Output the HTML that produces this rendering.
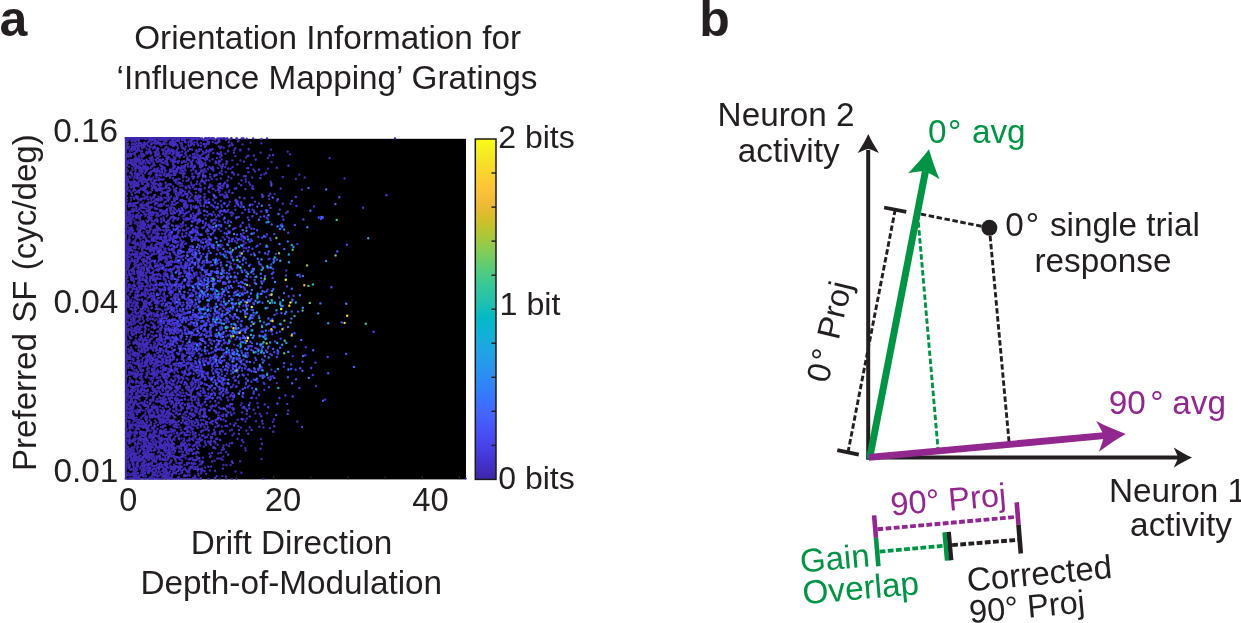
<!DOCTYPE html>
<html lang="en"><head><meta charset="utf-8"><title>Orientation information figure</title>
<style>
html,body{margin:0;padding:0;background:#fff;}
body{width:1241px;height:623px;overflow:hidden;}
svg{display:block;}
svg text{font-family:"Liberation Sans",sans-serif;}
</style></head><body>
<svg width="1241" height="623" viewBox="0 0 1241 623">
<defs><linearGradient id="pg" x1="0" y1="1" x2="0" y2="0"><stop offset="0.0000" stop-color="#3e26a8"/><stop offset="0.0476" stop-color="#4332cb"/><stop offset="0.0952" stop-color="#4741e5"/><stop offset="0.1429" stop-color="#4852f4"/><stop offset="0.1905" stop-color="#4563fd"/><stop offset="0.2381" stop-color="#3875fe"/><stop offset="0.2857" stop-color="#2e87f7"/><stop offset="0.3333" stop-color="#2797eb"/><stop offset="0.3810" stop-color="#20a5e3"/><stop offset="0.4286" stop-color="#12b1d6"/><stop offset="0.4762" stop-color="#02bac3"/><stop offset="0.5238" stop-color="#24c1ae"/><stop offset="0.5714" stop-color="#37c897"/><stop offset="0.6190" stop-color="#57cc7a"/><stop offset="0.6667" stop-color="#81cc59"/><stop offset="0.7143" stop-color="#abc739"/><stop offset="0.7619" stop-color="#d1bf27"/><stop offset="0.8095" stop-color="#f0ba36"/><stop offset="0.8571" stop-color="#fec338"/><stop offset="0.9048" stop-color="#fad62d"/><stop offset="0.9524" stop-color="#f5e924"/><stop offset="1.0000" stop-color="#f9fb15"/><stop offset="1" stop-color="#f9fb15"/></linearGradient>
<clipPath id="pc"><rect x="124.6" y="137.1" width="343" height="342.3"/></clipPath>
</defs>
<rect width="1241" height="623" fill="#fff"/>
<!-- panel a: scatter heat map -->
<rect x="125.4" y="138.8" width="340.6" height="340.6" fill="#000"/>
<g fill="none" stroke-width="2.4" stroke-linecap="round" clip-path="url(#pc)">
<path stroke="#3e26a8" d="M125.8 137.2V479.4M125 138.3H196M125 479.1H176M127.7 138.4h0M200.6 138.4h0M193.2 138.4h0M153.9 138.4h0M142.2 138.4h0M154.8 138.4h0M157.1 138.4h0M128.9 138.4h0M166.9 138.4h0M227.4 138.4h0M212.0 138.4h0M131.1 138.4h0M163.2 138.4h0M133.3 138.4h0M146.7 138.4h0M151.3 138.4h0M171.1 138.4h0M136.9 138.4h0M134.2 138.4h0M163.5 138.4h0M173.7 138.4h0M209.1 138.4h0M147.5 138.4h0M162.7 138.4h0M231.4 138.4h0M170.6 138.4h0M151.5 138.4h0M191.4 138.4h0M207.9 138.4h0M127.8 138.4h0M175.1 138.4h0M138.6 138.4h0M166.7 138.4h0M147.0 138.4h0M165.2 138.4h0M142.3 138.4h0M155.8 138.4h0M183.2 138.4h0M137.2 138.4h0M170.5 138.4h0M144.9 138.4h0M139.4 138.4h0M186.2 138.4h0M196.5 138.4h0M162.2 138.4h0M171.9 138.4h0M221.2 138.4h0M132.8 138.4h0M154.8 138.4h0M166.4 138.4h0M202.0 138.4h0M171.0 138.4h0M160.3 138.4h0M147.9 138.4h0M178.4 138.4h0M199.1 138.4h0M159.6 138.4h0M159.0 138.4h0M223.0 138.4h0M144.9 138.4h0M139.6 138.4h0M168.8 138.4h0M149.9 138.4h0M126.8 138.4h0M144.7 138.4h0M174.0 138.4h0M158.7 138.4h0M131.6 138.4h0M152.9 138.4h0M154.5 138.4h0M185.5 138.4h0M159.1 138.4h0M135.6 138.4h0M160.6 138.4h0M195.1 138.4h0M224.3 138.4h0M212.3 138.4h0M174.4 138.4h0M151.4 138.4h0M131.0 138.4h0M181.2 138.4h0M194.9 138.4h0M195.2 138.4h0M157.0 138.4h0M197.4 138.4h0M213.8 138.4h0M142.4 138.4h0M197.8 138.4h0M139.2 138.4h0M209.1 138.4h0M237.1 138.4h0M223.6 138.4h0M157.4 138.4h0M164.5 138.4h0M212.7 138.4h0M149.0 138.4h0M166.8 138.4h0M142.1 138.4h0M126.7 138.4h0M137.0 138.4h0M166.2 138.4h0M147.1 138.4h0M142.7 138.4h0M130.9 138.4h0M138.0 138.4h0M196.5 138.4h0M152.5 138.4h0M192.2 138.4h0M136.3 138.4h0M205.0 138.4h0M199.2 138.4h0M155.0 138.4h0M241.7 138.4h0M129.2 138.4h0M151.2 138.4h0M205.4 138.4h0M198.6 138.4h0M267.1 138.4h0M171.0 138.4h0M161.4 138.4h0M158.6 138.4h0M171.5 138.4h0M140.7 138.4h0M145.0 138.4h0M136.4 138.4h0M186.0 138.4h0M127.0 138.4h0M176.3 138.4h0M148.9 138.4h0M143.8 138.4h0M243.4 138.4h0M205.5 138.4h0M169.6 138.4h0M158.3 138.4h0M157.7 138.4h0M155.6 138.4h0M198.5 138.4h0M170.5 138.4h0M181.7 138.4h0M131.9 138.4h0M164.2 138.4h0M166.0 138.4h0M152.6 138.4h0M187.9 138.4h0M155.9 138.4h0M130.9 138.4h0M139.6 138.4h0M144.4 138.4h0M231.6 138.4h0M129.8 138.4h0M138.2 138.4h0M185.4 138.4h0M157.6 138.4h0M161.2 138.4h0M165.6 138.4h0M236.4 138.4h0M167.4 138.4h0M226.5 138.4h0M242.9 138.4h0M170.8 138.4h0M147.0 138.4h0M151.0 138.4h0M156.6 138.4h0M155.6 138.4h0M136.9 138.4h0M135.4 138.4h0M208.4 138.4h0M134.9 138.4h0M166.9 138.4h0M132.7 138.4h0M151.5 138.4h0M159.8 138.4h0M170.8 138.4h0M142.8 138.4h0M143.2 138.4h0M130.9 138.4h0M150.4 138.4h0M134.8 138.4h0M153.1 138.4h0M147.1 138.4h0M126.6 138.4h0M157.8 138.4h0M198.9 138.4h0M174.6 138.4h0M167.7 138.4h0M166.2 138.4h0M136.7 138.4h0M156.8 138.4h0M141.8 138.4h0M157.4 138.4h0M184.6 138.4h0M172.3 138.4h0M198.0 138.4h0M128.2 138.4h0M190.0 138.4h0M126.3 138.4h0M211.4 138.4h0M224.2 138.4h0M209.6 138.4h0M152.1 138.4h0M155.7 138.4h0M205.6 138.4h0M142.3 138.4h0M180.6 138.4h0M151.5 138.4h0M140.2 138.4h0M178.0 138.4h0M134.6 138.4h0M144.3 138.4h0M132.8 138.4h0M160.5 138.4h0M177.6 138.4h0M169.3 138.4h0M153.6 138.4h0M185.8 138.4h0M145.9 138.4h0M218.9 138.4h0M178.7 138.4h0M154.2 138.4h0M164.2 138.4h0M150.8 138.4h0M132.6 138.4h0M130.7 138.4h0M253.2 138.4h0M136.3 138.4h0M182.4 138.4h0M164.2 138.4h0M206.9 138.4h0M209.2 138.4h0M177.7 138.4h0M171.2 138.4h0M217.4 138.4h0M127.2 138.4h0M185.8 138.4h0M140.3 138.4h0M231.0 138.4h0M134.0 138.4h0M150.3 138.4h0M149.4 138.4h0M142.4 138.4h0M157.3 138.4h0M173.3 138.4h0M207.0 138.4h0M138.0 138.4h0M137.4 138.4h0M145.2 138.4h0M180.1 138.4h0M220.7 138.4h0M148.7 138.4h0M164.2 138.4h0M177.6 138.4h0M165.0 138.4h0M183.4 138.4h0M147.2 138.4h0M166.5 138.4h0M237.1 138.4h0M170.0 138.4h0M159.9 138.4h0M159.2 138.4h0M195.2 138.4h0M139.8 479.1h0M147.2 479.1h0M184.4 479.1h0M173.3 479.1h0M144.9 479.1h0M126.4 479.1h0M171.2 479.1h0M172.1 479.1h0M139.0 479.1h0M170.1 479.1h0M148.7 479.1h0M142.2 479.1h0M198.1 479.1h0M152.0 479.1h0M135.8 479.1h0M150.0 479.1h0M132.1 479.1h0M127.5 479.1h0M143.7 479.1h0M133.8 479.1h0M170.5 479.1h0M131.4 479.1h0M137.0 479.1h0M146.4 479.1h0M166.0 479.1h0M152.8 479.1h0M183.9 479.1h0M138.5 479.1h0M136.5 479.1h0M138.8 479.1h0M144.1 479.1h0M136.4 479.1h0M151.1 479.1h0M136.3 479.1h0M185.8 479.1h0M176.4 479.1h0M145.3 479.1h0M185.9 479.1h0M134.3 479.1h0M139.9 479.1h0M131.6 479.1h0M169.3 479.1h0M140.9 479.1h0M263.5 479.1h0M174.4 479.1h0M138.6 479.1h0M137.6 479.1h0M133.1 479.1h0M194.6 479.1h0M169.5 479.1h0M143.3 479.1h0M127.3 479.1h0M187.9 479.1h0M152.6 479.1h0M132.4 479.1h0M236.5 479.1h0M154.9 479.1h0M160.1 479.1h0M127.1 479.1h0M127.5 479.1h0M157.9 479.1h0M130.7 479.1h0M154.6 479.1h0M133.8 479.1h0M226.1 479.1h0M174.1 479.1h0M231.5 479.1h0M131.2 479.1h0M159.1 479.1h0M149.4 479.1h0M132.4 479.1h0M199.2 479.1h0M161.2 479.1h0M159.6 479.1h0M132.9 479.1h0M127.3 479.1h0M138.7 479.1h0M175.0 479.1h0M146.1 479.1h0M139.1 479.1h0M174.3 479.1h0M133.1 479.1h0M128.7 479.1h0M155.9 479.1h0M147.3 479.1h0M150.0 479.1h0M231.9 479.1h0M164.4 479.1h0M147.3 479.1h0M133.9 479.1h0M165.5 479.1h0M142.4 479.1h0M139.9 479.1h0M219.8 479.1h0M134.7 479.1h0M146.0 479.1h0M187.0 479.1h0M195.7 479.1h0M180.0 479.1h0M169.9 479.1h0M209.3 479.1h0M147.5 479.1h0M126.8 479.1h0M162.4 479.1h0M130.6 479.1h0M134.2 479.1h0M182.8 479.1h0M142.8 479.1h0M142.7 479.1h0M139.1 479.1h0M143.3 479.1h0M130.3 479.1h0M137.8 479.1h0M126.3 479.1h0M154.6 479.1h0M144.9 479.1h0M146.6 479.1h0M148.1 479.1h0M192.1 479.1h0M129.7 479.1h0M163.5 479.1h0M140.7 479.1h0M147.2 479.1h0M154.3 479.1h0M130.4 479.1h0M135.6 479.1h0M149.1 479.1h0M173.9 479.1h0M148.4 479.1h0M129.4 479.1h0M186.6 479.1h0M215.5 479.1h0M142.5 479.1h0M146.3 479.1h0M142.2 479.1h0M144.5 479.1h0M139.7 479.1h0M185.3 479.1h0M139.3 479.1h0M142.3 479.1h0M140.0 479.1h0M154.3 479.1h0M146.4 479.1h0M133.7 479.1h0M156.6 479.1h0M127.3 479.1h0M134.4 479.1h0M154.4 479.1h0M127.4 479.1h0M145.9 479.1h0M181.1 479.1h0M163.4 479.1h0M174.0 479.1h0M148.9 479.1h0M130.0 479.1h0M141.7 479.1h0M136.4 479.1h0M161.8 479.1h0M130.1 479.1h0M182.1 479.1h0M127.3 479.1h0M179.6 479.1h0M132.1 479.1h0M171.5 479.1h0M173.8 479.1h0M130.3 479.1h0M128.8 479.1h0M188.9 479.1h0M154.2 479.1h0M208.0 479.1h0M182.1 479.1h0M195.0 479.1h0M151.9 479.1h0M144.6 479.1h0M132.6 479.1h0M180.7 479.1h0M175.2 479.1h0M144.5 479.1h0M154.4 479.1h0M136.3 479.1h0M183.4 479.1h0M139.0 479.1h0M161.4 479.1h0M191.0 479.1h0M142.4 479.1h0M131.4 479.1h0M165.6 479.1h0M177.1 479.1h0M143.2 479.1h0M153.9 479.1h0M142.9 479.1h0M139.6 479.1h0M137.6 479.1h0M166.8 479.1h0M190.0 479.1h0M135.9 479.1h0M133.1 479.1h0M147.5 479.1h0M197.5 479.1h0M126.5 479.1h0M125.9 293.5h0M125.9 391.8h0M125.9 413.2h0M125.9 269.1h0M125.9 321.0h0M125.9 171.8h0M125.9 235.9h0M125.9 214.5h0M125.9 243.7h0M125.9 249.1h0M125.9 334.5h0M125.9 252.0h0M125.9 250.0h0M125.9 421.8h0M125.9 142.7h0M125.9 140.4h0M125.9 158.1h0M125.9 433.5h0M125.9 354.5h0M125.9 386.6h0M125.9 464.9h0M125.9 212.9h0M125.9 452.0h0M125.9 221.3h0M125.9 315.4h0M125.9 370.6h0M125.9 410.2h0M125.9 223.1h0M125.9 301.1h0M125.9 154.1h0M125.9 236.7h0M125.9 472.8h0M125.9 447.0h0M125.9 336.9h0M125.9 406.6h0M125.9 446.0h0M125.9 251.7h0M125.9 472.7h0M125.9 291.4h0M125.9 192.7h0M125.9 319.2h0M125.9 340.9h0M125.9 374.6h0M125.9 367.2h0M125.9 152.7h0M125.9 356.3h0M125.9 452.6h0M125.9 366.9h0M125.9 470.9h0M125.9 312.9h0M125.9 414.6h0M125.9 186.4h0M125.9 443.7h0M125.9 287.3h0M125.9 437.3h0M125.9 247.9h0M125.9 351.3h0M125.9 427.0h0M125.9 381.0h0M125.9 349.8h0M125.9 469.3h0M125.9 168.6h0M125.9 173.3h0M125.9 326.5h0M125.9 463.9h0M125.9 372.5h0M125.9 244.1h0M125.9 175.3h0M125.9 291.3h0M125.9 302.2h0M125.9 298.1h0M125.9 349.6h0M125.9 231.5h0M125.9 438.5h0M125.9 236.8h0M125.9 175.1h0M125.9 257.5h0M125.9 457.4h0M125.9 192.9h0M125.9 233.2h0M125.9 454.3h0M125.9 257.2h0M125.9 425.8h0M125.9 154.1h0M125.9 441.3h0M125.9 219.4h0M125.9 200.1h0M125.9 391.5h0M125.9 475.7h0M125.9 465.4h0M125.9 394.9h0M125.9 450.1h0M125.9 474.9h0M125.9 326.9h0M125.9 187.9h0M125.9 428.0h0M125.9 273.5h0M125.9 245.1h0M125.9 309.3h0M125.9 150.5h0M125.9 145.0h0M125.9 228.7h0M125.9 341.6h0M125.9 393.9h0M125.9 464.7h0M125.9 417.3h0M125.9 459.2h0M125.9 355.4h0M125.9 388.6h0M125.9 338.7h0M125.9 166.3h0M125.9 159.7h0M125.9 397.6h0M125.9 207.5h0M125.9 407.7h0M125.9 296.7h0M125.9 141.0h0M125.9 329.9h0M125.9 289.5h0M125.9 163.8h0M125.9 227.5h0M125.9 243.1h0M125.9 256.4h0M125.9 379.4h0M125.9 195.6h0M125.9 289.6h0M125.9 345.3h0M125.9 461.0h0M125.9 177.8h0M125.9 165.6h0M125.9 203.9h0M125.9 213.8h0M125.9 194.1h0M125.9 164.5h0M125.9 210.0h0M125.9 214.7h0M125.9 302.0h0M125.9 359.3h0M125.9 262.6h0M125.9 195.9h0M125.9 170.9h0M125.9 228.2h0M125.9 196.8h0M125.9 302.5h0M125.9 435.4h0M125.9 382.7h0M125.9 207.8h0M125.9 150.8h0M125.9 161.6h0M125.9 287.1h0M125.9 262.5h0M125.9 371.1h0M125.9 167.2h0M125.9 225.3h0M125.9 372.2h0M125.9 332.1h0M125.9 314.6h0M125.9 445.8h0M125.9 177.2h0M125.9 205.2h0M125.9 331.3h0M125.9 331.2h0M125.9 472.5h0M125.9 471.6h0M125.9 338.7h0M125.9 397.1h0M125.9 376.2h0M125.9 183.9h0M125.9 343.8h0M125.9 242.8h0M125.9 260.9h0M125.9 191.8h0M125.9 141.4h0M125.9 429.4h0M125.9 382.9h0M125.9 394.9h0M125.9 236.7h0M125.9 280.8h0M125.9 198.6h0M125.9 343.8h0M125.9 424.5h0M125.9 403.9h0M125.9 456.7h0M125.9 227.3h0M125.9 377.5h0M125.9 181.8h0M125.9 321.3h0M125.9 176.2h0M125.9 322.7h0M125.9 323.3h0M125.9 256.8h0M125.9 257.7h0M125.9 380.9h0M125.9 302.5h0M125.9 277.5h0M125.9 177.0h0M125.9 234.8h0M125.9 427.2h0M125.9 469.8h0M125.9 265.7h0M125.9 435.3h0M125.9 436.3h0M125.9 212.9h0M125.9 231.9h0M125.9 375.7h0M125.9 242.9h0M125.9 464.1h0M125.9 263.0h0M125.9 387.4h0M125.9 379.6h0M125.9 211.4h0M125.9 433.6h0M125.9 250.6h0M125.9 176.1h0M125.9 155.7h0M125.9 292.5h0M125.9 354.3h0M125.9 231.1h0M125.9 425.4h0M125.9 229.7h0M125.9 427.3h0M125.9 149.9h0M125.9 228.1h0M125.9 192.9h0M125.9 291.1h0M125.9 258.1h0M125.9 273.1h0M125.9 428.7h0M125.9 336.1h0M125.9 344.9h0M125.9 271.5h0M125.9 413.9h0M125.9 309.6h0M125.9 392.8h0M125.9 450.1h0M125.9 347.1h0M125.9 286.9h0M125.9 228.4h0M125.9 449.3h0M125.9 399.2h0M125.9 411.0h0M125.9 214.0h0M125.9 287.4h0M125.9 439.6h0M125.9 222.4h0M125.9 415.9h0M125.9 322.1h0M125.9 213.1h0M125.9 266.5h0M125.9 164.6h0M125.9 367.9h0M125.9 386.3h0M125.9 148.5h0M125.9 241.3h0M125.9 400.5h0M125.9 206.9h0M125.9 321.6h0M125.9 413.2h0M125.9 332.8h0M125.9 180.2h0M125.9 448.4h0M125.9 393.0h0M125.9 331.1h0M125.9 252.0h0M125.9 337.0h0M125.9 272.0h0M125.9 179.0h0M125.9 180.2h0M125.9 154.0h0M125.9 196.6h0M125.9 222.3h0M125.9 355.0h0M125.9 336.3h0M125.9 339.8h0M125.9 418.7h0M125.9 171.0h0M125.9 271.1h0M125.9 165.6h0M125.9 281.3h0M125.9 165.4h0M125.9 161.2h0M125.9 174.1h0M125.9 271.4h0M125.9 398.6h0M125.9 234.6h0M125.9 391.3h0M125.9 218.1h0M125.9 236.5h0M125.9 299.2h0M125.9 164.1h0M125.9 291.5h0M125.9 337.4h0M125.9 419.5h0M125.9 157.7h0M125.9 411.1h0M125.9 332.7h0M125.9 335.6h0M125.9 156.0h0M125.9 438.4h0M125.9 233.1h0M125.9 324.8h0M125.9 322.1h0M125.9 448.7h0M125.9 343.5h0M125.9 476.4h0M125.9 217.7h0M125.9 364.2h0M125.9 335.1h0M125.9 313.6h0M125.9 352.4h0M125.9 326.2h0M125.9 253.4h0M125.9 357.2h0M125.9 167.0h0M125.9 301.8h0M125.9 292.9h0M125.9 211.2h0M125.9 332.1h0M125.9 366.8h0M125.9 181.2h0M125.9 239.8h0M125.9 159.7h0M125.9 342.1h0M125.9 166.4h0M125.9 216.8h0M125.9 291.2h0M125.9 292.5h0M125.9 149.8h0M125.9 461.4h0M125.9 217.0h0M465.7 478.8h0M395.0 138.4h0"/>
<path stroke="#3e26a8" d="M131.4 348.9h0M143.5 439.2h0M136 222h0M128.3 233.2h0M146.5 153.4h0M146 470.5h0M129.5 364.4h0M135.2 420.4h0M137.2 457.1h0M157 441.7h0M142.1 146.7h0M126.7 148.5h0M137 139.6h0M142.4 188.2h0M163.4 142.8h0M132.8 459.9h0M149.9 471.1h0M127.3 316.8h0M127.9 385.3h0M128.4 286.3h0M143 162.4h0M133.1 206.3h0M130.3 392.3h0M143 179.1h0M128.2 154.4h0M179.7 463h0M130.1 403.6h0M136.3 393.2h0M129.3 405.7h0M132.8 428.4h0M128.3 457.1h0M132.5 230.4h0M153.1 442.6h0M136 347.4h0M126.8 434.4h0M127.8 274.9h0M130.8 183.9h0M135.1 396.7h0M156.6 476.3h0M129.9 474.2h0M126.7 445.6h0M128.4 162h0M134.4 149.5h0M136.3 182.9h0M128.2 243.5h0M142.9 322.8h0M137.4 215.4h0M140.3 226.3h0M126.4 391.3h0M131 200.1h0M131.5 453.9h0M162.1 170.9h0M133.3 372.6h0M154.1 459.3h0M168 369.2h0M132.6 462.3h0M128.6 385.8h0M132.1 149.9h0M148.3 425.9h0M130.3 247.1h0M135.4 292.1h0M128.1 478.9h0M145.6 434.6h0M131.9 367.2h0M143.6 254.1h0M166.5 394.5h0M127.3 296.5h0M151.7 463.8h0M137.3 289.8h0M127.8 393.7h0M147.5 199.1h0M180.1 143.1h0M127.1 217.7h0M133.9 254.9h0M135.4 475h0M136.6 297.1h0M137.7 450.7h0M129.4 240.3h0M137.8 275.8h0M133.2 303.5h0M128.5 251.5h0M128 302.5h0M136 217.9h0M130.2 239.9h0M146.6 427.7h0M147.5 391h0M132 460.5h0M140.4 329.5h0M142.9 202.4h0M134.7 153.5h0M135.4 189.9h0M127 198h0M133.6 359.9h0M151.7 189.2h0M126.9 453.5h0M134.8 370.4h0M127.9 344.9h0M136.4 304.1h0M133 331.1h0M131.6 149.8h0M127.6 266h0M135.4 244.8h0M128.9 475.4h0M132.5 261h0M131.6 450.2h0M148.2 214.3h0M130.6 403.1h0M160.2 410.5h0M136.8 150.3h0M136.3 313.1h0M143.8 144.2h0M134 248.1h0M139 162.7h0M129.6 230h0M144.8 304.3h0M142.6 339.3h0M144.3 291.4h0M133.7 203.2h0M151.6 244.1h0M130.8 326.5h0M134.3 272.5h0M132.3 463.3h0M146.7 181.3h0M133.7 397h0M130.8 400.1h0M153.5 429.1h0M131.8 433h0M127.4 277.8h0M128.9 250.6h0M146.5 445.9h0M127.7 328.6h0M147.4 450.3h0M126.3 168.1h0M141.6 159.1h0M145 466h0M146.8 426.8h0M145.2 188.2h0M149.7 477.5h0M132.5 458.2h0M139.2 479.1h0M143.6 446h0M152.1 363h0M144.3 155.6h0M144.4 454.2h0M127.4 143.7h0M126.7 376.4h0M133.5 343.7h0M126.8 143.9h0M135.9 164.3h0M132.4 358.5h0M135.6 256.1h0M129.2 240.7h0M128.9 270.8h0M222.4 476.1h0M146.9 450.1h0M136.4 412.6h0M128 248.8h0M132.4 309.9h0M143.1 472.6h0M139.3 171.3h0M132.5 280.4h0M160.5 459.2h0M135.1 251.5h0M127.7 261.7h0M135 266.3h0M138.8 284.9h0M146.6 151.7h0M126.1 376.4h0M133.9 322.6h0M138.7 175h0M150.9 386h0M127.9 289.3h0M127.8 243h0M128.5 298.4h0M159.6 160.3h0M140.3 223.9h0M139.2 423.9h0M129.6 329.4h0M129.3 284.7h0M138 260.7h0M129.5 316.2h0M172.5 421.8h0M141 408.4h0M136.1 196h0M136 382.7h0M135.6 317.4h0M137 151.5h0M135.8 156.8h0M131.5 453.6h0M145.4 246h0M136.8 197.8h0M140.9 381.6h0M153 197.5h0M140.9 162.4h0M126.5 435h0M126 457.1h0M128.3 160.4h0M131.5 140.6h0M128 440.2h0M126.7 169h0M140.9 447.3h0M137.9 441.9h0M142.6 435.7h0M134.6 417.7h0M132.9 469h0M132.2 167.9h0M156.3 456.1h0M135.5 398.3h0M137.3 321.5h0M125.9 178.2h0M134.9 375.8h0M140.5 177.3h0M137.7 392.8h0M128.1 270h0M137.5 229.6h0M128.3 432.8h0M141.6 272.3h0M135.9 469.1h0M140.4 351.5h0M133.7 470.9h0M137.2 341.1h0M130.8 249.1h0M133.4 161.1h0M130.5 456h0M139.4 351.7h0M142.6 153.6h0M138.2 478h0M130.1 215.8h0M140.7 269.9h0M142.8 422.8h0M130.8 399.7h0M128.3 254.3h0M130.8 426.2h0M131.5 291h0M153.8 180.2h0M147.5 179.6h0M128.6 215.3h0M127.9 318.6h0M134.4 176.8h0M161 145.7h0M158.9 469.3h0M131.1 416.9h0M129.7 218.6h0M129.2 424.8h0M130.5 235h0M130.2 274.8h0M129.8 450.5h0M139.2 438.8h0M130 183.6h0M129.7 455.2h0M133.7 272.2h0M146.9 206.3h0M138.1 173.5h0M128.8 325h0M144.5 460.3h0M138.3 140.6h0M129.6 380.4h0M128 245.5h0M125.8 392.3h0M131.2 329.7h0M133.8 464.1h0M128 366.1h0M169.6 424.1h0M185 447.5h0M127.1 249.7h0M136.9 161.5h0M128.7 391.8h0M130 377.9h0M144.6 425.9h0M127.5 144.5h0M147.1 453.9h0M128.4 462h0M129.5 235.9h0M127.4 400.4h0M131.6 447.4h0M140 437.5h0M125.8 182.1h0M126.9 416h0M127.5 436.9h0M129.9 150.7h0M168.4 446.5h0M142 148.4h0M126.4 361.3h0M141.6 378.5h0M137.2 160.6h0M131.9 354.4h0M128.6 351.7h0M158.3 141.5h0M151.1 463.5h0M144.4 228.9h0M130 475.1h0M126.8 437.2h0M129.9 350.1h0M145 229.1h0M128.2 217.1h0M134.2 431.9h0M152 190.2h0M131.4 220h0M141.3 382.6h0M135.8 478.1h0M173.8 453.4h0M147.7 349.4h0M130.8 391.7h0M127 225.3h0M133.1 153.4h0M151.5 144.6h0M131 457.8h0M129.2 221h0M132.9 147.4h0M127.8 259.4h0M128 187.4h0M156.1 444.1h0M129.4 264h0M135.7 163.2h0M137.1 167.2h0M134.7 471.2h0M144.8 305h0M136.3 157.3h0M129.2 211.8h0M129.7 350.2h0M138.4 330.4h0M153.9 430.5h0M138.6 281.2h0M162.7 447.3h0M139.1 316.7h0M155.4 406.2h0M136.2 479h0M135.3 310.8h0M131 329.5h0M135.2 439h0M156.4 417.4h0M133.8 341.9h0M125.9 198.7h0M133.4 451.8h0M134.7 328.6h0M138.7 181.1h0M134.1 438.6h0M130.6 427.6h0M148.9 437.6h0M135.1 232.9h0M129.3 409.4h0M126.5 340.1h0M134.7 460.3h0M132.2 399.1h0M131.9 393.1h0M143.6 476.4h0M138.1 282.7h0M133.6 178.5h0M141.7 403.5h0M134.2 198.9h0M157.4 441.4h0M128.3 157h0M131.4 277.4h0M152.6 138.6h0M136.6 473.5h0M152.6 445.7h0M150.8 154.1h0M128.4 259.9h0M144.2 443.6h0M147 256.9h0M130.5 412h0M133 214.7h0M132 209.5h0M135.4 444.9h0M126.6 358.1h0M127.4 432.8h0M161.7 199h0M126.9 216.7h0M138.8 141.8h0M178.7 463.5h0M134.6 355.2h0M128.4 290.7h0M132.3 204.2h0M129.2 437.6h0M130.4 395.3h0M126.1 442.5h0M138.1 447h0M127.5 245.2h0M152.9 357.6h0M129.4 382.4h0M126.8 230.6h0M139.8 411.9h0M136 457h0M132.6 297.4h0M135.4 331.8h0M127.8 354.9h0M127.1 267.4h0M128.3 349.2h0M130.4 401.6h0M148 446.2h0M127.2 341.4h0M132.5 150.4h0M135 402.8h0M127.7 356.9h0M126.3 365.2h0M146.6 442.8h0M130.7 475h0M168.3 435.7h0M133.4 138.6h0M138.5 462.1h0M158.8 161.4h0M126.8 407h0M143.4 236h0M140.8 443.6h0M134.5 420.7h0M140.3 200.3h0M133.7 144.2h0M125.9 188.3h0M159.7 438.8h0M129.7 396.6h0M163.6 188.4h0M131.5 247.1h0M132.3 394.6h0M131.3 323.8h0M130.6 212.1h0M154.2 473.3h0M137.8 199.3h0M131 197.6h0M131.4 322h0M135.1 242h0M130.1 294.5h0M131.1 232.4h0M136.5 401.9h0M133.6 466h0M163 475.3h0M162.2 471h0M128.2 464.1h0M129.3 237.4h0M131.7 186.8h0M133.8 234.1h0M128.8 263.7h0M146 419.7h0M131.6 416.3h0M133.5 458h0M146.9 426.3h0M128.2 334.5h0M129.5 478.5h0M139.1 285.9h0M134.3 455.5h0M136.1 151h0M131.2 413.4h0M126.3 311.7h0M133 359.2h0M152.2 143.3h0M129.6 336.6h0M127.2 429.4h0M131.5 232.3h0M144.2 198.3h0M127.1 211.4h0M137.1 428.2h0M150 174.5h0M128.9 358.1h0M137.1 253.7h0M128.4 214.3h0M141.5 472.2h0M133.8 241.2h0M134.5 447.3h0M126.4 457.3h0M139.3 174.4h0M133.5 273.5h0M149.3 231h0M126 279.1h0M126.5 220.2h0M133.3 186.3h0M128.5 329h0M141.1 440.8h0M132.8 250.5h0M134.8 155h0M130.3 431.3h0M128.8 442.4h0M134 320.3h0M151.3 401h0M133.2 372.8h0M143 238.1h0M140 436.7h0M131.4 250.7h0M138.2 382.2h0M133.6 270.9h0M147.3 457.2h0M130.7 138.6h0M135.1 294.7h0M138 466.6h0M132.4 160.1h0M126.3 420.1h0M129.8 435h0M138.2 199.2h0M138.7 225.9h0M127.3 182.8h0M142.2 370.8h0M130.3 222.5h0M131.7 366.3h0M129.7 428.7h0M132.3 242.9h0M126.3 402.9h0M137.4 283.4h0M136.2 182.7h0M125.9 429.1h0M136.3 289.5h0M148.8 446.5h0M138.3 412.3h0M128.3 153.8h0M126.2 204.4h0M132 450.3h0M134.6 147.8h0M145.4 166.6h0M130.7 459.8h0M130.6 211.6h0M127.2 242.9h0M127.8 225h0M137.1 243.9h0M133.1 449.5h0M135.8 161.5h0M143.5 166.5h0M164.2 469.2h0M166.3 431.8h0M150.7 364.3h0M126.9 375.8h0M134.5 367.2h0M127.7 161.8h0M128.4 297.1h0M129.7 385.2h0M142.3 445.6h0M128 440.5h0M132.2 426.5h0M154.2 270.6h0M142.8 471.4h0M147.1 386.2h0M133.7 419.6h0M142.4 268.4h0M131.9 349.9h0M127.1 182.1h0M142.6 145.9h0M128.8 383.4h0M132.5 232.9h0M130.8 276.8h0M135.5 457.2h0M131.3 274h0M136.4 445h0M127.3 232.5h0M181.8 170.3h0M168.8 472.8h0M163.2 150.8h0M128.8 212h0M127.4 415.6h0M127.3 253.4h0M149.4 443.1h0M129.8 203.7h0M135.1 139.3h0M127.6 221.4h0M127.3 259.4h0M141 355.8h0M128.7 273h0M128.1 408.8h0M138.5 273.9h0M138.5 443.3h0M149.2 471.5h0M127.7 268.3h0M145.3 449.6h0M142.1 351.2h0M141.6 379.1h0M138.9 248.5h0M143.7 194.9h0M135.9 292.3h0M128.3 243.7h0M134.8 223.2h0M145.3 440.8h0M131.4 381.5h0M142.4 163.4h0M138 183.5h0M136.8 264.9h0M126 186.5h0M129.7 439.8h0M153.2 159.2h0M131.2 417.5h0M136.1 353.5h0M134.9 425.3h0M136.8 211h0M127.7 390.2h0M128 446.9h0M127.1 288.8h0M127.8 138.8h0M131.4 349.6h0M139.6 163.9h0M139.5 173.9h0M137.7 252.3h0M129.3 467.8h0M138 331.7h0M136.1 431.5h0M130.3 412.8h0M137.3 425.6h0M126.5 354.4h0M128.7 214.5h0M150.9 463.9h0M172.1 466.9h0M126.4 429.8h0M132.2 164.8h0M130.5 202.7h0M128.2 245.6h0M131.3 260.2h0M131.2 217.6h0M133.3 204.3h0M138.3 405.4h0M152.8 161.4h0M136 158.3h0M135.9 362.9h0M143.3 371h0M153.3 411.7h0M127.9 404h0M129.3 248.2h0M133.9 140.5h0M139.9 230.1h0M149.9 416.4h0M134.8 432.1h0M129 375h0M131 347.4h0M137.7 453.2h0M132.8 381.3h0M156.4 430.7h0M153.1 441.7h0M140.8 295.5h0M131.1 478h0M145.1 187.3h0M139.1 217.7h0M130.3 408h0M132.9 362.5h0M126.4 194h0M139.4 476.7h0M135.3 455.4h0M137 329.1h0M128.2 261.2h0M138.7 173.6h0M138.1 421.7h0M129.8 356.2h0M129.6 205.6h0M132.2 453.8h0M135.6 455.5h0M132.8 312.5h0M137.5 387.9h0M126.9 306.4h0M132.2 333.3h0M135.4 410.9h0M137.3 355.2h0M132.3 148.6h0M141.4 156.3h0M129.4 214h0M127 154.9h0M137.9 386.1h0M130.3 228.2h0M128.1 405.3h0M131.9 181.7h0M142.2 254.9h0M138.8 339.2h0M138.1 463h0M131.3 223.5h0M131.5 415.1h0M139.8 218.9h0M127.1 354.5h0M131.6 138.6h0M134.9 174.4h0M139 475.7h0M128.5 227.6h0M134.7 411.3h0M127.2 179.7h0M144.1 178.7h0M150.6 447.7h0M134.4 158.8h0M138 296.3h0M133.6 358.9h0M135.3 322.4h0M170.9 462.2h0M143.9 463.3h0M126.8 283.4h0M134.4 300.6h0M130.7 220.7h0M145.6 468.3h0M129.4 205.4h0M128.2 389.4h0M149 447.4h0M131.4 359.4h0M133.8 197.5h0M126.2 469.9h0M139.7 322.9h0M128.7 213.5h0M140 216.3h0M148.9 437.1h0M129.4 341.2h0M140.6 168.9h0M129.1 349.6h0M134.1 402.6h0M128.3 367.9h0M130.4 338.3h0M164.2 470.5h0M126.7 261.4h0M133.6 464.6h0M141.9 364h0M158.2 142.6h0M127.1 183.5h0M141.2 436.6h0M149.8 212h0M140.7 286.1h0M128.9 303.3h0M130.5 292.2h0M134.4 181.8h0M140.5 378.3h0M136.5 363.6h0M132.8 461.7h0M128.8 156h0M127.2 200.9h0M132.2 218.3h0M126.6 221.9h0M140.9 458.7h0M140.7 455.6h0M138.6 453.2h0M140.8 391h0M129.6 358.8h0M139.3 234h0M127.4 178.9h0M139.1 364.7h0M137.2 224.4h0M151.6 142.6h0M133 463.5h0M127.1 253.9h0M141 188.5h0M141.6 351h0M139.6 328.2h0M130.9 171.9h0M140.1 455.4h0M145.1 472.9h0M130.7 215h0M140.6 220.4h0M128.6 181.6h0M136.7 185.7h0M146.1 408.6h0M129.6 411.5h0M143.3 160.7h0M127.6 277.2h0M138.7 147h0M130.1 469.4h0M159.5 238.3h0M165.8 417.1h0M133.3 439.9h0M127.3 314.9h0M141.1 417.8h0M136.5 417.6h0M132.6 424.9h0M151.1 182.1h0M126.2 213.6h0M133.4 203.4h0M135.9 410.7h0M128.9 356.2h0M131.8 210.8h0M128.9 374.3h0M142.3 379.2h0M126.7 409.3h0M135.2 148.9h0M145.2 205.1h0M133.6 391.3h0M133.9 459.3h0M130.3 153.4h0M129.4 294.4h0M141.4 268.7h0M134.2 403.8h0M126.4 260.2h0M126.7 219.8h0M129.1 402.8h0M145 237.3h0M141.9 469.4h0M143.4 422.5h0M130.9 150.2h0M136.8 422.5h0M154.1 444.6h0M138.1 215.5h0M129 357.6h0M142.9 457.4h0M126.2 454h0M132.7 352.2h0M152.8 455.2h0M132.1 328.2h0M150.3 197.4h0M181.2 472.7h0M136.1 468h0M132.9 447.4h0M150.5 467.4h0M131.2 456.6h0M130.4 433.7h0M127.4 180.4h0M135.8 177.6h0M130.9 424.9h0M129.9 301.7h0M147.7 404.9h0M132.5 407.9h0M148.2 410.3h0M157.8 452.4h0M138 389.8h0M127.5 329.2h0M141.5 215.4h0M141.7 381.1h0M133.4 354.3h0M131.7 173.7h0M138.8 191.1h0M128.6 434.3h0M126.1 201.4h0M134.7 173.6h0M128.6 303.7h0M127.7 451.1h0M146.6 456.3h0M137.8 266.6h0M140.4 433.2h0M148 408.8h0M130.1 469.4h0M127.9 331.8h0M127 146.4h0M127.9 326.1h0M135.6 382.5h0M128 259.8h0M134.3 243.5h0M132 194.9h0M149.5 256.8h0M165 455.9h0M130.4 317.5h0M126.4 178.7h0M141.1 210.6h0M132.7 303.6h0M139.3 457.9h0M128.5 240.8h0M138.9 148.9h0M141.4 472.6h0M131.1 279.3h0M127.7 179.5h0M131.6 305.7h0M147.5 426.9h0M143.6 176.3h0M134.6 162.1h0M131.2 149.3h0M126.9 193.7h0M125.8 228.4h0M144.4 246.5h0M133.8 450.4h0M139.4 383.5h0M134.4 435.7h0M131.6 366h0M135.9 458.3h0M134.4 410.6h0M138.4 160.7h0M127.7 362.4h0M133.5 186.3h0M126.2 149.1h0M209.8 470.5h0M139.1 438.6h0M150.9 346.1h0M132.8 160.2h0M132.8 369.3h0M134.2 434.3h0M170 471.1h0M130.4 365.9h0M141.5 206.2h0M147.9 473.1h0M143.4 155.4h0M162.6 387.3h0M139.1 157.6h0M133.9 334h0M133.5 441.5h0M149 211.9h0M134.7 472.4h0M145 404.2h0M126.9 321.5h0M141.6 170.2h0M150.1 192.4h0M133 277.5h0M134.4 264.8h0M131.4 424.5h0M131.6 161h0M146.1 180.2h0M130.2 372.7h0M164.3 141.3h0M126.9 375.6h0M127 386.4h0M142.7 448.4h0M142.4 424.2h0M126.7 182.5h0M146.4 159.4h0M145.3 215.9h0M141.8 182.5h0M128.1 190.6h0M137.2 396.4h0M145.4 186.3h0M156.6 154.6h0M137.3 358h0M141.1 154.1h0M145.9 339.9h0M134.4 324h0M129 166.6h0M153.4 177.4h0M135.6 411h0M132.8 402.6h0M135.8 235.1h0M140.6 239.2h0M129.8 254.2h0M157.4 406.8h0M128.6 148.6h0M130.5 406.4h0M166.3 144h0M154.3 412.9h0M157.4 149.3h0M128.2 441h0M144.5 146.1h0M129 404.5h0M134.6 189.9h0M147 153.6h0M140.1 468.4h0M128.2 218h0M126.8 185.9h0M126.9 146.4h0M136.4 425.2h0M135.5 206.1h0M158.8 215.7h0M129.7 182h0M129.9 190.6h0M126.2 254.4h0M137.1 303h0M129.5 417.9h0M139.9 146h0M133 463.4h0M147.1 421.7h0M136.3 412.4h0M148.4 406.1h0M137.4 174h0M137 178.6h0M132.3 150.8h0M134.9 297.6h0M127.8 171.3h0M127.7 230.8h0M149.3 162.8h0M131.3 392.4h0M145.7 426.7h0M140.3 425.9h0M134.5 424.4h0M154.5 147.9h0M126.5 268.2h0M143 190h0M143.2 458.7h0M129.2 272.5h0M133.7 289.3h0M134.7 159.8h0M136.7 459.1h0M138.3 222.5h0M143.3 441.7h0M130.2 353.8h0M131.2 192.5h0M128.3 472.9h0M133.4 470.8h0M131.4 231.1h0M129.2 427.5h0M137.4 229h0M132.9 475.4h0M131.6 418.4h0M126.3 396.3h0M126.5 304.5h0M127.7 288.2h0M128.7 432.8h0M133.1 390.8h0M127.8 458.4h0M145.7 186.3h0M166 447.7h0M131 454.5h0M129.9 257.1h0M128 421.3h0M163.9 473h0M135.1 163.5h0M144.8 244.6h0M139.2 155.7h0M126.8 343.1h0M151.3 443.9h0M131 287.2h0M138.5 270.1h0M137.8 316.3h0M149.1 177.6h0"/>
<path stroke="#402ab4" d="M147.2 396.2h0M160 430.6h0M162.2 139.6h0M127.3 412h0M129.4 250.6h0M149.4 241.8h0M135.1 402h0M134.4 474.7h0M159.6 350.2h0M133.2 230.5h0M212.8 141.9h0M140.6 369.2h0M172.5 139.1h0M135.8 433.1h0M158.7 315.2h0M129.6 421.2h0M157.8 170.9h0M141.2 270.3h0M154.4 278.8h0M137.3 257.6h0M151.8 338.5h0M135.1 352.8h0M140.6 227.5h0M173.5 172.9h0M167.5 466.1h0M165.8 363h0M147.9 430.8h0M223.2 186.2h0M140 450.6h0M145.1 327.5h0M125.8 434.4h0M126.3 227.4h0M142.1 151.3h0M154.2 431.6h0M148.9 326.1h0M133.7 388.1h0M152.1 465.8h0M149 430.4h0M129.3 443.6h0M198.6 452.7h0M163.2 388.6h0M129.2 402.1h0M146.7 316.1h0M143.9 222.5h0M142 458.3h0M136.1 333.6h0M127.4 263.3h0M145.6 296.2h0M141.8 439h0M154.2 432.3h0M188.6 459.4h0M139.9 231.8h0M157 364.4h0M144.8 350.3h0M205.1 467.6h0M157.9 213.6h0M200.7 155.8h0M163.5 217.4h0M184.2 446h0M127.6 178.8h0M165.6 342.6h0M151.7 463.5h0M135.8 302.5h0M137.7 409.8h0M182 381.2h0M159.8 445.2h0M162.6 432.1h0M134.5 319.1h0M155.8 446h0M131.4 148.5h0M171.3 144.9h0M146.7 230.8h0M169.5 199.4h0M174.6 145.2h0M183.3 454.6h0M151 358.8h0M155.9 209.1h0M209.4 151.8h0M143.3 405.1h0M195.3 155.8h0M144.8 178.9h0M174.8 426.8h0M194.1 185.2h0M170 344.3h0M164.6 172.7h0M141.6 359.8h0M154 412.9h0M205 437.7h0M165.7 147.2h0M129.9 356.6h0M149.8 218h0M149.5 232.4h0M162.8 358.6h0M186.7 360.1h0M133.6 415.3h0M149.3 218.2h0M148 167.2h0M153.8 388.6h0M150 249.5h0M200 165.7h0M179.5 392h0M148.1 186h0M133.8 186.8h0M135.9 185.8h0M139.9 238.5h0M151.7 207.5h0M155.8 375.1h0M183.3 172.9h0M230.2 396.5h0M135.2 363.7h0M218.9 160.8h0M133 317.8h0M164 237.4h0M175.1 387.1h0M126.4 454.9h0M139.1 419.7h0M146.3 275.8h0M139.7 288.8h0M270.9 149.6h0M201.1 420.2h0M156.8 278.8h0M166.4 378.5h0M144.6 415.3h0M137.4 447.5h0M152 188.6h0M158.9 391.1h0M164.2 192.5h0M199.1 413.4h0M161.1 447.9h0M137 183h0M135.6 171h0M141 180.5h0M152.6 387.8h0M133.7 208.8h0M174.2 219h0M161.1 394h0M135.8 304.7h0M164.4 149.3h0M142.8 253.8h0M172.1 299.4h0M133.8 477.3h0M163.2 230.1h0M138.2 313.3h0M136.8 425.9h0M222.9 237.3h0M221.5 430.6h0M245.7 179.1h0M148 470.8h0M184 455.8h0M145.3 224.1h0M162.6 466.9h0M171.1 445.8h0M148.5 152.2h0M162.1 341.5h0M182 161.6h0M144.5 433.3h0M159.2 414.7h0M145.5 391.3h0M150.2 374.1h0M177.6 422.1h0M162.2 389.8h0M158 199.4h0M171.8 447.4h0M149.8 259.7h0M226.3 465.1h0M144.8 405.8h0M240.8 405.1h0M147.4 354.5h0M142 293h0M154.7 416.9h0M177.4 394h0M148.5 161.2h0M200.8 143.2h0M139.9 378.1h0M142.7 319.1h0M193.1 168.4h0M144.9 452.2h0M155.3 327h0M167.8 164.4h0M137 432.5h0M143.8 211.6h0M126.5 387.8h0M141 374h0M168.6 407h0M134.1 281.5h0M170.8 389.5h0M150.5 313.4h0M130.5 413.9h0M165.4 420.3h0M169.3 399.4h0M182.2 364.8h0M153.8 336.7h0M144.1 267.5h0M148.5 297.1h0M185.7 458.2h0M157 436.3h0M147.5 310.6h0M134.4 164.1h0M142.7 211.7h0M223.4 414.4h0M203.8 414.2h0M154.6 325.6h0M153.6 213h0M131.4 255.3h0M138.3 373.7h0M201.5 158h0M145.4 410.6h0M145.3 275.3h0M182.9 245.7h0M147.8 233.7h0M167.3 162h0M150.9 394.9h0M131.1 309h0M143.6 448.8h0M147 358.3h0M226.5 393.5h0M134.4 309.3h0M175.4 190.1h0M137 353.3h0M234.6 188.7h0M126.9 146.9h0M142.5 206.2h0M174.1 238.6h0M160.3 401.9h0M128.9 206.4h0M145.5 346.6h0M151.2 284.6h0M153.6 197.5h0M142.4 449.1h0M145 361.9h0M142.2 360.4h0M171.5 460.4h0M145.1 435.2h0M148 179.6h0M150.3 415.4h0M162.1 445.8h0M150.7 345h0M160.5 365h0M142.4 460h0M148.2 343.8h0M138.6 144.3h0M175.8 422.7h0M144.1 389.5h0M126.9 165.7h0M171.6 206.4h0M174.4 439.7h0M170.1 365.6h0M212.4 138.9h0M180.2 400h0M139.9 229.7h0M145.1 190.4h0M137 404.3h0M161.1 237.9h0M169.8 454.9h0M211.7 185.4h0M157.7 409.8h0M142.1 180.8h0M234.3 150.2h0M213.7 392.5h0M138.4 350.1h0M222 426.6h0M172.1 371.2h0M135.1 147.1h0M167.5 464.1h0M161.5 381.4h0M131.1 425.7h0M161.4 297.3h0M191.2 165.5h0M138.3 202.1h0M232.3 160.4h0M136.9 448.6h0M177.1 333.3h0M177.9 314.3h0M199.2 434.7h0M167 305h0M143.2 272.8h0M137.6 236.9h0M196.8 408.9h0M177.8 303.6h0M161.8 466.4h0M137.7 256.5h0M146.2 152.6h0M192.8 167.3h0M140.2 257.8h0M131.4 338.3h0M133.9 405.5h0M141.7 327h0M130.9 347.2h0M155 187.5h0M152.2 382.4h0M159 273.9h0M126.9 176.8h0M173.1 410.8h0M168.8 449.1h0M155.6 174.6h0M189.5 421.9h0M164.3 163h0M198.6 201.5h0M189.3 471.8h0M170.1 142.2h0M131.3 314.6h0M158.9 185.6h0M142.1 242.7h0M162.1 149.8h0M177.9 389.4h0M152.4 389.3h0M156 435.6h0M156.6 446.9h0M144.9 294.3h0M148.6 186.2h0M147.1 468h0M167.8 185.1h0M198.7 442.4h0M171.2 175.3h0M142.7 171.3h0M198.5 260.5h0M133.5 454.4h0M158 447h0M148.1 161.8h0M131.5 330.9h0M170.4 478.1h0M154.4 195.9h0M130.7 409h0M134.7 475.9h0M136.1 237.3h0M139.1 456.3h0M185.7 455.3h0M129.9 274.7h0M178 297.3h0M138.1 278.3h0M140.5 189.4h0M152.7 389h0M167.2 363h0M132.9 405.3h0M143 223.9h0M145.1 225.3h0M140.4 241.7h0M165.6 250.9h0M163 257.6h0M149.6 207.3h0M183.7 176.5h0M144.4 389.8h0M155 194.9h0M205.7 373.7h0M193.5 166.6h0M164.2 475.7h0M148 152.8h0M154.9 139.3h0M157.7 150.2h0M167.7 165.1h0M180 213.4h0M146.7 148.7h0M146.4 374.3h0M156.6 229.5h0M150.5 463.3h0M145.3 439.4h0M206.2 171.5h0M182 147.6h0M149.3 219.8h0M149.8 146.7h0M142.8 184.1h0M168.6 351.4h0M156.8 174.3h0M198.5 195.5h0M204.8 441.3h0M135.2 169h0M166.7 174.2h0M141.4 459.9h0M149 353.6h0M136.5 143.1h0M174.2 161.7h0M187.2 408.7h0M150.3 399.9h0M163.2 422.7h0M141.8 470h0M140.4 229.2h0M187.5 427.9h0M136.4 313.8h0M172.8 140.6h0M137.7 428.9h0M160.2 439h0M126.3 255.4h0M145.1 454.9h0M179.7 172.8h0M157.3 154.1h0M127 475.3h0M220.5 335.4h0M174.1 157.2h0M139.6 315.6h0M127.3 313.5h0M189.4 459.6h0M192.2 458.6h0M154.5 183.6h0M168.6 194h0M147.1 416.5h0M167 381.1h0M149 216.3h0M132.4 410.7h0M172.6 142.7h0M146.1 304.1h0M171 469h0M166.5 158.1h0M217 158h0M140.2 276.8h0M149.8 442.7h0M136.2 342.3h0M154.3 449.8h0M220.2 157.2h0M140.2 407h0M128.7 266.7h0M168.6 234.5h0M141.6 173.2h0M159.3 463.9h0M148.9 471.3h0M150.1 436.3h0M160.1 406.8h0M186.2 204h0M140.6 467h0M144.1 432.2h0M141.6 348h0M154.8 212.6h0M148.2 184h0M158.1 448.6h0M139.3 190.2h0M147.7 142.4h0M156.1 236.4h0M156 187.3h0M139.9 336.6h0M126.3 291.7h0M155 245.8h0M146.5 282.4h0M210.8 441.9h0M128.2 252.8h0M138.2 438.2h0M142.8 432h0M190.9 363.3h0M169.9 172h0M159.6 475.4h0M143.6 462.5h0M231.8 143.1h0M139.9 217.5h0M160.9 427.1h0M135.7 330.8h0M143.1 393.1h0M157 381.6h0M143.3 475.9h0M153.4 378h0M160 290h0M148.8 377.6h0M143.9 447.4h0M139.1 458.3h0M168.9 148.4h0M163 477h0M139.1 343h0M140.9 164.3h0M158 155.4h0M153.8 342.2h0M204.3 412.4h0M153.6 453.9h0M167.6 357.1h0M150.8 247.4h0M160.3 245.8h0M146.6 438.4h0M164.7 167.6h0M134.1 181.3h0M189.1 192.3h0M140.6 326.6h0M137.6 158.9h0M150.2 339.2h0M165.6 472.5h0M162.2 300.8h0M164.7 394.2h0M175.2 173.1h0M150.8 430.6h0M157.6 436h0M175.4 158.2h0M134.2 376.6h0M133.1 237.2h0M158.3 142.2h0M149.4 270.6h0M146.3 391h0M142.5 169.3h0M142.2 156.8h0M162.4 459.6h0M159.1 285.2h0M216.7 345.5h0M142.4 435.3h0M152.4 409.6h0M193.4 464.4h0M160.7 243.3h0M126.8 184.6h0M158.5 248.6h0M142.8 421.2h0M144.1 344.3h0M154.2 169.2h0M139.5 399.8h0M130.9 161.4h0M223.5 465h0M171.6 431.9h0M170.7 184.7h0M134.6 306.6h0M130 230.2h0M152.9 285.1h0M161.1 197.5h0M155.5 474.9h0M213.4 169.2h0M158.5 315.5h0M200 445.6h0M143.3 235.7h0M138.8 168.4h0M141.2 215h0M163.1 247.1h0M138.8 440.3h0M145.8 437.9h0M135.9 453.8h0M164.9 464h0M127.5 392.2h0M203.9 446.6h0M186.2 419.2h0M152.7 380.4h0M153.4 318.6h0M199.4 444.7h0M168.2 184.2h0M165.2 140.9h0M135.6 436.6h0M156.4 340.9h0M150.7 152.9h0M182.3 171h0M126.3 312.3h0M289.9 154.3h0M151.4 226.4h0M169.5 439.3h0M166.8 454.9h0M149.8 285.8h0M179.1 377.5h0M150.7 265.8h0M219.5 164.9h0M132.3 374h0M168.4 468h0M182.2 395.9h0M156.3 474.9h0M160.8 367.8h0M186.2 271.8h0M144.9 242.8h0M135.1 192.7h0M170.9 295h0M149.8 417.5h0M139.1 264.6h0M147.1 347.2h0M132.3 441.1h0M164.6 356.5h0M201.8 462.9h0M148.6 465.1h0M135.6 374.2h0M171.1 365.9h0M130.8 401.4h0M162.8 407.6h0M145.8 361.1h0M141.7 168.1h0M133.5 271.3h0M179.3 448.3h0M178.4 435.8h0M136.8 235.6h0M146.7 257.2h0M158.9 309h0M138.1 321.2h0M143 370h0M145 265.1h0M160.2 437.9h0M138.8 347.5h0M209.9 184.4h0M145.7 437.2h0M184.5 270.5h0M148.6 310.8h0M186.7 180.9h0M131.9 473.6h0M161.6 412.1h0M137.9 386.5h0M192.9 187.1h0M148.5 411.3h0M147.1 430h0M241.4 472.7h0M157.7 220.5h0M141.8 250.2h0M177.8 145.6h0M136.6 296h0M142.9 386h0M185.6 208.3h0M176.6 170.4h0M169.1 410.5h0M157.7 457.2h0M186 418.5h0M136.3 380.6h0M149.8 415.1h0M148.1 262.6h0M144.1 258.9h0M154 195.4h0M159.7 422.8h0M154.6 168.8h0M143.3 427.7h0M155.7 314.9h0M142.6 314h0M135.5 210.4h0M143.6 223.4h0M131.6 455.1h0M148.2 465.3h0M145 423.4h0M142.3 176.5h0M161.3 175.5h0M185.1 449h0M162.5 191.9h0M168.3 456.7h0M148.5 208.5h0M184.9 141.9h0M141.6 233.9h0M144.9 364.3h0M154.3 475.1h0M162 162.6h0M176.5 462.9h0M160.5 371.3h0M160 255h0M129.3 247.2h0M211.6 394.7h0M203.1 165h0M187.2 389.5h0M157.8 476.5h0M149.2 149.5h0M185.7 449.3h0M143.8 340h0M208 427.3h0M175.3 138.7h0M143.9 188.5h0M136.4 475.4h0M148.1 162.7h0M140.4 403h0M161.7 283.1h0M154.8 367.9h0M209.4 166.9h0M157.2 208.9h0M164.3 212.5h0M158.3 270.7h0M159.9 324.6h0M146.6 220.7h0M146.6 425.2h0M229.2 146.4h0M158.9 435.8h0M148.5 249.1h0M138.2 403.9h0M149.4 236.5h0M146.7 306.9h0M164.2 415.7h0M158.8 189.9h0M177.1 198.8h0M145.7 461.5h0M173.9 455.9h0M137.2 465.8h0M137 381.1h0M137.8 364.6h0M172.3 238.9h0M214 138.7h0M163.3 416.1h0M162.2 166.3h0M205.6 379.2h0M182.1 139.8h0M163.6 439h0M189.6 350.1h0M143.2 221.1h0M172.4 431.2h0M190.5 391.2h0M154.6 316.1h0M198.8 197.5h0M143 276.1h0M175 159.6h0M144 245h0M157.9 275.4h0M153.3 347.1h0M140.7 233h0M128.5 181.8h0M171.8 396.2h0M191.6 185.1h0M145.2 418h0M165.9 238h0M127.9 321.4h0M151.6 373.9h0M172.6 162.3h0M198.1 457.6h0M138.6 236.9h0M137 271.1h0M136.8 298.5h0M171 213h0M150.8 247.3h0M163.9 323.2h0M174.9 199.9h0M148.2 359.9h0M137.7 398.3h0M134.4 390.9h0M128.1 143.9h0M152.9 223.7h0M183.1 372.6h0M150.7 278.4h0M136 146.1h0M158.8 238.3h0M184.1 476.3h0M178.1 154.5h0M183.7 418.5h0M177.2 171.4h0M142.4 312.1h0M146.1 306.4h0M134.7 311.5h0M130.6 308.7h0M128.4 299.2h0M148.9 179.4h0M153.3 214.5h0M134.5 320h0M128.4 467.8h0M152.5 459.7h0M142.1 360h0M149.1 454h0M142 285.6h0M153.1 170.7h0M160 441.7h0M166.1 414.2h0M157.3 149h0M175.4 298.4h0M188.9 463.2h0M164.9 258.4h0M144.8 142.6h0M140.5 312.1h0M181.3 451.2h0M180.7 347.4h0M138.4 267.2h0M171.6 440.5h0M153.3 456.3h0M193.1 428.6h0M148.4 360.9h0M148 224.6h0M150.9 331.8h0M165.3 252.4h0M156.8 264h0M184.5 474.9h0M175.1 467.8h0M134.2 247.8h0M148.2 411.9h0M149.4 450.8h0M215.6 190.6h0M162.9 252h0M135.6 246.7h0M135.7 203.2h0M176 242.7h0M145.5 465h0M150.2 263.8h0M202 179.5h0M155.9 469.9h0M146.7 143.7h0M153.3 230.3h0M129.8 415.9h0M168.6 438.1h0M133.1 416.7h0M138.8 406.4h0M158.5 260.4h0M165.1 465.6h0M174.4 151.1h0M176 456.9h0M131.6 183.9h0M149.8 414.1h0M177.6 155.5h0M136.4 369.8h0M153.8 444h0M160.8 238.8h0M161.9 268.3h0M206.7 139.8h0M152.4 224.5h0M138.6 291h0M156.5 244.1h0M139.3 328.9h0M160.4 439.3h0M136.3 237.8h0M189.7 391.1h0M164 410h0M164.3 446.2h0M145.7 169.9h0M141.4 446.5h0M166.2 383.5h0M153.2 248.2h0M146.4 303h0M157.7 413.1h0M160.6 246.4h0M210.2 422.7h0M158 412.6h0M137.8 278.3h0M181.5 396.3h0M156.8 306.4h0M180.1 446.2h0M158.1 184.7h0M161.1 337.2h0M145.4 191.7h0M143.7 404.7h0M226.5 444.8h0M150.7 296.5h0M148.3 203.4h0M139.9 311.2h0M142.1 224.2h0M169.2 197.9h0M140.1 160.7h0M145.6 356.8h0M184.6 435.1h0M163.8 439.4h0M162.9 400.2h0M154.5 253.9h0M185.9 415.4h0M146.7 203.8h0M157.1 457.3h0M166.4 334h0M154.6 395.6h0M155.5 220.1h0M138.8 423h0M191 182.5h0M166.2 310.2h0M151.1 171.4h0M147.9 440.6h0M143.7 450h0M135.2 342.8h0M132.6 268.8h0M143.9 392.7h0M250.5 142.6h0M148.3 254.1h0M163.7 401h0M197.7 151.6h0M143.4 475.2h0M145.4 329.5h0M164.8 225.4h0M157 361.7h0M162.2 144.5h0M156.5 179.8h0M135.7 169.2h0M159.2 204.6h0M142.3 393.1h0M147.8 360h0M141.2 382.4h0M157.2 371.2h0M156.5 238.7h0M129.3 176.4h0M151.1 357.1h0M144.7 385h0M141.7 273.4h0M180.1 335.7h0M146.4 452.8h0M144 443.5h0M160.4 379.8h0M155.1 420.4h0M192.9 154.1h0M149.4 386.3h0M169.2 369h0M144.8 313.5h0M154.5 182.2h0M145.4 385.3h0M132.2 335h0M154.1 146.6h0M165 169.8h0M154.7 204.5h0M159.9 377h0M157.2 387.7h0M141.5 426.8h0M175.6 193.3h0M154.5 370.4h0M149.4 334.4h0M190.8 383.2h0M146.7 418.7h0M161.5 474.4h0M162.6 415.6h0M165.7 474.5h0M153.5 404.6h0M144.3 190.4h0M193.9 463.2h0M151.5 477.2h0M159.8 172.8h0M160.3 443h0M135.3 454.3h0M152.7 447.2h0M158.5 372.8h0M177.7 427.6h0M129.3 440.7h0M136.3 197.3h0M146.5 211.4h0M157.5 242.3h0M159.1 228.5h0M162.2 258.1h0M137.8 395.7h0M141 145.4h0M179.2 155.4h0M175 247.4h0M178.5 476.9h0M172.1 422.3h0M157.7 298.1h0M144.5 280h0M240.5 160.5h0M189.6 440.5h0M134.2 473.6h0M145.6 307.3h0M148.4 248.5h0M128.7 155.5h0M160.8 400.7h0M156.8 284.1h0M151.6 220.4h0M151.1 374.1h0M142.6 382.6h0M152.5 428h0M130.5 456.6h0M201.3 472h0M143.9 321.1h0M155.4 208.6h0M139.9 277.2h0M143.6 167.5h0M152.4 475.6h0M200.9 146h0M150.9 360.9h0M145.2 387.1h0M137.5 376.1h0M217.9 168.1h0M172.2 395.2h0M166.4 141h0M142.6 170.5h0M158.5 387.1h0M181.8 407.1h0M195.4 172.4h0M162.5 397.8h0M177.7 225.6h0M151.8 276.4h0M170.8 456.2h0M165.5 248.5h0M193.1 160.1h0M140.2 246.5h0M163 154.1h0M154.4 221.4h0M204.9 175.6h0M155 356.5h0M174.4 373h0M138.6 411.9h0M138.6 166.1h0M157.3 302.9h0M176.9 145h0M138.8 287.1h0M185.6 188.1h0M152.8 471.9h0M140.2 450.3h0M171.4 142.5h0M140.4 370.8h0M169.9 397.6h0M167.1 416.9h0M140.1 346.2h0M191.4 421h0M173.5 359.1h0M167.2 450.4h0M167.1 439.1h0M163.3 153.1h0M166.2 237.9h0M128.4 232.2h0M156.6 203.6h0M172.5 430.6h0M129.1 146.6h0M168.4 391h0M159.3 465.9h0M190 188h0M171.5 238.4h0M235.5 471.5h0M172.1 401.4h0M181.8 162.9h0M138.7 275.1h0M144 248h0M188.4 185.6h0M188.4 144.7h0M207 437.1h0M134 210.4h0M155.2 440h0M133.5 452.7h0M178.3 478h0M159.7 248.1h0M143.3 357.6h0M154.9 302.3h0M167.5 393.1h0M146.5 418.8h0M132 194.6h0M148.6 226.5h0M140 340.4h0M139 212.8h0M129.3 422.7h0M142.6 279.9h0M174.4 429.6h0M164.6 431h0M153.6 276.8h0M161.6 220.6h0M157.8 237.5h0M143.7 235.1h0M134.9 397.8h0M162.6 188.7h0M126 285.5h0M178.1 330.7h0M165.3 416.2h0M128.7 364.9h0M188 403.6h0M152.9 332.2h0M170.9 422.7h0M129.2 284.4h0M150.3 433.4h0M148.1 407.2h0M148.7 202.2h0M175 390.8h0M139.4 386h0M136.6 262.6h0M135.6 316.2h0M177.2 433h0M175.7 448.3h0M141.9 373.6h0M134.1 288.6h0M158.4 148.8h0M140 345.8h0M173.1 420.1h0M135.3 457.5h0M134.3 205.3h0M154.7 425.6h0M178.6 410.4h0M165.1 442h0M156.9 218.4h0M158.1 236h0M139.1 374.8h0M180.2 406h0M147.6 389.8h0M191 145h0M295.9 179h0M148 456.4h0M194.3 445h0M170.5 158.9h0M143.5 432h0M130.5 323.9h0M176.5 235.1h0M134.7 138.6h0M197.5 466.4h0M140.6 434.5h0M135.2 298h0M142.8 410.4h0M152.9 212.7h0M146.8 289.1h0M155.4 426h0M178.5 424.8h0M204.2 329.6h0M152.8 408.1h0M147 440h0M165.7 176.4h0M173.7 289.7h0M139.1 209.4h0M201 171.7h0M144.1 155.2h0M183 408.2h0M138.7 460.5h0M153 277.7h0M261.4 458.9h0M143.5 302.1h0M157.4 458.2h0M142 206.7h0M139.3 159.3h0M165.5 438.6h0M209.4 453.8h0M161.4 219.8h0M154.4 466.2h0M171.1 435.2h0M164.9 155.9h0M161.2 194.4h0M143.4 306.6h0M165.3 478.4h0M175.9 260.2h0M158.9 138.6h0M127 257h0M153.9 294.7h0M150.1 297h0M138 326.3h0M133.1 463.8h0M132.9 373.8h0M144.6 260.8h0M145.6 443.8h0M178.2 168.8h0M140.5 151.3h0M143.2 254.4h0M198 420.4h0M161 193.9h0M138 465.2h0M144.9 300.6h0M171.6 434.8h0M157.6 473.1h0M141.2 432.4h0M152.5 465.8h0M147.3 183.2h0M138.9 178.4h0M142.6 182.5h0M153.7 250.1h0M154 165.1h0M172.9 178.3h0M157.8 360.3h0M174.4 384.9h0M139.6 235.2h0M155.7 416.5h0M175.6 406.3h0M139.1 429.1h0M193.4 440.2h0M185.6 170.5h0M166.9 158.4h0M145.3 453.8h0M152.8 273.8h0M156.6 303.5h0M165.5 444.6h0M139.8 286.2h0M165.3 416.6h0M145.2 289.3h0M144.9 173.1h0M173.8 139.1h0M165.5 452.2h0M145.5 365.5h0M177.5 368.5h0M180.3 427.5h0M142.1 226h0M143.8 301.8h0M187.6 418.6h0M167.8 205.6h0M158.8 257.3h0M161.2 419.7h0M170.6 454.4h0M148.1 335.2h0M136.3 174.8h0M142.5 390h0M154 426.8h0M143.2 307.4h0M156.9 158.1h0M182.5 344.4h0M175.5 173.7h0M147.9 145.6h0M180.3 465.8h0M153.3 397.4h0M236.9 138.9h0M162.1 167.1h0M155.5 281.6h0M128.8 239.1h0M195.6 460.2h0M147.3 263.2h0M127.2 296.7h0M141.4 350.8h0M137.2 178.2h0M158.3 321.5h0M196.1 172.2h0M162.3 191.9h0M161.8 393.8h0M245.6 450.6h0M174.4 457.8h0M142.7 425.7h0M183.2 175.9h0M147.4 298.4h0M144.3 213.8h0M215.7 163h0M154.7 223.9h0M173.6 426.4h0M150.3 276.6h0M148.7 329.6h0M169.9 219.1h0M179.9 348.3h0M152.7 238.4h0M141.1 351.5h0M158.5 151.7h0M160.8 432.5h0M127 408.4h0M176.7 426.9h0M145.2 446.1h0M130.8 156.1h0M153.3 274.9h0M169.2 477.4h0M134.3 284.3h0M147.9 271.5h0M151.2 172.5h0M167.7 374.9h0M156.6 190.7h0M159.9 156.1h0M142.6 169.3h0M204.5 294.6h0M145.4 413.3h0M151.8 213.9h0M151.8 470.6h0M168.5 414.2h0M146.4 363.9h0M130.7 302.3h0M172.7 161.2h0M137.2 272.9h0M162.8 394.3h0M174.8 327.6h0M142.8 286.6h0M129.1 413.3h0M191.1 143.4h0M168.4 248.5h0M160.1 472.2h0M138.7 364.8h0M192.4 173.7h0M180.8 367.6h0M163.4 383.7h0M138.4 477.7h0M132.3 305.7h0M162.2 212.8h0M132 271.3h0M202.4 154.3h0M127.5 140.6h0M153.5 182.3h0M138.1 320.8h0M154.9 170h0M202.9 435.5h0M148.5 206.2h0M160.1 361.9h0M135.2 256.8h0M168.8 445.9h0M154.7 151.9h0M137.9 373.2h0M132.1 309.4h0M173.2 141.4h0M166.4 462.7h0M183.1 213.3h0M143.9 440h0M147.8 448.3h0M140.9 336.5h0M197.8 163.2h0M139.8 279h0M189.9 468.3h0M142.5 251.1h0M144.8 181.8h0M167.9 316.6h0M137.6 295.9h0M134 397.9h0M175.3 417.3h0M163.9 377.5h0M136.8 475.1h0M161.9 364h0M141.1 420.8h0M131.8 141.4h0M135.4 239.7h0M217.2 458.4h0M141.4 343.6h0M164.9 375.7h0M147.7 467.8h0M159.2 188.2h0M184.1 444.1h0M153 232.5h0M153 350.5h0M174.4 417.6h0M145.6 294.2h0M134.6 329.4h0M130.8 469.7h0M177.7 390h0M200.5 220.9h0M174 444h0M151.8 206.7h0M172.4 452.5h0M169.3 437.3h0M219.6 369.1h0M145 339.5h0M147.2 240.7h0M167.6 432.5h0M183.1 175h0M146.6 350.5h0M158.2 158.3h0M133.1 242.3h0M171.8 446h0M173.1 150.1h0M174.6 201.1h0M131.9 381.2h0M228.2 150.8h0M160.1 143.5h0M136 168.1h0M158.9 294.4h0M161.6 168.7h0M139.8 431.7h0M149.7 272.7h0M153.2 434.1h0M156.6 347.7h0M154.8 431.1h0M185.3 213.9h0M139.4 278.3h0M180 385.9h0M157.8 214.9h0M137.7 228.1h0M136.9 260.1h0M193 478h0M163.8 218.9h0M159.1 188.5h0M162.2 289.2h0M192.6 157.5h0M182.9 180.6h0M163.8 274.2h0M133.8 189h0M143.5 468.1h0M150.5 402.6h0M146.3 405.7h0M142.5 426.5h0M158 238.3h0M142.9 228.2h0M143.7 223h0M164.8 404.6h0M185.1 412.5h0M151.4 199.7h0M147.4 153h0M136.4 465.3h0M171.1 393.9h0M162.7 412.8h0M151.1 152.7h0M145.1 331.5h0M139.9 288.9h0M145.7 328.2h0M166.1 186.3h0M164.1 269.7h0M166 391.4h0M149.9 363.3h0M165.6 138.6h0M206.9 429.3h0M164.6 197.6h0M142.4 205h0M173.4 315.2h0M145.6 337.6h0M132.2 389.5h0M142.7 457.2h0M152.8 349.9h0M149.4 420.1h0M142.8 163.3h0M144 304.8h0M164 204.3h0M128.4 466h0M130.1 425.9h0M163.9 335.8h0M150.1 415.3h0M138.4 307.7h0M164.2 443.1h0M158.7 265.4h0M133.1 211.8h0M160.9 139.7h0M173.9 394.9h0M153 278.7h0M154.4 248h0M142.8 251.9h0M153.9 407.2h0M153.7 287h0M145.1 309.4h0M135.7 256.7h0M137.3 469.7h0M177.7 219.5h0M145.6 171.2h0M149.8 172.7h0M162.4 199.5h0M158.4 380.7h0M156 394.6h0M154.5 187.5h0M136.4 457.4h0M127.1 257.4h0M185.8 202.7h0M136 385.8h0M168 411.7h0M179.2 214.8h0M163.5 179.2h0M199.7 464.6h0M135.6 389.6h0M141.5 207.5h0M192.2 384.9h0M137.3 260.8h0M167.2 443.5h0M161.5 430.2h0M181.7 173.4h0M141.4 376.1h0M146 386.6h0M160.3 332.5h0M140.6 422.5h0M145.2 404.3h0M193.5 416.4h0M144.8 473.8h0M142.2 275.5h0M132.9 382.2h0M207.3 151.4h0M158.9 302h0M142.8 317.3h0M203.6 172.1h0M144.5 427.1h0M150.9 423.1h0M141.9 373.9h0M147.2 191.5h0M168.5 457.7h0M143.8 466.9h0M154.4 354.4h0M152.2 362.8h0M167.2 213h0M160.1 183.3h0M137.8 235.7h0M158.3 322.7h0M152.9 387h0M143.7 432.9h0M160.8 452.6h0M136.5 393.9h0M136.6 288.9h0M130.5 308.9h0M148.3 348.5h0M166.1 281.4h0M165.8 377.3h0M142.8 448.6h0M172.4 456.3h0M149.7 280.7h0M152.9 392.8h0M198.4 139.6h0M267.9 157.9h0M225.9 476.7h0M138.8 267.5h0M154 415.6h0M178.2 328.9h0M150.1 340.7h0M153.5 415.9h0M142.9 342.4h0M153.3 183.9h0M213.3 170.5h0M152 428h0M147.6 286.4h0M142.9 466.8h0M170 445.7h0M183.1 421.6h0M150.4 358.7h0M140.3 227.3h0M145.1 188.4h0M148.9 456h0M191.7 184.9h0M205.9 444.9h0M161.4 259.7h0M161.9 474.2h0M154.5 171.4h0M148.6 460h0M169.1 387.8h0M150 147h0M191.4 366h0M221.2 146.7h0M158.3 168.1h0M170.5 257.6h0M158.4 418.6h0M132.6 289.1h0M151.6 415.1h0M220.9 458.4h0M164.4 400.6h0M203 222.9h0M202 165.9h0M192.8 454h0M174.3 433.4h0M201.2 469.5h0M126.8 359.5h0M129.1 372h0M160.9 161.4h0M158.4 452.4h0M162.1 477h0M141.9 183.4h0M163 210.8h0M171.3 170.1h0M130.6 249.7h0M132.3 324.6h0M146 342.8h0M150.1 285.9h0M161.3 250.7h0M132.2 393.2h0M273.9 419.3h0M167.6 432h0M158.1 200.7h0M173.9 211.3h0M155.4 301.6h0M147.2 258.8h0M154.7 363.9h0M155 408h0M170.1 409.2h0M141.5 335.1h0M152.1 400.1h0M153.3 389.9h0M148.3 308.5h0M141.7 204.2h0M186.3 194.2h0M160.3 179.3h0M149.2 414h0M151.1 345.7h0M158.4 479h0M140.3 167.3h0M131.5 249.8h0M155 288.6h0M154.2 185.8h0M170.7 440.7h0M127.7 147.9h0M187.2 462.9h0M144.2 347.1h0M131.3 300h0M168.4 243.6h0M147.2 374.6h0M151.4 453.9h0M169.7 175.7h0M160.3 432.3h0M127.3 180.3h0M145.3 167.6h0M168.4 264.7h0M143.1 244.5h0M179 161h0M148.4 459.4h0M132.6 170.3h0M145.5 163.3h0M136.9 184.5h0M157.7 248.1h0M147.9 210.9h0M137.1 299.6h0M143 308.4h0M144.6 366.3h0M155.4 152.7h0M136.8 478.2h0M151.6 140.3h0M151.3 158.3h0M170.4 445h0M147.5 168h0M185.2 450h0M156.5 305.7h0M156.8 375.6h0M136.3 208.3h0M162 213.7h0M162.9 289.6h0M145.8 396h0M170.4 142.7h0M195.5 232.2h0M163.8 342.7h0M170.7 294h0M153.6 376.1h0M197.2 459.2h0M174.4 200.5h0M157.6 226.7h0M170.9 370.7h0M148.3 443.5h0M146.5 265.5h0M145.9 434.4h0M136.7 374.8h0M150.7 202.7h0M138.2 460.3h0M140.3 366.1h0M215.5 443.2h0M159.7 361.4h0M167 472.3h0M135.5 167.5h0M156.2 432.2h0M153.6 390.6h0M134.9 310.8h0M162.5 246.8h0M140.6 204.4h0M178.5 178.6h0M157.5 428.8h0M137.7 233.3h0M157.2 363.1h0M136.2 313.5h0M163.9 399.4h0M175.5 331.2h0M170.1 413.8h0M169.8 361.7h0M156.9 374.8h0M137.8 191.3h0M135.6 216.3h0M154.2 325.2h0M228.8 191.9h0M147.7 456.4h0M130.5 154.2h0M143.8 147.4h0M135.2 181.4h0M149.2 359.1h0M166 357.8h0M171.3 234.4h0M160.1 164.7h0M144.2 205.5h0M140.6 199h0M142.4 423.4h0M168.3 150.8h0M158.4 342.9h0M178.1 193.3h0M196 172h0M135.2 372.9h0M134.5 363.3h0M149.2 163.6h0M206.2 474h0M170.1 436h0M168.9 157.2h0M189.7 160.4h0M144.9 400.9h0M210.8 456h0M247.3 155.9h0M189.1 146.2h0M126.8 141.2h0M134.2 267.8h0M142.6 283.7h0M175.2 139h0M137.1 291.5h0M134.9 261.6h0M182.2 472.5h0M143.4 345.9h0M150 434.4h0M142.2 373.7h0M158.5 456.1h0M221.9 168.4h0M138.8 278.5h0M151.1 166.7h0M184.1 440.5h0M160.1 239h0M159.3 355.1h0M150 210.2h0M169.9 438.7h0M172.4 169.1h0M137 217.4h0M181.2 444.6h0M151.2 207.8h0M129.3 315.4h0M140.6 460.7h0M204.9 196.9h0M148 337.2h0M147.6 451.2h0M143.6 194.4h0M135.8 424.7h0M150.2 227.7h0M170.1 177.8h0M154.2 328.5h0M146.2 416.7h0M158.9 388.6h0M183.2 469.7h0M142.2 249.3h0M129.8 431.6h0M168.9 153.5h0M153.5 432.4h0M147.1 340.3h0M144.8 295.8h0M198.9 189.8h0M159.7 446.7h0M136.6 327h0M152.6 212.1h0M151.3 415.7h0M162.2 233.7h0M150 312.3h0M216.7 179.4h0M190.1 246.5h0M182.1 144.7h0M173.2 472.2h0M156.6 225.9h0M160.7 248.7h0M167.1 411.3h0M172.4 154.9h0M137.4 371.6h0M219.9 433.8h0M132.9 217h0M154.6 248.1h0M149.3 341.8h0M130.5 177.5h0M190.9 162.3h0M212.6 244.8h0M173 142.5h0M133.3 355.3h0M177.9 232.3h0M184 156.7h0M157.9 147.9h0M133.6 315.8h0M126.8 247.6h0M202.7 404.2h0M135.1 183.2h0M192.8 459.6h0M148.3 203h0M128.9 323.3h0M135.2 312.5h0M218.5 154.2h0M155.5 155.8h0M167.7 323.3h0M197.2 439.6h0M150.3 358.4h0M165.9 238.5h0M139.1 181.4h0M165.2 368.4h0M185.3 447.1h0M261.4 143.3h0M173.1 333.5h0M128.8 306.8h0M166.8 160.3h0M164.3 242.9h0M156.7 153.8h0M178.9 420.9h0M175.5 378.4h0M177.5 234.7h0M138.8 213h0M146.7 227.3h0M131.3 221.9h0M153.1 289.3h0M230.4 212.8h0M157 203.3h0M146.6 428.4h0M133 320.2h0M153.9 162.9h0M135.2 145h0M141 286.6h0M158.7 418h0M146.6 210.6h0M146.3 248.8h0M170.7 278.8h0M197.1 142.5h0M135.8 458.2h0M184.8 149.5h0M145.7 165.8h0M161 214.7h0M159.9 419h0M162.9 453.1h0M163.5 279.5h0M216.8 143.3h0M143.8 349.2h0M140.8 440h0M137.2 414.3h0M177.9 381.9h0M132.3 228.4h0M156.7 161.5h0M165.2 270.1h0M145.7 139.1h0M178.7 438.3h0M148.2 294h0M143 275.2h0M136.8 433.5h0M149.3 382.8h0M167.4 477.6h0M217.4 438.8h0M138.9 230.6h0M171.7 284.8h0M146.5 184.9h0M151 437.6h0M137.8 371.9h0M150.7 147.1h0M162.8 298.3h0M139.9 363.6h0M154.1 201.3h0M129.9 417.1h0M194.7 198.4h0M147.9 303.1h0M169.3 190.7h0M150.9 425h0M168.3 363.6h0M184.1 418.2h0M186.7 313.1h0M154.6 186.9h0M170.2 434.6h0M136.5 215.2h0M199.4 445.4h0M151.9 223.5h0M136.8 419.6h0M151.3 409.8h0M135 243.6h0M129 303.6h0M162.9 227h0M146 476.3h0M152.4 166.3h0M167.2 422.8h0M181 430.1h0M141.7 222.6h0M148.4 168.9h0M148.7 334.5h0M138.9 271.9h0M167.2 162.4h0M163.9 138.8h0M176.1 473.5h0M189.3 439.2h0M152.7 474h0M164.2 399.6h0M198.8 138.6h0M140.5 180.2h0M140.3 205.3h0M160.9 444h0M180.8 393.3h0M134.9 184.7h0M142.9 415.8h0M154.5 165.2h0M174.6 437.5h0M222.2 194.4h0M164.7 420.6h0M133.8 246.9h0M153.5 240.9h0M178.9 182.7h0M143.8 154.6h0M132 401.1h0M184.6 468.3h0M131.9 407.4h0M176.7 150.1h0M170.9 160.6h0M153.4 326.2h0M139.7 231h0M150 456.3h0M142.8 306.7h0M240.3 226.8h0M146.8 262h0M148.2 356.2h0M143.2 166h0M171.8 245.3h0M211.9 169h0M148.8 450.7h0M146.1 266.1h0M128.4 452.3h0M160.6 332.8h0M193.9 221h0M182.6 432.1h0M137 251.8h0M146 187.7h0M148.7 247.4h0M174.5 425h0M154.5 296.8h0M171.1 460.1h0M189.9 155.7h0M162.7 162.7h0M148.2 317.5h0M170.4 210.2h0M142.2 207.9h0M148.5 162.3h0M138.1 149.6h0M161.4 420.6h0M170.6 466.2h0M144.4 395.9h0M139.7 231h0M179.3 458.3h0M215.4 139.8h0M126.8 162.3h0M157.1 300.4h0M135.9 471.1h0M160.8 349.3h0M176.2 288.3h0M151.6 435.1h0M154.8 375.7h0M151.6 327.4h0M170.3 383.3h0M140.5 227h0M139.7 425.8h0M150 434.4h0M181 245.3h0M133.2 418.3h0M175 451.4h0M203 457.6h0M156.9 142.2h0M173.5 175.1h0M141.7 337.7h0M166.7 419.9h0M159.3 451.1h0M168.7 419.4h0M147.7 466.7h0M159.8 391.9h0M207.4 422.3h0M175.9 375.9h0M130.7 434.8h0M155.6 335.7h0M146 458h0M163.5 374h0M134.2 321.4h0M141.9 331.9h0M160 398h0M142.1 144.6h0M141.2 143.2h0M142.5 351.8h0M133.1 260.9h0M161 385.7h0M135.2 307.2h0M141.4 264.8h0M174.1 464.8h0M163.6 432.9h0M137.2 254.6h0M162.3 458.5h0M189.3 403.6h0M149.5 435.4h0M128.9 448.8h0M140.3 170.4h0M151.8 410.4h0M185.8 146.8h0M147.6 396h0M139 295.5h0M132.8 417.8h0M145.6 384.8h0M180.2 155.8h0M193.3 201.1h0M297.3 421.5h0M199.6 184h0M165.9 363.9h0M156.5 359h0M173.9 425.6h0M157.6 168.7h0M142.2 248.5h0M234.5 149.8h0M154.2 345.9h0M151 157.6h0M191.4 200.1h0M131.2 269.9h0M141 374.6h0M157.7 189.5h0M132.1 291.7h0M153.8 473.9h0M146.1 432.3h0M157.1 331.8h0M156.5 199.5h0M176.3 408.1h0M142.2 172.1h0M172.2 475.7h0M173.2 165h0M154.2 414.4h0M271.6 162h0M160.2 320.5h0M162.6 411.6h0M171.1 237.9h0M159.5 318.7h0M160.2 349.2h0M201.5 162.2h0M167.8 159h0M160.6 467.3h0M144 268.9h0M187.8 472.6h0M142.3 283.5h0M161.6 257h0M137.5 266.5h0M182.5 147.3h0M147.9 257.9h0M155.6 189.9h0M144.5 326.5h0M128.9 417.5h0M138.7 184.5h0M131 187.5h0M161.2 410.5h0M136 456.4h0M164.5 251.9h0M137.6 202.8h0M171 379.4h0M156.8 189.3h0M130.6 163.2h0M159.8 355.8h0M220.8 452.7h0M177.3 446.4h0M188.1 426.7h0M150.2 384.3h0M156.9 339.2h0M136.7 288.1h0M159.6 455.5h0M173.9 198.7h0M156.2 401.3h0M153.7 436.7h0M163.2 427.6h0M243.7 232.9h0M202 468.5h0M173 220.7h0M148.4 241h0M197.4 468.8h0M159.3 143.5h0M168.6 437.5h0M141.4 393.5h0M143.6 260.6h0M148.5 290.5h0M241.3 445.8h0M133.6 334.5h0M156.4 465.6h0M137.4 210.7h0M150.8 421.9h0M139.2 395.9h0M192.5 425.3h0M130.3 357.2h0M157.5 171.2h0M137.2 176.9h0M135.1 443.3h0M152.1 201.9h0M152.4 417.3h0M168.3 288.4h0M134.2 220.2h0M131.2 398h0M147.2 240.6h0M146.9 306.5h0M135.6 248.2h0M156.6 250.5h0M142.4 362.7h0M159.4 238h0M171.7 140.8h0M134.5 330.7h0M192.1 450.8h0M162.7 370h0M172.7 455.8h0M144.8 138.6h0M151.7 273.4h0M151.5 249.5h0M181.2 145.3h0M138.2 235.7h0M154.4 363.2h0M143.9 275.5h0M150 295.6h0M158.6 196.7h0M162.6 299.4h0M171.4 431.7h0M155.8 373h0M139.1 360.9h0M166.8 222.6h0M163.7 455h0M134.4 362.8h0M144.7 438.2h0M206.8 143.7h0M175.8 460.9h0M146.7 393.6h0M151 179.7h0M130.2 285.1h0M166.3 318.1h0M141.1 388.8h0M154 298.8h0M160.4 324.8h0M129.8 465.9h0M162.7 470.4h0M125.9 333.2h0M153.8 197h0M196.2 200h0M149.9 457.8h0M137.9 196.8h0M199.7 438.9h0M162.8 407.7h0M146.8 285.7h0M161.4 236.9h0M164.1 162.9h0M162.9 476.4h0M173.5 469.6h0M151.2 378.1h0M140.5 222h0M158.2 383.6h0M152.5 187.4h0M170.4 153h0M168.1 149.4h0M149.2 347.6h0M199.8 417.1h0M157 467.6h0M151.7 178.7h0M167.9 443.8h0M173.3 251.3h0M149.1 173.6h0M234.5 355h0M155 448.4h0M135.5 469.4h0M208.4 434.7h0M151.3 440.5h0M168.1 175.1h0M161.2 321.9h0M150 357.2h0M261.1 175h0M141.3 389.4h0M161.7 349.4h0M154.8 184.2h0M148.9 313.3h0M136.6 476.8h0M174 164.8h0M151.8 307.7h0M142.9 161h0M165.3 425.9h0M148 233h0M153.7 260.7h0M144.7 247.1h0M143.1 225.8h0M163 426h0M177.1 359.8h0M198 201.9h0M149.6 340.2h0M156.5 422.2h0M159.3 442.8h0M175.8 413.6h0M169.2 448.9h0M173.7 425.6h0M149 141.5h0M170 401.3h0M168 453.6h0M139.1 353.8h0M148.6 426.4h0M148.2 247h0M154.3 477.6h0M141.7 153.9h0M158.4 261.8h0M231.4 178.3h0M137.5 267.9h0M184.6 168.7h0M146 197h0M137 146.8h0M163.8 432.7h0M132.7 285.5h0M204.4 153.4h0M155.2 363.7h0M171.1 196.5h0M173.6 145.3h0M157.6 199.1h0M142.5 340.7h0M152.3 415.3h0M166.8 351.8h0M141.8 384.1h0M205.2 416.4h0M173 291.1h0M196.7 152.3h0M134.9 153h0M131.4 227.3h0M209.6 160.8h0M222 449.7h0M150.3 212h0M160.5 416.2h0M230.6 168.6h0M139 139.7h0M179.1 451.7h0M147 267.9h0M154.4 290.6h0M232.6 166.9h0M144.7 144.4h0M136.4 234.6h0M167.9 262h0M152.9 373.5h0M132.4 387.6h0M156.6 215.4h0M132.7 288.7h0M154.9 434.7h0M173.6 364.8h0M133.5 439.2h0M128.5 448.6h0M131.1 154.1h0M152 220.7h0M160.4 423.7h0M148.5 372.4h0M159.1 159.7h0M134.9 163.9h0M151.5 186h0M154.8 200h0M155.8 471.3h0M154.8 143.6h0M131.5 367.9h0M161.7 419.9h0M150.2 150.9h0M160.4 159.6h0M154.8 389.1h0M146.2 339.7h0M152 213.1h0M150.3 470.4h0M165.1 460h0M158.2 378h0M165 464h0M133.6 472.5h0M165.3 161.3h0M166.5 256.2h0M201.8 162.9h0M179.3 474.1h0M193.5 421.3h0M165.2 341.3h0M146.7 169.5h0M148.2 269h0M151.6 450.7h0M180.4 346.2h0M162.3 419.3h0M142.3 366.4h0M225.8 172.1h0M159.6 441.3h0M138.5 349.9h0M130.3 224h0M137.7 261.8h0M176.1 405.7h0M142.3 181h0M150.9 160.3h0M189 420.3h0M138.8 244.3h0M173.6 430.7h0M137.9 391.3h0M158.9 464h0M163.3 413.2h0M168.9 351.7h0M198.9 369.7h0M153.2 395.9h0M134.6 263.3h0M170.4 271h0M161.6 448.4h0M147.8 283.1h0M194 469.1h0M129.5 464.4h0M158.3 316.4h0M138.9 265.3h0M153.6 314.2h0M130.9 319.5h0M168.2 416h0M191.6 462.6h0M147.3 315h0M191.5 139.4h0M175.2 260.9h0M139.5 232.1h0M156.1 382.6h0M169.9 463.6h0M130.5 362.2h0M161 335.3h0M150.7 294.5h0M146.5 260.7h0M192.1 161.5h0M136.4 140.1h0M146.5 240.9h0M151.5 161h0M158.6 372.9h0M165.6 187.4h0M205.3 162.7h0M188.6 141.6h0M165.2 433.2h0M161.6 414.3h0M143.5 161.4h0M169.4 421.7h0M127.4 255.2h0M151.7 214.9h0M145.6 191.2h0M196.6 456.7h0M161.7 179.8h0M174.2 390.6h0M159.1 153.6h0M172.7 402.1h0M154.2 345.3h0M174.5 371.2h0M186.1 427.4h0M136.2 332.1h0M164.3 430.2h0M154.7 472.5h0M176.8 153.8h0M130.3 440h0M161.8 401.6h0M158.5 401.2h0M203 462h0M150.1 139.3h0M130.6 159.8h0M150.4 147.3h0M152.7 428.2h0M161.3 466.6h0M144.1 195.4h0M159.3 339.7h0M183.7 456.3h0M171.3 217.1h0M142.6 246.7h0M150.9 255.7h0M136.7 151.5h0M194.7 142.3h0M146.7 356.4h0M202.1 439.7h0M130.2 337.1h0M161.4 373.8h0M183.6 166.2h0M163.2 168.3h0M191.4 185h0M153.2 164.3h0M178.7 263.1h0M135 173.2h0M153.9 142.7h0M132 146.8h0M164.6 273.1h0M166.3 387.2h0M146.1 359.8h0M169.5 207.7h0M136.4 206.9h0M127.3 458h0M139.9 332.6h0M195.7 412.2h0M166.1 201.5h0M170.1 466.4h0M158.4 401h0M204.7 199.6h0M161.1 243h0M176.7 198.8h0M160.5 190.4h0M143 381.8h0M138 472.9h0M141.6 189.3h0M130.9 396.8h0M172.1 245h0M135.2 285.9h0M145.8 272.7h0M154.1 364.4h0M162.5 386.2h0M156.8 227.5h0M161.8 349h0M135.2 141.2h0M147.9 217.2h0M148.5 428.6h0M153.5 400.6h0M154.6 423.6h0M141.4 465.9h0M155.9 180.3h0M181.8 195.6h0M182.3 442.7h0M163 387.5h0M145.8 208.6h0M172.5 214h0M138.5 274.8h0M168.2 442.8h0M169.7 230.5h0M142.6 313.1h0M173 140.8h0M186.6 423.7h0M155.7 233.5h0M179.2 446.4h0M162.9 455h0M171.9 143.3h0M140.4 377.5h0M144.5 146.8h0M144.3 455.7h0M148.8 267.4h0M159.6 144.1h0M142.7 178h0M160 387.4h0M134 185h0M143.4 470.1h0M180.7 192.6h0M172.5 327.6h0M178.9 477.6h0M158.3 371.4h0M136.5 478.6h0M138.1 422.4h0M167.5 377.8h0M141.1 283.5h0M185.1 140.9h0M159.4 396.6h0M157.5 309.2h0M141.6 311.7h0M174.1 267.5h0M150.8 392.6h0M149.9 163.3h0M188.6 469.8h0M159.4 433.4h0M138.5 425.6h0M146.5 464.1h0M157.7 369.6h0M151.5 304.6h0M163 159.2h0M132.2 414.3h0M194.9 197.2h0M128 461.3h0M144.1 346.9h0M148.3 151.6h0M173.2 383.4h0M128.7 305.4h0M153.5 427.8h0M163.4 192.9h0M141.4 417.6h0M135.1 443.6h0M180.5 363.8h0M170 169.4h0M167 195.2h0M194.5 138.7h0M189 178.4h0M166.7 147.4h0M156.6 346.4h0M229.7 443.5h0M151.1 446.5h0M130.3 322.3h0M154.7 207.8h0M137.2 447.9h0M126 150.9h0M131.7 380.3h0M165.3 434.4h0M171.9 388.1h0M187.5 430.8h0M155.3 146.8h0M156.4 359.3h0M201 167.5h0M195.3 437.5h0M138.2 345.4h0M145.9 214.5h0M176 236.5h0M135.2 356.1h0M132.9 164.6h0M188 166.5h0M151 267.4h0M140.5 390.8h0M165.8 232.7h0M126.4 418h0M139 332.3h0M179.4 304h0M157 393.2h0M198.5 161.8h0M168 224.6h0M133 351.3h0M130.6 186.2h0M131.5 333.1h0M140 344.1h0M204.4 391.7h0M133.3 315.6h0M141 324h0M149.8 158.2h0M126.8 193.5h0M154.2 180.9h0M169.5 419.8h0M149.5 177.4h0M153.8 252.1h0M135.9 278.8h0M146.3 457.3h0M147.3 325.2h0M162 323.4h0M186.3 152.4h0M135.5 400.6h0M149.7 225.7h0M148.6 206.9h0M142.4 198.6h0M143.2 294.6h0M150.8 313.4h0M131.6 461h0M165.7 170.7h0M200.9 181.5h0M144.2 451.4h0M169.1 454.6h0M153.1 148.5h0M135.5 377.3h0M171.7 149.5h0M167.1 138.6h0M157 142.1h0M173.6 404h0M206.4 156.5h0M135.5 373.8h0M133.4 279.4h0M136.3 426.4h0M150.4 478.9h0M128.1 162.1h0M130.6 322.4h0M165.1 376.8h0M149.6 140.8h0M133.4 279h0M143.7 263.2h0M148.7 141.4h0M146.1 427.6h0M153.8 239.8h0M144.4 444.7h0M143.4 357.9h0M150.6 448.5h0M132.4 162.9h0M161.2 198.5h0M129.3 287.4h0M154.4 365.6h0M154.8 391.3h0M170.9 331.7h0M168.5 343.9h0M137.6 242.8h0M165 339.5h0M167.7 316.1h0M191.4 343.9h0M181.4 189.4h0M160.5 322.5h0M158.4 215.7h0M189.4 191.7h0M170.1 239.8h0M126.4 307.1h0M189.5 475.6h0M140 256.9h0M144.8 198.6h0M138.9 426.5h0M168.3 457.6h0M174.4 205h0M183.1 177.3h0M168.2 306.9h0M165.1 211.1h0M155.5 449.9h0M185.4 236.1h0M175.2 399.9h0M164.8 402.5h0M206 416.3h0M152.1 358.5h0M164.3 417.6h0M170.5 393.6h0M169.1 451.4h0M171.4 388h0M173.7 430.6h0M154.2 468.4h0M192.3 458.1h0M148.1 390.2h0M142.2 344.4h0M176 144h0M143.5 381.5h0M129.2 359h0M147.4 221.7h0M169.9 184.3h0M137.8 357.7h0M176.6 402.5h0M187.4 440.7h0M161.3 222.2h0M167.8 395.5h0M190.8 359.9h0M158.1 331.5h0M149.7 443.4h0M147.2 182.7h0M167.9 473.8h0M154.6 297h0M147.1 160.8h0M168.4 330.5h0M181.6 438.4h0M165.8 151.3h0M189.6 426.5h0M133.8 166.1h0M140.8 244.5h0M173.3 449.6h0M161.4 403.6h0M148.7 173.8h0M177.8 251.4h0M126.9 139.7h0M220.8 419.3h0M152.5 461.5h0M202.1 416.1h0M150.2 229.6h0M126.6 218.8h0M180.5 382.1h0M150.7 283.7h0M234.1 413.2h0M172.6 449.7h0M135.1 353.1h0M148.4 446.2h0M126 156.9h0M175.2 368h0M182.1 371.6h0M144.4 333.4h0M128.6 264.5h0M180 189.4h0M168.9 356.8h0M152.8 398.1h0M166.5 154.2h0M156.8 171.9h0M194.1 157.9h0M181.1 443.4h0M156.6 253.6h0M202.8 470.4h0M162 359.8h0M133.2 190.8h0M140.7 474.9h0M131.2 277.6h0M168.2 386.3h0M156.9 410.4h0M167.5 214.9h0M137.9 460.7h0M141.1 370.7h0M131.9 258.6h0M137 343.8h0M145.4 425h0M160.7 464h0M190.3 458.5h0M130.6 337.9h0M163.5 447.9h0M139.7 319.8h0M136.1 309.5h0M136.5 197.7h0M135.3 203.1h0M156.4 459.5h0M150.8 214.8h0M144.7 348h0M143.5 232.2h0M168 371.7h0M160.5 229.9h0M145.5 376.8h0M131.3 374.5h0M176.1 171.7h0M144.8 181.6h0M155.6 241.1h0M193.9 166.4h0M142.6 180.1h0M134.1 457.3h0M170.9 331.4h0M176.7 395.4h0M156.2 314.5h0M137.7 294.2h0M166.6 476.2h0M149.6 463.7h0M150.7 229.2h0M192 195.2h0M178 372.1h0M197 139.5h0M174.5 152.8h0M127.8 395.8h0M133.4 146.9h0M165.2 431.8h0M145.6 301.6h0M134.4 457.3h0M161.6 437.5h0M160.7 188h0M149.1 412.7h0M127.7 281h0M142.7 394.8h0M190 339.7h0M133.9 467.4h0M134 453.7h0M182.6 185.8h0M173.5 439.2h0M178.1 477.2h0M160.3 230.4h0M151.7 215.3h0M151.9 370.3h0M181.4 227.3h0M151.9 417.6h0M166.2 269.2h0M180.8 346.1h0M186.7 445.3h0M134 459.9h0M146 239.5h0M137.5 426.7h0M144.2 304.2h0M139.4 143h0M145.7 445.2h0M151.3 152.4h0M264.3 174.3h0M202.2 170.3h0M230.2 423.9h0M171.7 260.8h0M143.8 227.2h0M148.8 367.9h0M169.5 472.7h0M181.9 454.5h0M131.8 330.6h0M158.3 468h0M223.7 147.8h0M156.7 183.6h0M163.6 366.5h0M242.7 144.4h0M164.1 230.6h0M160.5 357.7h0M145.5 292.5h0M177.3 219.4h0M167.3 253h0M154.7 230.4h0M182.8 225.5h0M167.6 459.6h0M152.9 272.2h0M196.5 151.5h0M170.7 379.9h0M166.3 474.6h0M182.9 451.9h0M141.1 275.2h0M142 299.1h0M191.5 414.7h0M176.3 473h0M156.9 371.3h0M150.8 192.2h0M173.5 298h0M138.2 138.8h0M170.6 345.4h0M160.6 300.8h0M137.9 344.6h0M217.7 444.7h0M144.7 179h0M154.6 427.2h0M175.1 141.7h0M146 377.6h0M157.9 314.4h0M158.3 361.9h0M160.6 474.5h0M137.7 444.2h0M135.6 467.9h0M165.4 374.5h0M183.7 167.7h0M135.8 304.1h0M154.7 302.7h0M137 398.1h0M245.2 448.3h0M129.4 241.9h0M146.6 278.7h0M187.5 329h0M167.2 347h0M135.2 164.6h0M138.2 268.1h0M198.1 376.3h0M163.7 375.2h0M153.6 313.1h0M167.7 190.8h0M140.1 410.1h0M134.6 440.5h0M148 452.4h0M185.6 218.3h0M185.7 364.9h0M169.6 416.1h0M195.1 466.9h0M151.3 313.2h0M194 448.9h0M130.8 205.5h0M160.4 200.6h0M147 362.4h0M186.8 446.7h0M147.3 393.8h0M168.1 220.4h0M184.3 438.4h0M147.8 320.6h0M138.8 366.2h0M165.2 141.2h0M174.4 467.3h0M183.1 171.9h0M168.7 327.3h0M161.3 422.3h0M148.7 236.6h0M165.8 328.8h0M170.7 466.5h0M220.7 185.6h0M163.7 362.3h0M162.1 384.6h0M170.3 262.7h0M157.1 353.1h0M140.9 267.6h0M138.1 244.8h0M154.8 347.5h0M196.4 426.2h0M199.4 150.7h0M131.1 432.3h0M140.6 368.2h0M177.9 457.3h0M162.6 445.1h0M145.9 455.4h0M159 365.1h0M135.1 478.1h0M186.4 155.4h0M131.1 390h0M126.7 194.3h0M134.3 273.9h0M151.7 240.2h0M156.6 378h0M148.4 455.3h0M144.6 160.8h0M168.8 376.1h0M150.7 168.1h0M149.6 424.7h0M141.9 434.5h0M159.2 252.5h0M142.9 465.2h0M138.7 277.7h0M166.6 216.2h0M143.9 442h0M162.2 418.5h0M177.2 140.9h0M165.9 403h0M170.1 462.1h0M154.2 284.8h0M149.7 304.7h0M151.4 355.5h0M131.2 365.5h0M157.3 398.9h0M155.4 362.2h0M172.8 337.5h0M169.5 360.3h0M166.9 209h0M128.9 213.1h0M178 148.3h0M139.7 319.7h0M129 301.5h0M154 450.5h0M205.5 272.5h0M260.9 438.9h0M178.1 414.5h0M166 359.6h0M155.5 441.9h0M141.3 235.4h0M127.2 322h0M128.3 398.1h0M174.7 380.3h0M142.7 311.7h0M128.5 204h0M140.1 451.6h0M146.7 221.6h0M164.7 328.5h0M158.2 161.6h0M223.2 456.6h0M132.8 422.4h0M132.2 175.6h0M178.7 380h0M136.7 303.9h0M129.2 233.8h0M200.9 431.8h0M156.7 390.8h0M149.3 410h0M171.5 351.4h0M173.2 210.7h0M174.6 197.7h0M186.8 434.8h0M174.4 365.1h0M141.7 349.2h0M138.7 411.7h0M146.1 325h0M169.9 387h0M143 156.4h0M133.3 413.4h0M142.9 389.4h0M181.4 335.7h0M177.9 466.6h0M158.6 278.8h0M141.5 228h0M164 448h0M164.1 449.9h0M166.2 329.5h0M230.6 412.5h0M159.2 416.2h0M154.3 372.4h0M149.7 468.1h0M150.1 468.9h0M181.8 200.1h0M162.6 398.2h0M163.9 432.6h0M192 467.7h0M187 429h0M130.1 214.5h0M147.2 369.8h0M168.8 475.3h0M150.1 287.2h0M181.9 143h0M153.2 366.1h0M178.7 250.3h0M173.1 154h0M152.6 461.3h0M126.3 339.3h0M165.7 192.5h0M150.1 266.7h0M153.3 388.5h0M146.6 301.3h0M150.1 449.2h0M146.3 419.7h0M155.4 153.9h0M186.1 152.1h0M133.8 353h0M172.5 474h0M174.6 346h0M126.9 155h0M142.9 453.3h0M152.6 471.8h0M177 383.4h0M151.8 436.7h0M137.9 306.1h0M145.2 330.9h0M144.1 467.6h0M185.8 161.8h0M146.1 249.3h0M144.6 256h0M146.6 272.8h0M144 462h0M148.5 199.4h0M149.6 218.8h0M173.6 241.6h0M158.1 143.5h0M133.6 286.2h0M142.6 474.5h0M165.3 153.8h0M146.2 277.1h0M129.3 316.6h0M175.2 346.2h0M208.2 441.4h0M132.8 183.4h0M195.5 385.2h0M172.5 292.9h0M175 398.8h0M150.5 411.7h0M130.1 230.3h0M150.1 394.4h0M183.6 414.2h0M130.6 452.4h0M169.9 456.6h0M158.7 438.2h0M150.8 245.7h0M165.5 457.6h0M179.8 362.8h0M193.4 156.6h0M152.1 361.7h0M180.5 168.2h0M220.8 152.3h0M220.8 178.5h0M194.2 425.4h0M156.3 215.7h0M203.5 139.7h0M152.1 335.4h0M194.7 167.1h0M159.5 420.2h0M187 159.5h0M140.4 169.6h0M142.7 251.8h0M137.9 373.3h0M140.8 431.1h0M144 366h0M157.9 362.6h0M139.1 361.4h0M152.2 183.4h0M165.8 450.2h0M169.9 284.2h0M214.5 460.7h0M154.4 367.7h0M174.7 279.1h0M130.4 262.2h0M134.2 184.8h0M148 350h0M166.2 399.5h0M131.6 173.2h0M163.3 242.9h0M172.9 213.4h0M174.3 180.5h0M183.3 171.2h0M143.7 340.7h0M180.3 469.4h0M235.4 148.3h0M139.9 280.4h0M176.3 155h0M143.3 145.3h0M133.7 143.7h0M153.3 370.1h0M132.3 409h0M225.5 392h0M156.3 315.7h0M146.9 342.8h0M182.1 460.8h0M138.8 355.8h0M165.2 170.6h0M173.5 325h0M161 462.9h0M135.8 377.8h0M145.8 457.3h0M155 220.3h0M147.9 291.7h0M143.1 175.3h0M150.6 174.1h0M178.6 182.3h0M148.7 257h0M147.5 204.7h0M138.3 344.9h0M215.6 411.5h0M147.9 347.5h0M166.4 236.3h0M136.1 336.6h0M164.8 332.8h0M185.6 447.1h0M153.1 348.8h0M142.7 267.1h0M144.1 402.6h0M140.6 396.1h0M144 235.1h0M158.4 388.5h0M138.6 150.4h0M141.2 313.7h0M143.3 471.2h0M144.9 478.7h0M152.3 250.3h0M166.8 459.6h0M125.9 278.8h0M150.5 261.9h0M156 461.9h0M150.9 289.4h0M137 173.8h0M175.9 284.4h0M194.4 238.2h0M274.6 194.1h0M184.4 464.9h0M143.6 279h0M194.8 475.8h0M175.3 466.2h0M127.3 163.4h0M136.4 160.5h0M139.3 138.6h0M130.5 173h0M134.8 375.3h0M145.1 349.9h0M160.8 218.5h0M165.1 459.7h0M205.5 177.1h0M180.1 388.2h0M132 229.4h0M158.7 449.3h0M173 167.4h0M206.5 150.3h0M159.8 329.8h0M133.1 407.7h0M165.7 479h0M169.9 394.7h0M167.5 308.2h0M155 231.3h0M151.8 246.2h0M268 168.6h0M141.9 300.3h0M138.2 358.7h0M152.1 156.9h0M151.4 198.8h0M156.5 319.4h0M131 453.8h0M158.2 253.1h0M141.8 314.6h0M230.7 465.1h0M222.9 166.1h0M165.6 447.5h0M208.6 191.3h0M152 368.8h0M156.7 270h0M135.7 453.4h0M195.9 407.8h0M176.7 156h0M166.6 467.2h0M153.9 251.6h0M218 190.1h0M149.9 250.9h0M140.7 316h0M137.8 243.2h0M169.1 431.7h0M136.1 394.4h0M146.6 372.9h0M178 236.6h0M174.2 448.7h0M188.4 142.3h0M145.8 168.8h0M248.4 155.7h0M127.3 188.9h0M157.1 464.5h0M153.5 146.9h0M160.2 206.3h0M200.2 387.9h0M173.7 167.8h0M144.8 386.8h0M130.2 351.2h0M197.9 177.3h0M163.6 402.6h0M139.4 396.8h0M147.6 365.7h0M138 226h0M147.4 458.5h0M135.1 387h0M170.2 399.5h0M193.1 431.9h0M193.6 365.9h0M175.1 166.5h0M143.3 435.9h0M180.6 170.3h0M147.3 193.8h0M157.6 365.4h0M139.5 317.9h0M172.7 163.5h0M135.2 216.2h0M157.8 215.4h0M152.3 456.4h0M169.8 239h0M167.4 156.6h0M165.1 425.4h0M152 139.7h0M152.1 139.6h0M136.3 244.4h0M154.9 472.5h0M155.4 431.8h0M137.7 302.5h0M189.5 474.8h0M128.1 256.9h0M157.8 365.2h0M146.8 319.5h0M135.6 253.9h0M127.6 413h0M157.2 190.2h0M145.6 313.5h0M164.8 201.9h0M170.9 184.6h0M159.3 339.2h0M131.5 469.2h0M191.1 170.5h0M197.7 442.5h0M151.1 293.3h0M163.4 445h0M151.9 299h0M186.8 273.9h0M136.1 304.5h0M165.8 241.2h0M138.3 257.4h0M183.6 440.9h0M167.9 441.5h0M162 386.4h0M144.2 142.8h0M169.8 444h0M197.6 144.2h0M166.3 470.7h0M137.4 361.2h0M131.2 276.2h0M130 402.5h0M150.2 225.8h0M154.8 171.5h0M170.4 424.4h0M128.4 454.6h0M133.6 343h0M161.2 349.8h0M139.2 477.5h0M162.3 440.5h0M172.4 384.1h0M183.3 392.8h0M141.7 255.7h0M155.1 469h0M126.5 450.2h0M154.7 236.8h0M177.8 184.1h0M128.8 391.8h0M153.8 254.3h0M182.3 358.1h0M200.8 478.5h0M151.6 255.3h0M209 226.7h0M140.2 432.7h0M175.1 430.5h0M139.7 273.4h0M156 238.2h0M201.2 473.4h0M151.6 458.4h0M129.5 343.6h0M146.4 398.5h0M181.6 403.7h0M174.3 381h0M173.3 449.4h0M128.4 139.9h0M140.1 369.1h0M139.5 282.1h0M143.7 306.2h0M164.2 143.8h0M139.1 192.5h0M140.5 233.9h0M170.9 403.9h0M128.8 219.4h0M240.2 461.2h0M151.6 224.4h0M182.8 354.6h0M150.5 180.1h0M189.5 470.5h0M188.5 400h0M154.5 457.6h0M147.5 196.6h0M146.7 446.7h0M144.9 384.9h0M138.2 167.6h0M135.6 339.8h0M138.9 237.6h0M138 148.7h0M149.7 444.5h0M129.2 371.9h0M165.8 376.9h0M139.1 367.5h0M195.3 398.2h0M161.1 479.2h0M146.1 238.8h0M159 250.6h0M136.9 463.2h0M193.8 215.6h0M161 349.2h0M133.2 277.8h0M138.3 291.9h0M207.3 206.9h0M137.6 363.5h0M193.6 437.3h0M133.5 419.3h0M158.3 471.1h0M178.7 469.3h0M168.9 371.8h0M162.2 242.7h0M142.2 387.7h0M187.8 159.5h0M176.8 151.2h0M193.9 219.5h0M154.6 229.7h0M188.7 424.1h0M154.6 320.6h0M137.8 299.5h0M141.6 288.9h0M139.7 392h0M156.4 315.1h0M183.9 375.5h0M139.6 208.3h0M135.9 439.2h0M147.2 402.1h0M165 462.9h0M181.5 168.2h0M175.8 425.5h0M209.7 397.7h0M191.5 141.2h0M176.7 370.4h0M152.9 438.1h0M166.9 152h0M158.8 198.4h0M180.7 456.9h0M215.4 143h0M141.4 171.7h0M177.7 398.8h0M159.8 243.2h0M159.5 170.7h0M162.8 390.7h0M173.7 319.5h0M138.5 186.4h0M191.9 429.8h0M128.4 163.1h0M154.4 274.9h0M140.5 179.2h0M173.7 446.7h0M151.1 312.6h0M148.9 371.5h0M166.3 205.6h0M162.7 376h0M148 161.1h0M158.4 303.5h0M161.7 434h0M155.7 350.8h0M204.5 171.1h0M143 463h0M156.5 212.7h0M189.2 451h0M230.2 430.4h0M138.8 282.8h0M168.3 139.2h0M133.8 205.3h0M134.3 454.5h0M182.7 210.1h0M197.6 470.8h0M144.2 439.6h0M129.6 436.8h0M148.7 472.8h0M156.2 269.9h0M160.1 267.8h0M178.6 242.1h0M189.1 389.4h0M149.9 319.2h0M164.3 286.9h0M153.3 275.7h0M180.2 433.5h0M175.3 457h0M136.1 460.2h0M167.5 418.1h0M190.4 432.5h0M136.7 165.8h0M184 161.3h0M130.7 449.3h0M176.4 471.6h0M176.9 151.1h0M180.5 366.3h0M200.9 426.5h0M183.8 148.8h0M138.5 175.3h0M229.5 139.6h0M197.8 458.9h0M137.4 303.8h0M133.4 477.8h0M156.4 140.9h0M209.7 378.3h0M145.2 424.9h0M126.2 408.4h0M162.5 372.6h0M169.5 236.8h0M160 294.1h0M165.8 399.1h0M133.9 270.6h0M132.6 204.9h0M149.1 460.1h0M161.1 439.4h0M173.7 171.3h0M161.4 204.3h0M151.7 408.8h0M128.2 261.3h0M151.3 339h0M142.5 345.4h0M139.1 236.8h0M185.5 355.8h0M176.5 400.8h0M140.6 263.5h0M126.6 291.4h0M146.6 231.8h0M150 400.1h0M155.3 445.2h0M135.4 160.3h0M163.4 471h0M142.9 227h0M174.2 189.3h0M157.9 316.6h0M137.5 342.8h0M143.6 254h0M130.7 386.8h0M137.4 305.9h0M160.7 446.5h0M126.6 241.3h0M186.9 412.1h0M143.5 344.9h0M187.3 385.8h0M209.5 442.3h0M173.9 416.2h0M138.7 258.8h0M142.5 310.6h0M143.1 262.2h0M165.1 251.2h0M188.8 201.2h0M157.5 242.4h0M131.4 412h0M193.3 406h0M128.9 265.5h0M184.6 329.5h0M173.2 469.7h0M144.4 186.9h0M167 445.1h0M150.4 437.4h0M145.2 286.8h0M198.6 209.7h0M176 466.8h0M135.2 327.7h0M156.6 288.2h0M185.2 205.5h0M148.7 469.2h0M160.6 165.8h0M181.6 377h0M150.4 359.6h0M165.6 469.6h0M170 150.7h0M140.8 338.6h0M159.8 144.6h0M156.5 266h0M154.9 140.2h0M140.8 253.3h0M150.4 262.3h0M166 422.5h0M133.1 464.8h0M133.9 461.2h0M146.6 210.5h0M185 153.4h0M140.3 279.9h0M169.5 264h0M126.2 444.1h0M153.7 369.3h0M165 477.1h0M147 375.5h0M155.2 343.6h0M141.8 463.8h0M156.5 402.1h0M165.5 380h0M152.1 166.5h0M148.9 247.5h0M180.4 467.4h0M131.2 372.5h0M225.4 153.6h0M165.2 236.2h0M137.4 145.7h0M181.9 457.1h0M154.6 461.1h0M174.2 159.2h0M152 406.8h0M136.8 214.8h0M176.4 391.2h0M192.9 156.7h0M148.7 184.2h0M168.9 197.9h0M161 453.3h0M129.2 329.9h0M153.6 232.8h0M134.9 308.2h0M246.1 157.4h0M199.5 370h0M218 142.6h0M156.3 410.2h0M161.5 318.5h0M157.7 416.3h0M141.2 374.3h0M139.5 180.9h0M131.6 450h0M150.9 318.6h0M154 374h0M175.6 468h0M181.2 446.4h0M163.4 368.3h0M225.3 167.1h0M131.1 276.8h0M141.3 173.2h0M169 416.6h0M133.5 302.5h0M142.9 285.9h0M153.9 478.5h0M161.7 355.2h0M151 358.4h0M191.6 386.6h0M141.2 199.8h0M149.8 357.2h0M169 346.9h0M179.5 157.6h0M161.5 362.5h0M158.5 352.8h0M152 138.6h0M151.2 455h0M149.8 403.3h0M147.9 470.8h0M134.9 435.7h0M131.8 144.3h0M131.8 164.1h0M149.1 355.1h0M130.5 442.6h0M131.7 314.2h0M138.8 443.4h0M140.8 288.9h0M156.2 177.1h0M141.4 384.9h0M164.3 242.2h0M135.3 296.8h0M180.2 185.7h0M162.7 465.2h0M155.8 248.5h0M218.4 458.6h0M140.3 253.2h0M142.5 278.4h0M165.8 468.9h0M153.4 399.3h0M188.9 199h0M140 438.3h0M140.5 323.7h0M190.6 449.5h0M144.9 473.5h0M165.8 429.2h0M131.5 279.7h0M133.6 254.1h0M191.4 142.4h0M137.1 192h0M206.3 231.5h0M132.4 253.5h0M135.7 342.3h0M145.1 470.3h0M188.8 463.2h0M145.3 169.6h0M150.6 379.6h0M159.4 139.6h0M158.4 356.2h0M174.6 172.3h0M143 241.1h0"/>
<path stroke="#422ec0" d="M198.1 403.5h0M171.4 477.4h0M236.5 218.3h0M227.5 197.2h0M240.4 150.4h0M187.2 446.6h0M165.1 316.4h0M252.5 209.6h0M171.8 385h0M231.9 429.8h0M207.2 159h0M190.8 193.4h0M209.8 410.2h0M180.4 193.6h0M178.4 218.2h0M169.3 249.7h0M211.3 205h0M135.1 286.1h0M163.6 257.3h0M165.7 182.8h0M200.2 358.7h0M152.7 319.2h0M180.7 264.7h0M176.4 409.8h0M179.4 318.5h0M156.8 335.8h0M181.3 448.7h0M227.2 406.6h0M202.3 377h0M165.4 282.1h0M209.2 418.7h0M170 359.2h0M173.5 251.9h0M213.1 352h0M156 159.9h0M155.8 151.6h0M203.9 408.6h0M146.9 344.7h0M262.7 423.6h0M165.7 351h0M150 259h0M234.1 174.5h0M188.9 187h0M199.8 167.1h0M223.2 416.1h0M170.8 413.6h0M170.9 209h0M237.5 439h0M223.5 378.3h0M214.9 477.9h0M191.9 390.8h0M212.2 390.2h0M182 296.8h0M205.9 158h0M175.8 436.1h0M192.8 446.3h0M224.6 203.4h0M195.2 307.9h0M188.5 362.4h0M210.4 401.4h0M169 188h0M162.9 311.6h0M198.5 365.9h0M178.7 195.3h0M245.4 243.1h0M219.4 215.9h0M222.2 381.4h0M203 151.8h0M168.5 220.9h0M198.2 299.2h0M164.3 411.1h0M278 353.9h0M184.2 297.1h0M166.1 360.8h0M158.2 206.1h0M176.8 247h0M270 428.1h0M165.2 393.6h0M156.7 274.2h0M199.9 160.1h0M156.5 366.4h0M140.5 229.9h0M269.2 199.1h0M192.8 350.7h0M204.8 188.2h0M163.2 243.6h0M148.6 463.6h0M218.7 300.3h0M195 410.4h0M199.9 437.9h0M153.3 289.2h0M185.7 262.2h0M158.3 250.9h0M184.8 423.4h0M174.2 217.2h0M174.6 421h0M181.2 168.2h0M191.1 384.5h0M188 379.5h0M207.7 375.9h0M181.5 183.6h0M207.7 139.8h0M154.4 280.2h0M203.2 388.4h0M171.5 324.4h0M196.4 444h0M169.3 448.2h0M170.9 308.7h0M195 407.4h0M161.3 253.4h0M217.3 398.1h0M214 429.8h0M158.6 199.2h0M213.4 189.1h0M166.8 244.1h0M208.5 156.5h0M173.9 218.8h0M135.1 233.6h0M169.7 253.2h0M138.7 232.5h0M185 191.7h0M191.9 149.5h0M193.5 383.5h0M154.3 437.3h0M177.2 457.4h0M215.1 292.7h0M189 159.6h0M196.9 274.5h0M181.9 466.8h0M149.4 213.4h0M187.2 212.6h0M189.7 459.1h0M174.9 261.9h0M218.4 163.1h0M190.2 141.1h0M144.8 352.2h0M165.2 261.8h0M198.6 346.8h0M170.1 235.2h0M210.8 436.9h0M162.7 283.5h0M213.3 212.3h0M177.5 375.6h0M157.1 293.5h0M226.9 348.5h0M233.5 359.5h0M171.2 232.4h0M179.5 323.9h0M181.5 463h0M185 429h0M223.3 184.9h0M199.4 404.9h0M144 208.1h0M214.9 214.6h0M162.9 313.9h0M182.5 148h0M192 249.9h0M177.3 197.7h0M176.6 169h0M304.7 177.4h0M157.5 408.3h0M192.9 406.1h0M222.3 188.6h0M176.3 179.5h0M164.8 234h0M175.7 397.4h0M246.4 430.5h0M184.1 285.6h0M196 453.5h0M198.2 206.9h0M226.2 139.8h0M170.8 429.3h0M186.2 387.7h0M153.4 297.6h0M186.9 424.6h0M220 336.2h0M175.9 338.9h0M226.1 452h0M159.8 209.9h0M226.3 410.8h0M206.4 336.3h0M174.8 337.7h0M199.6 373.6h0M194.6 415.2h0M186.7 435h0M224.3 183.6h0M216.3 404.8h0M176 375.4h0M184.5 138.6h0M152.6 372.5h0M158.8 269.4h0M203.1 173.7h0M180.6 329.7h0M221.6 155.7h0M146 346.4h0M178.1 286.7h0M183.1 310.5h0M171.2 421.4h0M239 361.1h0M135.6 429.5h0M181.8 314.9h0M172.9 159.7h0M213.6 358.9h0M176.8 360.2h0M217.6 379.9h0M152.1 386.2h0M193.2 169.5h0M206.9 158.2h0M173.4 394.9h0M170.3 370.8h0M146.9 277.7h0M157.6 312h0M213.1 220.1h0M154.5 278.2h0M225.1 182.7h0M302 189.6h0M172.2 344.9h0M233.4 384.6h0M156.2 348.5h0M176.4 403.7h0M185.7 225.2h0M181.5 359.3h0M171.4 207.5h0M179.2 386.6h0M200.4 272.7h0M189.1 219.2h0M241.5 180.2h0M150.1 403.7h0M145 252.2h0M171.5 474.4h0M199.3 188.9h0M155.5 355.5h0M198.6 475.4h0M215.1 262.6h0M189.9 357h0M168.7 397.9h0M155.7 309.1h0M153.3 300h0M187.5 403.8h0M166.9 210.6h0M197.4 230.7h0M164.9 306.4h0M241.7 205.1h0M152.3 268.3h0M193.6 263.6h0M198.8 208.9h0M147.1 422.6h0M178.8 271.9h0M155.2 359.8h0M199.2 161.7h0M149.1 465.3h0M201.9 377.1h0M168.9 287.3h0M165.5 257.1h0M198.4 145.3h0M155.2 407.2h0M182.2 322.2h0M153.3 237.8h0M205.2 412.9h0M158.7 257.2h0M190.4 358.5h0M259.3 426.7h0M165.8 274h0M147.8 241h0M193.5 257.6h0M170.3 218.5h0M166.6 388.4h0M146.8 362.1h0M232.2 144.8h0M189 387h0M234.7 353.7h0M209.4 150.5h0M228.1 209.9h0M195.5 357.9h0M174 230h0M184.1 230.6h0M209.2 142.1h0M185.7 469.8h0M200.7 440.6h0M192.2 316.6h0M182.5 297.7h0M176.1 194.6h0M234 433.6h0M191 418.1h0M198.1 233.2h0M169.7 337.4h0M172.4 398.1h0M184.8 398.6h0M210 227.7h0M194.8 423.1h0M170.8 340.4h0M206 436.9h0M156.5 175.2h0M172.1 225.1h0M191.8 403.4h0M168.6 265.7h0M181.7 211h0M213.3 153.1h0M205.4 140.1h0M199.6 339.2h0M197.6 227.9h0M189.3 269.9h0M165.1 309.6h0M168.5 457.2h0M187.8 407.6h0M210.6 406.8h0M151.6 217.8h0M174.7 294.6h0M164 377.9h0M156.5 383.3h0M152 260.9h0M178.6 301.7h0M199.4 439h0M156.8 277.8h0M190.6 323h0M184.8 475.7h0M187 411.7h0M169.9 332.1h0M187.3 303.7h0M211.6 340.5h0M160.2 289.7h0M161.7 169.1h0M195.4 463.8h0M173.9 449.1h0M184 161.5h0M161.4 238.8h0M193.4 229.3h0M169.7 357.6h0M181.6 433h0M166.7 231.4h0M217.3 386.2h0M152.7 439.4h0M156.3 199.5h0M174.5 191.4h0M205.6 429.4h0M166 312.9h0M162.8 404.1h0M207.1 244h0M184.7 314.3h0M151 144.3h0M158.6 234.1h0M205.4 146.2h0M204.3 410.8h0M178 363.8h0M185.7 186.8h0M185.4 236h0M176 182.6h0M161.2 315.2h0M219.3 417.7h0M201.8 138.9h0M178 162.7h0M169.2 363.4h0M174.9 297.3h0M187.2 475.4h0M169.4 413.2h0M219.9 431.9h0M153 397.2h0M161.4 184.1h0M173 161.4h0M167 334.4h0M179.8 260h0M144 303.7h0M156.3 175.2h0M181.7 349.4h0M160.7 265.2h0M200.1 234.5h0M165.4 388.8h0M146.7 306.2h0M178.5 377.5h0M173.1 278.2h0M171.2 325.1h0M174.1 334.1h0M167.9 391.9h0M162.4 265.3h0M226.7 388.5h0M156.8 169.6h0M199.4 395.5h0M180.7 248.5h0M227.3 426h0M182.4 372.4h0M208.7 442.6h0M191.3 392.3h0M192.6 222.1h0M212 370.5h0M160.1 340.1h0M180 467.1h0M182.2 333.4h0M169.2 240.5h0M211 438.4h0M244 176.2h0M191 209.3h0M211.1 422.3h0M198.3 424.4h0M217.9 372.7h0M199.5 163.7h0M199.2 345h0M162.2 310.6h0M197.3 174h0M155.3 382.6h0M150.2 290h0M155.1 384.3h0M164.1 220.5h0M167 259.4h0M218.5 453.4h0M190.3 236.3h0M190 391.4h0M177.7 202.6h0M185 264.2h0M197.8 221.3h0M168.5 373.8h0M204.4 248h0M198.2 473.6h0M151.3 301.4h0M166.4 241.9h0M184.9 428.7h0M166.8 439.9h0M171.9 429.6h0M179.9 237.8h0M209.9 174.3h0M185.2 399.4h0M190.2 197.1h0M204.3 371.6h0M213.4 447.5h0M166.1 320.5h0M193.9 306.4h0M167 210.4h0M145.6 281.8h0M229.6 406.8h0M173.9 268.5h0M182.2 233.7h0M136.1 376.3h0M159.6 350.8h0M159.3 361.7h0M170.5 210.8h0M237.4 164.5h0M159.6 337.4h0M206.2 423.9h0M199.8 461.3h0M171.8 348.1h0M241.4 236.7h0M163.3 350.7h0M203 392.5h0M200.9 395.6h0M192.1 239.6h0M173.3 358.7h0M219 161.7h0M182.6 281.6h0M197 230.4h0M176.9 343.2h0M256.3 398.1h0M186.4 230h0M183.6 219.1h0M166.2 305h0M156.6 149.4h0M166.2 382.5h0M170.2 305.6h0M177.2 433.5h0M197.1 181.5h0M176.5 340.4h0M161.4 284.5h0M156.2 143.6h0M203.9 410.1h0M216.3 208.8h0M189.3 373.2h0M173.3 358.3h0M213.2 363.3h0M152.9 240.1h0M201.8 374.8h0M214.9 197.7h0M205 414.3h0M158.9 468.7h0M215.2 230h0M210.3 444.1h0M182.5 353.7h0M233.2 361.2h0M181 246.3h0M216 162.2h0M157.2 411.8h0M168.3 193.5h0M154.6 461.1h0M243.5 238.2h0M160 175.3h0M155.3 328h0M164.6 375.7h0M212.6 433.9h0M189.8 467.8h0M137.7 295.3h0M227.5 276.2h0M215.1 470.8h0M212.4 398.2h0M217.4 247.6h0M164.8 290.2h0M200.1 405.2h0M198.7 155.6h0M151.6 240.2h0M199.2 156.1h0M166.1 265.7h0M199.6 210.4h0M258.5 370.2h0M199.8 158.3h0M199.9 164.7h0M139.5 299.7h0M182.7 314h0M253.8 393.5h0M161.3 441h0M161.3 338.3h0M166.1 336.1h0M191.6 409.5h0M179.4 152.5h0M150.3 356.9h0M152.5 140.1h0M164 318.2h0M201 384h0M185.8 475.7h0M175.5 161.7h0M272.8 376.3h0M177.1 311.7h0M202.1 409.6h0M182.5 305.8h0M194.3 218h0M204 321.8h0M156.9 350h0M187.1 283.7h0M195.1 460.2h0M235.6 228.1h0M172 202h0M160.7 432.1h0M161.7 303.9h0M168.8 372.2h0M227.3 196.2h0M260.6 152.6h0M176.1 363.3h0M143.9 243.8h0M221.3 264.7h0M282.8 177h0M145.8 290.2h0M221.7 388.1h0M199.7 414.4h0M194 144.9h0M184.4 139.9h0M184.7 173.5h0M168 373.5h0M173.5 237.2h0M188.3 344.8h0M159.1 342.5h0M169.3 363h0M232.5 435.4h0M193.5 388.5h0M192.1 413.9h0M161.2 238.8h0M216.5 207h0M188.4 453.8h0M218 250.3h0M166.3 406.7h0M195.5 367.2h0M205 392.8h0M166 435.3h0M183.3 378.9h0M173 204.1h0M207.7 142h0M179.3 353.5h0M162.5 258.6h0M242.4 213h0M212.5 149.1h0M219 139.7h0M189.1 250h0M178 377.3h0M202.4 338.7h0M217.8 186.3h0M259.8 414h0M266.1 173h0M192.9 434.4h0M192.4 253.2h0M213.1 200h0M182.8 420h0M192.2 384.7h0M191.9 389.8h0M141 271.6h0M159.9 459.4h0M161.8 205.7h0M177 270.9h0M224.1 272.9h0M214.9 441.6h0M176.1 466.1h0M205 146.8h0M151.6 316.1h0M209.5 138.6h0M242.5 407.8h0M149.5 138.7h0M168.4 452.5h0M196 371.2h0M219.2 154h0M197.1 372.9h0M171.4 270.3h0M181.9 445h0M166.3 368h0M210.7 275.1h0M155.7 202.7h0M158 266.4h0M170 328.8h0M162.8 339.3h0M206.1 231.2h0M148 193h0M216 227.3h0M173 443.4h0M183.8 286.1h0M160.2 211.4h0M208.4 466.7h0M299.2 174.6h0M173 216.8h0M238.4 426.2h0M195.7 249.7h0M158.1 315.2h0M185.7 142.4h0M130.6 454.8h0M238.9 183.6h0M186 257.8h0M242.8 260.6h0M157.3 234.4h0M172.8 414.6h0M170.3 237.3h0M202.3 461.5h0M223.9 195.6h0M165.6 279.8h0M161.5 160.4h0M197.7 427.9h0M200.8 205.8h0M164.1 278.4h0M182.5 243.2h0M196.2 188.8h0M192.7 405.6h0M163.7 421.7h0M188.8 370.6h0M221.6 415.6h0M179 270.4h0M209.9 361.7h0M144.6 334.5h0M227.6 211.6h0M160.3 264h0M141.5 295h0M176.4 315.9h0M175.9 286.3h0M161.7 356.1h0M159.2 289.2h0M191.6 281.7h0M222.9 468.5h0M216.6 476.3h0M180.7 317.4h0M252.2 177.5h0M197.3 261.8h0M163.2 353.3h0M191.4 359.9h0M164.5 295.4h0M152 254.1h0M210.2 261.8h0M198 448.8h0M171.2 420.9h0M253.5 169.5h0M143.9 270.5h0M165.8 260.4h0M176.2 306.1h0M189.5 444.7h0M169.3 236.4h0M169.8 254.9h0M151 313.7h0M174.5 411.4h0M166.8 159.1h0M163.7 290.1h0M162.7 213.2h0M157.2 269.3h0M149.6 217.7h0M248.4 172.3h0M143.7 306.8h0M185.1 193.9h0M148.9 303.7h0M205.4 306.9h0M193.2 413.7h0M185.6 220.3h0M211.8 421.3h0M200.3 279.6h0M201.2 464h0M187.8 164.3h0M176.4 323.6h0M154 327.1h0M210.9 240.2h0M161.3 325.1h0M163.6 294.2h0M189.1 374.8h0M188.3 300.6h0M185.1 149.2h0M226.4 161.1h0M191.9 424.2h0M212.7 169.2h0M189.6 406h0M181.6 407.4h0M185.6 332.6h0M160.2 143.2h0M178.7 269.1h0M173.5 142.9h0M192.2 176.5h0M189.5 438.5h0M174.8 312.5h0M160.4 352h0M163.9 174.7h0M187.2 407.6h0M203 392.8h0M229.3 190.5h0M157.5 230.7h0M220.2 195h0M211.6 438.2h0M166.4 257.9h0M220.3 225.4h0M169.6 323.9h0M155.2 260.7h0M195.9 192.6h0M215.5 426.9h0M223.4 394.2h0M154.3 327.1h0M174.4 213h0M280.7 188.5h0M179.1 394.9h0M190.7 336.9h0M163.5 343.9h0M228.7 142.2h0M186.5 299.5h0M185.3 443h0M212.1 453h0M172.6 333.2h0M147.9 221.1h0M219.1 188.4h0M153.9 237.8h0M185.7 382.8h0M208.6 143.7h0M186.3 188.3h0M176.4 388.3h0M172.4 248.9h0M182.2 395.8h0M174.4 325.7h0M219.2 192.2h0M151.5 234.9h0M201.9 423.7h0M198.6 250.9h0M217.3 369.1h0M232.4 408h0M142 259.7h0M158.7 178.3h0M221.3 154.4h0M147.7 368.4h0M171.8 307.3h0M242.4 419.5h0M198.1 367.3h0M220.4 148.2h0M194.7 305.2h0M200.2 190h0M157.3 221.7h0M157.9 424.9h0M205.3 443.3h0M208.5 154.3h0M173.8 285.3h0M183.1 305.1h0M159.9 457h0M182.8 216.5h0M183.6 304.8h0M161 185.5h0M161.7 321.4h0M168.6 239.7h0M182.7 407.8h0M183.5 320.2h0M200.2 308.4h0M211.7 179h0M198.4 382.7h0M160.4 256.1h0M248.2 168.3h0M198.3 159.4h0M172.4 423h0M215.6 411.2h0M191.3 257.8h0M166.5 187.7h0M160.5 291.8h0M183.8 268.1h0M152.7 358.1h0M267 413.2h0M245.9 181.5h0M184.9 399h0M178.9 209.3h0M177.9 244.7h0M206.4 144.6h0M170.6 330.3h0M252.6 185.9h0M240.2 149.6h0M196.5 183.9h0M198.3 405.4h0M158.8 180.3h0M248.2 355.5h0M163 289.7h0M212.8 167h0M185.9 258.3h0M197.1 411.5h0M253.9 155.5h0M173.9 208h0M170.1 344.2h0M180 323.6h0M198.6 259.4h0M228.1 151.4h0M188.9 191.1h0M161.1 254.9h0M162.5 166.8h0M161.1 198.3h0M169.8 451.7h0M255.3 413.6h0M203.3 430.4h0M166.2 229.9h0M206 421.6h0M207 424.6h0M156.8 247.2h0M208.7 180.2h0M162.7 361.8h0M177.2 399.7h0M184.5 433h0M182.3 407.5h0M146.3 241.3h0M221.6 171.2h0M190.3 394.5h0M185.3 243.9h0M154.5 279.7h0M215.9 261.9h0M165.6 227.5h0M178.6 154.9h0M204.5 215.2h0M196.5 452.3h0M164.3 249.3h0M197.6 380h0M242.2 395.8h0M158.1 295h0M165.2 297.5h0M167.2 194.1h0M215.5 354.7h0M234.8 380.8h0M155.8 392.1h0M151.1 348.2h0M186.9 450.8h0M199.8 413.1h0M190.2 295.1h0M188.1 163.7h0M181.5 166.3h0M163.6 468.3h0M201.1 425.2h0M170.3 453.4h0M210.8 444.7h0M168 200.2h0M220.2 394.3h0M199.4 239.9h0M205.3 158.9h0M189.7 406.1h0M190.2 360h0M186.2 267.8h0M183.4 200.6h0M197.8 200.6h0M178.2 162.4h0M152.8 478.9h0M192.1 397.2h0M178.8 395.3h0M194.3 445.4h0M191 393.7h0M212.6 159.3h0M168.1 308.9h0M195.1 478.1h0M157.5 345.2h0M189.1 276h0M146.4 360.3h0M145.7 186.9h0M228.2 168.5h0M189.6 414h0M191.5 300.9h0M158.2 326.8h0M202 435.8h0M159.3 143.3h0M166.3 470.5h0M151.8 308.3h0M164.4 368.9h0M200.6 186.1h0M161.9 319.6h0M178 167h0M161.9 316.4h0M263.5 427.4h0M229.7 365.4h0M160.3 274.9h0M181.8 199.7h0M206.1 180.5h0M160.4 250h0M218.4 342.4h0M180.3 285.8h0M195.8 171h0M177.1 432.8h0M179.1 401.2h0M188.6 275.9h0M229.1 384h0M211.3 150.6h0M166.7 412.7h0M205.7 353.6h0M276.8 167.7h0M196.6 421.6h0M134.7 259.8h0M144.4 465.5h0M196 442.1h0M155.7 245.6h0M199.1 402.8h0M254.9 171.4h0M185.5 201.3h0M243.1 282.9h0M179.6 463.6h0M175.1 302.5h0M224.6 197.4h0M141.7 274.3h0M218.8 146.4h0M205.5 159.8h0M168.5 221.4h0M164.9 241.6h0M132.9 387.3h0M232.8 462.9h0M186.3 393h0M166.5 164h0M261.9 443.7h0M210.6 359.4h0M176 423.9h0M170.4 355.6h0M166.8 224.7h0M178.7 375.8h0M282.8 203.7h0M191.9 269.9h0M175.8 363.5h0M222.5 459.8h0M173.2 186.5h0M178.7 435.5h0M163.6 420.4h0M210.1 457h0M176.8 405.2h0M246.7 138.6h0M201 170.6h0M243.3 419.1h0M234.1 395.2h0M169.8 303.1h0M197.2 223.5h0M172.9 467.3h0M218.8 412.4h0M201.2 189.2h0M180.2 459.6h0M199.1 173.2h0M192.1 277.2h0M211 441.3h0M180.4 192.1h0M212.8 406.1h0M155.5 208.8h0M181.5 189.6h0M197.7 198.7h0M214.6 361.8h0M165.1 251.8h0M175.4 213.1h0M249.7 427.2h0M219.2 259.7h0M192.2 381.9h0M225.5 192.4h0M181.5 409.4h0M194.3 254.7h0M191.7 245.9h0M164.5 299.4h0M160.2 309.4h0M178.3 256.7h0M263.2 196.2h0M183.2 237h0M171 324.4h0M181.6 266.2h0M247.1 168.1h0M204.1 176.2h0M183.6 348.4h0M239.2 247.3h0M153.7 299.9h0M167.7 386.6h0M148 283.7h0M239.8 252.5h0M183 230.2h0M163.4 276.6h0M176.2 286.6h0M181.8 210.7h0M166.9 275.6h0M156.3 314h0M203.4 424.5h0M229.9 406.5h0M218.4 415.2h0M158.9 297.9h0M147.8 183.8h0M168.3 452.5h0M193.1 285.4h0M173.1 146.1h0M232.2 350.6h0M162.7 265.4h0M186.2 243.4h0M173 319.6h0M209.5 225.9h0M176.6 199h0M179.6 378.4h0M181.4 422.9h0M174.5 252.6h0M223.6 445.4h0M190.8 201h0M178.6 140h0M163 366.8h0M192.6 466.5h0M155.5 299.7h0M196.2 197h0M208.3 225h0M194.8 188.9h0M151.4 362.1h0M195.3 476.9h0M157.9 175.4h0M157.5 300.9h0M141.4 311.9h0M232.6 145h0M186.6 369.3h0M188.9 374.3h0M176.7 170.7h0M187.8 358.4h0M201.2 161.6h0M215.7 421.9h0M199.1 371.4h0M183.4 210.6h0M162.6 375h0M167.1 383.4h0M232.9 330.8h0M180.8 224.2h0M169.6 307.8h0M212 437.2h0M152.8 268.6h0M166.1 284.4h0M193.2 178.6h0M187.3 207.2h0M207.8 233.7h0M186.9 471.3h0M186.5 177.2h0M165.8 185.4h0M207.4 155.7h0M168 394.6h0M238.7 381.7h0M182 399.9h0M203.6 269.9h0M237.6 419.8h0M204.8 203.1h0M166 374h0M170.9 261.2h0M190.4 218.4h0M183.1 444.7h0M198.6 441.8h0M171.8 319.7h0M192.8 354h0M186.8 228.5h0M192.4 439.3h0M167.7 357h0M186.8 421.6h0M215.3 434.6h0M200 335.6h0M167.3 395h0M161.9 268.5h0M168.2 196.2h0M180.7 247.9h0M172.3 279.2h0M180 191.7h0M203.6 420.2h0M217.8 426h0M141 308.9h0M190.7 427.2h0M171.2 213.4h0M169.6 143.7h0M181.8 364h0M182.8 268h0M197.1 446.8h0M238.2 174.7h0M140.4 409.9h0M187.2 363.9h0M214 432.7h0M222 374.5h0M173.7 376.5h0M220.6 393h0M150 281.3h0M188.1 405.6h0M178.1 167.6h0M161.5 344.9h0M201.2 166.7h0M174.7 324h0M175.7 340.1h0M179.2 141.1h0M164.3 214.2h0M145.1 344.9h0M187.5 205.2h0M194.3 445.3h0M189.1 443.9h0M180.4 276.4h0M147.4 440.4h0M233.9 152.7h0M204.6 427h0M172.9 216.6h0M270.7 181.7h0M166.2 349h0M198 138.6h0M155.6 335.5h0M176.8 338.9h0M215.4 197.3h0M200.2 343.6h0M229 446.1h0M225.8 254.8h0M200.2 393.8h0M175.1 174.9h0M177.4 279.7h0M177.2 311h0M168.5 227.2h0M175.8 332.1h0M180.8 341.1h0M177.3 359.6h0M180.2 200.5h0M208.4 393.5h0M170.5 331.6h0M174 406h0M208 364.1h0M204.1 205.4h0M219.1 187.3h0M219.7 191h0M187.6 319.3h0M156.7 308.5h0M198.8 163.2h0M166.7 176.1h0M152.9 469h0M168.4 343.7h0M191.8 423.1h0M174.6 369.2h0M161.8 381.6h0M211 466.6h0M180.8 284.3h0M186.5 448.6h0M165.7 271.6h0M197.1 452h0M173.8 329.4h0M173.4 152.7h0M225.5 212.1h0M207.8 169.1h0M159.6 388.3h0M167.6 244.8h0M176 238.1h0M236.3 237.9h0M154.5 274.9h0M164.7 331.8h0M223.1 447.4h0M243.8 247.9h0M195 166.8h0M197.4 408.8h0M188.8 323.9h0M188.7 431.3h0M200.9 189.1h0M218.8 425.5h0M178.5 424.9h0M165.6 237.7h0M215.4 448.3h0M187.4 309h0M184.2 417.7h0M146.6 170.7h0M160.6 398.4h0M222.1 174.3h0M187.5 157.5h0M157.3 411.6h0M203.8 376.4h0M219.5 141.4h0M152 296h0M161.9 327.6h0M141.9 402.6h0M164.7 239.2h0M209.9 339.8h0M152.7 374.2h0M202.8 374.8h0M219.6 221.4h0M209.2 192h0M164.3 396.9h0M174.8 180.5h0M153.8 297.2h0M154.1 248.2h0M160.4 335h0M155.4 280.2h0M232.3 386.7h0M172.9 356h0M163.9 267.2h0M218 141.8h0M206.6 404.9h0M188.3 259.5h0M249.1 182.5h0M186.8 464.5h0M179.4 179.1h0M195.8 435.8h0M142.8 293.8h0M190.6 166.8h0M151.1 322.6h0M220.8 231.1h0M222.3 245.3h0M245.5 421.4h0M172.2 468.3h0M201 149.4h0M155.7 282.1h0M213.2 194.6h0M173.6 249.8h0M235.3 156.1h0M246.7 418.6h0M161 313.8h0M187.1 411.5h0M163.4 254h0M164.8 370h0M178.6 339.7h0M196.4 214.8h0M156.3 361.1h0M168.4 256.6h0M195.7 468.9h0M177.6 330h0M177.5 161.6h0M196.7 402.5h0M186.6 452.7h0M198.7 386.8h0M180.6 410.4h0M165.9 337h0M186.5 387.4h0M168 200.4h0M204 197.7h0M139.8 254.6h0M203.6 435.6h0M221 399.4h0M195.3 207.9h0M193.8 370.5h0M203 176.8h0M193.9 434.4h0M222.1 207.2h0M165 355.4h0M160.6 328.7h0M169.5 233.2h0M176.8 196.5h0M174.8 469.6h0M168.5 230h0M171.3 271.8h0M183 229.9h0M188.6 416.7h0M172.1 360h0M223.9 449.2h0M192.5 259.8h0M164.6 296.8h0M189.2 389.5h0M160.5 237.5h0M163.1 413h0M187.5 263.1h0M165.5 450.8h0M189.9 354.1h0M174.3 421.7h0M189.5 303.2h0M200.1 411h0M151.4 237.5h0M164.8 394.7h0M189 449.5h0M160.6 276.1h0M202.6 373.1h0M184.7 395.7h0M187.1 394.3h0M162.9 240.7h0M150.6 251.6h0M196.4 161.5h0M187.2 255.1h0M242.1 440h0M195.5 157.6h0M201.4 368.7h0M178 294.2h0M156.2 306.6h0M143.9 456.4h0M212.7 297.6h0M157.8 344.6h0M179 284.4h0M156.7 287.2h0M190.7 428.2h0M196.9 238.2h0M170.9 303.5h0M168.8 374.2h0M146.1 261.3h0M204.7 395.6h0M204.4 158.7h0M201 241.1h0M169.8 388.7h0M213.3 223.9h0M190.4 373.5h0M206.7 202.8h0M163.2 314.6h0M160.8 204.8h0M179.4 210.4h0M170 371.8h0M128.1 436h0M203.4 163.7h0M231.3 370.8h0M165.8 405.9h0M171.6 171.6h0M249.8 403h0M168.3 353.9h0M256 421.3h0M173.6 247.8h0M166.4 198.3h0M220.1 161.5h0M187.2 394.4h0M211.2 186.3h0M212.5 424.1h0M172.2 321.3h0M195.8 220.4h0M205.6 277.4h0M186.6 318h0M184.7 273h0M176.5 343.2h0M238.7 140.4h0M181.1 287.2h0M152.5 272.7h0M174.9 242.4h0M207.7 240.2h0M160.6 189.4h0M180.2 273.2h0M155.2 266.8h0M190.5 323.9h0M193.4 460.1h0M162.3 318.3h0M157 340.4h0M203.7 249h0M154.6 373.3h0M198.4 423.1h0M158 339.4h0M172 150.9h0M179.1 167.9h0M222.9 431.5h0M203.2 309.5h0M287.7 151.6h0M221.6 159.4h0M196.5 396.4h0M184.8 166.8h0M193 143.6h0M204.8 202h0M178.3 467.6h0M177.5 152.8h0M173.2 276.9h0M177 246h0M174.2 166.5h0M191.6 463.6h0M166.1 269.6h0M173.2 354.6h0M160.4 254.1h0M189 200.3h0M181.6 470.9h0M207.3 398.2h0M250.1 184.7h0M229.8 145.4h0M192.7 415.9h0M176.7 180h0M166.2 464.5h0M216.3 412.9h0M165.7 406.4h0M176.9 327h0M171 257.8h0M189.4 435.1h0M194.7 153.8h0M172 444.8h0M219 407.5h0M161.2 285.3h0M172.2 420.3h0M203.3 372.3h0M184.3 362.1h0M174.1 170.7h0M200.1 197.3h0M241.7 403.1h0M183.5 444.1h0M192.6 231.9h0M204.6 471.3h0M182.3 356.3h0M167.3 346.9h0M212.1 461.5h0M200.6 469.1h0M237.9 141.6h0M172.3 355h0M173.1 242h0M175.4 289.8h0M181.7 245.8h0M207.8 253.6h0M225.7 336.4h0M168.8 174h0M163.1 359.2h0M182.4 201.5h0M169.4 288.3h0M193.9 354h0M191.6 293.3h0M179.4 439.3h0M149.9 279h0M170.4 189.6h0M198.4 200.8h0M184.2 384.5h0M240.9 427.6h0M159.2 185.2h0M175.7 182.4h0M188.3 348.3h0M204.1 260.6h0M193.6 453.3h0M175.4 209.4h0M172.4 380.7h0M150.8 218.6h0M264.3 390h0M257.6 403.2h0M196.5 459.6h0M152.7 280.1h0M176.7 140.7h0M169.5 388.6h0M192.5 363.4h0M139.9 272.1h0M211.5 408.3h0M187.1 408.1h0M171.5 217.4h0M194.7 165.7h0M152.8 289.9h0M146.6 253.3h0M207.8 277.9h0M199.3 149.3h0M182.9 191h0M192.1 438.9h0M170.5 285.5h0M176.3 314.9h0M215 432.2h0M176 294.1h0M154.9 141h0M182.4 365.3h0M272.8 421.7h0M200.7 410.6h0M208.3 396.5h0M172 421.7h0M162.8 371.1h0M172.1 442.3h0M159.3 467.2h0M199.6 359.7h0M187.3 252.6h0"/>
<path stroke="#4332cb" d="M193.4 249.6h0M175.1 296.4h0M198.3 313.7h0M221.8 345.2h0M165.6 212.7h0M187.4 195h0M176.8 324.2h0M200.6 191.5h0M189.9 332.6h0M201.5 275.2h0M180.8 366.6h0M197.6 392.7h0M270.3 193.7h0M223.6 408.2h0M228.7 204.6h0M204.1 265.3h0M173 239.3h0M201.9 334h0M239.4 255.8h0M194.6 349.4h0M239 433.9h0M271 378.6h0M197 197.7h0M267.8 219.1h0M203.6 390.1h0M187 206.4h0M229.5 354.8h0M169 281.1h0M176 203.6h0M203.8 206.2h0M188.5 320.1h0M171.5 204.6h0M216.4 383h0M160.9 340.5h0M247.8 380.5h0M189.6 285.5h0M269.2 330.6h0M198.3 327.8h0M181.2 347.5h0M169.2 375.7h0M190.3 279.5h0M197.3 329.1h0M178.7 289.1h0M181 336h0M211.2 234.4h0M175.1 319.5h0M254.1 210.8h0M220.7 347.7h0M224.9 295.3h0M189 395h0M248.6 149.2h0M209.4 186.4h0M197.4 238.2h0M171.3 343.9h0M183.3 247.1h0M182.4 390.2h0M182.3 241.9h0M180.6 245.3h0M186.6 384h0M250.9 164.8h0M226.9 406.1h0M224 340h0M166.7 318.6h0M226.2 164.1h0M172.6 355.5h0M189 211.7h0M173.4 309.8h0M208.6 199.4h0M191.6 410.4h0M188.4 180.3h0M187.1 284.8h0M216.7 383.1h0M198.3 398.8h0M185.1 298.8h0M253.8 391.2h0M215.4 370.8h0M160.2 344.3h0M180.6 338.5h0M183.6 255.8h0M212.8 364.4h0M241.1 185.2h0M215.1 298.6h0M201.1 242.6h0M172.4 285h0M206.5 358.4h0M234.1 425.6h0M227.5 405.6h0M182.7 378h0M215.2 324.5h0M203.6 276.1h0M193.2 213.5h0M211.2 377.6h0M176.3 188.2h0M177.8 255.9h0M177 279.6h0M159.4 255.2h0M249.3 385.6h0M199.2 211.3h0M154.7 262.7h0M168.2 277.7h0M297.3 243.9h0M169.2 382.2h0M180 183h0M200.2 203.3h0M150 302.8h0M192.8 296h0M253.1 188.9h0M174.1 212.9h0M180.3 257h0M182.8 276.2h0M199.7 364.9h0M198.7 176h0M239.7 292.7h0M200.1 370.6h0M166.1 283.6h0M180.6 404.7h0M219.5 211.4h0M216.7 174.8h0M235.6 423.2h0M201.2 355.2h0M194.6 379.6h0M229.5 252.7h0M190.6 248.7h0M212.5 405.6h0M167.4 351.4h0M188.3 348.8h0M211.3 352.7h0M270.6 207.9h0M234 425.1h0M221 419.4h0M193.4 255h0M171.8 277.7h0M287.8 211.5h0M182.5 402.9h0M186.5 378.3h0M229.7 201.8h0M153 323.6h0M230.2 334.7h0M159.5 269.3h0M203.9 288.2h0M194.4 287.8h0M292.8 356.3h0M286.2 213h0M195.9 291.9h0M198.3 287.5h0M197.1 213.7h0M205.8 165.1h0M171 367.8h0M171.9 273.2h0M217.7 419.2h0M225.8 421.2h0M168.6 264.1h0M283.3 328.4h0M228.1 277.7h0M271.3 369.6h0M177.2 241.8h0M217.8 397.1h0M242.8 292.8h0M205.5 399.4h0M154.7 261.3h0M219.8 388.8h0M191.6 367.7h0M198.9 385.3h0M170.5 342.2h0M243.4 442.1h0M246.7 414h0M177.7 388.3h0M196.3 150.2h0M248 327.9h0M242.6 389.1h0M206.5 384.9h0M182.4 320.1h0M204.4 227h0M249.2 224.5h0M165.8 380.8h0M176.9 262.1h0M186.3 212.8h0M176.1 403.5h0M201 326h0M185.4 165h0M208.6 306.6h0M194.4 216.3h0M189.4 283.4h0M223.9 343.4h0M180.1 211.6h0M205.9 152.2h0M268 348.3h0M189.4 312.9h0M181.3 382.8h0M217.5 311.4h0M183.5 359.9h0M191.2 296.2h0M148.8 315h0M211.2 308.1h0M168.5 263.1h0M189 359.1h0M158.4 228.6h0M181.3 192.8h0M192.7 270.8h0M181.6 350.2h0M183.4 195.2h0M217.5 418.8h0M215 395h0M166.9 240.8h0M186.6 333.6h0M206.3 200.9h0M260.5 448.7h0M161.3 432h0M207.7 230.6h0M234.7 354.9h0M215.7 161.5h0M210.7 386h0M186 322h0M174.3 472.8h0M169.2 352.3h0M234.9 314.5h0M220.8 201h0M163.6 459.4h0M179.9 413.9h0M187.3 193.8h0M190.8 205.5h0M245.9 366.5h0M186.4 387h0M232.8 396.3h0M220.2 244.6h0M184.2 326.8h0M192.1 304.3h0M201.2 406.5h0M195.2 219h0M212.6 398.3h0M230.1 231.8h0M233.8 408.6h0M185.5 345.6h0M191.7 275.2h0M216.5 349.9h0M224.6 369.9h0M204.2 416.4h0M169.1 223.4h0M225.4 425.9h0M200.8 257.9h0M189.4 345.6h0M175.7 341.4h0M196.1 253h0M199.1 374.9h0M233.5 378h0M241.1 321.2h0M203.4 358.5h0M162 326.9h0M196.2 419.5h0M183.7 241.4h0M179.5 292.3h0M192.1 164.3h0M203.6 144.1h0M184.2 215.6h0M175.3 323.4h0M201.4 365.7h0M183 223.2h0M253.7 409.8h0M163.9 284.8h0M196.1 227h0M183.2 221.9h0M197.1 157.5h0M199 212.2h0M192.1 400.5h0M214.9 291.9h0M183.5 365.7h0M192.9 312.6h0M207.2 270.1h0M175.5 322.9h0M191.1 321.9h0M160.4 258.8h0M175.9 336.8h0M193.8 379.3h0M179.2 226.4h0M202.1 340.5h0M219.4 341.8h0M177.8 279.5h0M235.8 199.6h0M258.9 169.7h0M189.4 369h0M231.1 254.8h0M198 267.5h0M253.2 351h0M153.4 293.1h0M200.4 381.9h0M190 324.5h0M165.4 313.6h0M211.5 221.8h0M226.4 354.2h0M212 344.2h0M244.7 290.1h0M225.3 433.7h0M199 221.8h0M206.2 361.4h0M200.1 355.9h0M220.2 440h0M215.3 406.2h0M196.7 364.3h0M157.4 233.2h0M204.1 282.8h0M167.7 323.9h0M194.1 289.1h0M187.3 308.1h0M220.4 380.8h0M233 172.6h0M167.4 402.1h0M184.2 312.8h0M228.2 400.3h0M212.7 205.5h0M169.9 171.1h0M190.4 277.6h0M166.7 444.9h0M193.9 176.7h0M204.6 144.1h0M167.2 385.7h0M187.5 218.2h0M174.2 339.5h0M177.5 268h0M175 303.4h0M219.1 183.9h0M178.1 470.9h0M150.5 277.6h0M202 165.3h0M208.2 398.6h0M174.4 320h0M183 341.7h0M190.8 406.4h0M213.7 358h0M195.9 227.3h0M227.5 180.5h0M170.4 245.8h0M202.9 298.8h0M184.8 371h0M216.6 344.3h0M180.1 230.4h0M159.7 334.2h0M235.2 206.1h0M185.1 372.4h0M170.5 290.8h0M234.6 264.1h0M175.4 230h0M169.5 270.1h0M192.6 356h0M168.3 354h0M188.8 235h0M223.3 211.3h0M197.2 316.2h0M183.3 317.2h0M212.8 188.6h0M161.1 330.1h0M222.4 328h0M194.7 387.1h0M169.9 333.6h0M168 243.6h0M167.5 264.6h0M186.3 321.5h0M231.7 212.5h0M233.4 409.7h0M171.4 308.9h0M189.5 300.6h0M189.2 348.5h0M261.5 138.9h0M233.6 361h0M193 379.3h0M178.2 295.1h0M191.4 163.2h0M178 256.7h0M167.7 338.4h0M190.7 214.7h0M201.1 328.9h0M204.7 402.3h0M210.4 176.9h0M201.8 431.2h0M255.8 159.5h0M195.6 216.4h0M172.8 269.2h0M178.4 280.1h0M314 206.4h0M193.7 373.7h0M204.5 169.3h0M200.6 316.3h0M232 257.5h0M199 393.8h0M173.7 340.9h0M197.4 154.4h0M185.8 435.1h0M216.3 325h0M176.2 369.1h0M202.1 462.3h0M182.5 251.6h0M265.6 236.8h0M193.5 344.1h0M212.8 420.9h0M191.7 262.2h0M198.3 424.7h0M184.2 280.1h0M186.3 350.3h0M212.1 366.7h0M211 168.2h0M188.3 228.1h0M225.5 342.2h0M201.9 374.3h0M203.1 158.1h0M178.4 230.7h0M218.2 215h0M195.7 294.3h0M251.6 429.9h0M176.4 284.3h0M216.3 216.9h0M156.4 285h0M193.6 206.6h0M223.8 219.3h0M197.9 331.4h0M236.6 386.5h0M209.3 224.6h0M184.3 373.6h0M173.5 342.5h0M176.1 225.8h0M226.9 373.5h0M170.1 262h0M175.3 459.2h0M202.4 228.1h0M170.2 257.3h0M167 263.5h0M223.6 419.6h0M206.1 336.7h0M212.3 228.7h0M177.2 228.9h0M222.8 305.7h0M255.4 347.9h0M164 293.2h0M239 429.9h0M209.2 242.1h0M174.2 308.2h0M174.7 322.9h0M259 394.7h0M158.4 357.3h0M176.7 412.6h0M277.2 200.5h0M233.5 318.9h0M198.4 265h0M189.2 368.6h0M161.7 305.1h0M233 229.2h0M234.9 241.2h0M181.8 256.3h0M257.4 381.5h0M216.1 439h0M218.7 402.8h0M170.5 269h0M189.6 252.1h0M179.3 155.3h0M192.6 389.7h0M213.9 447.2h0M214.9 174.9h0M231 338.2h0M244.7 408.2h0M222.8 164.5h0M191.8 258.4h0M247.2 361.7h0M195.6 230.2h0M227 162.3h0M219.6 293.7h0M203.1 227.5h0M218.1 189.1h0M178.7 345.8h0M203.9 292.4h0M198 262.9h0M173.6 350.6h0M176.2 191.3h0M168.2 328.7h0M194.8 399.8h0M182.4 333.6h0M187.2 431.7h0M176.2 258.1h0M162 245.2h0M194.4 252.2h0M172.8 322.9h0M166.8 273.6h0M167.3 274.3h0M188.4 330.9h0M238.8 382.9h0M232.1 443h0M194 290.7h0M217.1 423.2h0M198.4 367.4h0M188.3 292.7h0M227.1 184.7h0M190.4 263.5h0M182 139.7h0M213.7 316.7h0M290.6 203.8h0M203.2 254h0M213.3 382.3h0M193.6 377.7h0M231.2 395.2h0M185.4 266.1h0M234.1 344.6h0M194.7 397.1h0M160.3 278.8h0M181.4 346.1h0M188.1 298h0M215.9 371.7h0M160.4 328.7h0M180.6 314.7h0M169.3 289h0M189.8 232.4h0M172.4 332.9h0M188.6 350.8h0M239.9 391.3h0M200.7 391.1h0M238.6 205.6h0M174 364h0M169 269.6h0M189.4 272.1h0M191.7 345.7h0M204.7 377.5h0M206.1 423.3h0M182.2 355.4h0M160.9 210.3h0M171.1 299h0M173 240.7h0M214.9 202.5h0M184.3 265.7h0M190.9 398.5h0M176.9 353h0M205 409.4h0M207.4 215.6h0M217.3 249.2h0M165.5 369.9h0M186.8 345.9h0M181.6 331.3h0M199.7 317.5h0M263.7 382.8h0M288.4 165.7h0M195.2 237.3h0M200.3 213h0M215.5 366.1h0M193 246.1h0M210.1 149.7h0M175.7 266.2h0M202.4 339.1h0M196.3 362.2h0M213.3 294.4h0M176.9 320.7h0M237.4 372.1h0M233.2 213.6h0M202.1 283.5h0M166.6 275.3h0M203.8 360.6h0M218.7 292.3h0M215.8 356.3h0M173.4 356.5h0M181.6 154.8h0M206.6 289h0M208.8 214.1h0M185.5 279.8h0M172.3 352.8h0M237.6 201.7h0M214 207h0M166.6 345.3h0M175 349.7h0M245.4 189.1h0M186.1 339.1h0M187 197.2h0M224.4 356.8h0M172.2 231.8h0M174 144.2h0M171.7 248.7h0M219.7 173h0M205.8 218.8h0M216.2 220.3h0M209.9 332.3h0M200.5 200.2h0M201.7 350.6h0M177.3 338.5h0M149.8 265.6h0M219.4 393.5h0M178.4 232.8h0M176.1 255.3h0M172.9 381.3h0M160 335.8h0M173.4 407.4h0M190.1 149.1h0M198.6 222.3h0M172 291.5h0M176 286.1h0M171.6 450h0M198.4 219.4h0M191.7 335.5h0M188 281.6h0M178.7 315.1h0M264.5 384h0M202.8 239.4h0M233.1 335.2h0M181.3 266.2h0M166.9 227.6h0M163.2 359.5h0M237 333.7h0M174.2 201.2h0M203.4 331h0M193 342.6h0M224.6 383.2h0M185 333.2h0M344.6 178.4h0M226.7 309.3h0M203.3 340.2h0M192.6 218.1h0M215.6 420h0M220.1 212.8h0M173.1 225.9h0M273.1 155h0M258.1 407.3h0M171.3 275.9h0M182.9 309h0M182.2 151.6h0M184.7 203.2h0M198.3 469h0M176.1 294.5h0M186.3 366.9h0M329.6 158.1h0M247.9 374.6h0M203.9 181.7h0M228.6 176.7h0M176.4 237.6h0M211.6 393.8h0M166.6 192.8h0M197 259.3h0M160.7 291.2h0M198.5 313.3h0M226.2 228.5h0M198.7 220.3h0M190.8 395.3h0M195.7 302.7h0M282 227.4h0M223.1 385.3h0M165.5 325.7h0M234.6 315.9h0M273.2 431.8h0M172.2 337.2h0M207.3 331.6h0M190.3 413.1h0M218.1 373.9h0M158.2 244h0M184.3 270.4h0M191.2 207.7h0M188.2 150.8h0M167.3 296.1h0M244 328.6h0M174.6 252.7h0M186.7 264.7h0M190.9 466.7h0M190 308.4h0M272.3 334.2h0M189.3 408.1h0M200.5 290.2h0M205 183.4h0M162.5 305.2h0M175.1 451.1h0M204.6 384h0M222 214.6h0M178.8 277h0M287.2 403.9h0M153 359.8h0M221.5 205.4h0M197.8 287.3h0M226.6 416.2h0M188.8 363.4h0M197.7 393.8h0M182.2 209.2h0M231.4 373.8h0M234.9 371.2h0M155.2 265.5h0M209.5 386.2h0M239 375.3h0M214.2 441.4h0M192.9 139.3h0M195.6 195.9h0M235.4 201h0M166.3 209.9h0M180.9 336.1h0M245.7 176.2h0M174.7 253.8h0M200.9 409.5h0M177.8 305.9h0M156 203.3h0M171.9 313.5h0M162 172.5h0M191.2 353.2h0M182.4 236.2h0M177.7 279.7h0M186.3 350.2h0M159.5 284.9h0M193.6 368.7h0M202.2 281.7h0M213.5 359.6h0M276.9 383.1h0M153.9 275.1h0M170.2 361.2h0"/>
<path stroke="#4537d5" d="M229.2 237.9h0M245 209.6h0M270.2 353.9h0M163.3 303.1h0M247.3 291.4h0M205.1 379.8h0M192.9 349.8h0M192.5 286.3h0M196.2 207.7h0M263.1 331.8h0M245 364.8h0M246.2 262.8h0M220.9 254.4h0M223.2 333.7h0M254.6 322.8h0M200.7 326.3h0M194.1 317h0M195.4 316.5h0M216.2 334.2h0M223.8 298.7h0M204.5 262.6h0M220.8 382.1h0M187.5 374.7h0M205.8 202.4h0M244.5 198.3h0M171.3 288.1h0M269.5 155.4h0M210.7 361.2h0M247.8 369.8h0M261.7 367.4h0M170.6 352.1h0M248.9 219.9h0M191.5 239.2h0M244.1 161.6h0M211.1 332h0M243 335.4h0M233.1 238.8h0M190 367.5h0M235.4 209.6h0M209.3 386.2h0M202.4 267.8h0M239.5 337.6h0M233 305.3h0M199.3 300.5h0M219.6 389.8h0M227.7 352.2h0M196 335h0M192.6 232.7h0M185.3 317.8h0M217.9 203.7h0M241.3 202.2h0M205.1 246h0M189.6 261.3h0M221 265.6h0M198.9 360.8h0M291.9 301.8h0M243.5 287.3h0M159.6 259.5h0M230.8 316.2h0M206.9 258.2h0M175.5 301.5h0M208.3 304h0M176.7 308.2h0M169.9 311.9h0M176 282.3h0M234.4 376.7h0M240.6 207h0M255 201.6h0M195.6 325.9h0M227.5 318.9h0M178.9 403.1h0M227.1 236.6h0M196.6 297h0M164.9 300.7h0M173.6 330.6h0M201.5 354.8h0M211.2 273.3h0M177.1 281.2h0M175.5 302.1h0M181.7 208.1h0M221.2 301.6h0M200.1 363.2h0M164 322.8h0M219.8 327.9h0M177.6 266.2h0M209 410.4h0M203 175.4h0M173.1 301.2h0M187.7 277.5h0M250.3 264.6h0M201 367.4h0M200.3 378.6h0M241.2 239.6h0M187 317.5h0M198.7 211.1h0M199.2 247.9h0M195 230.7h0M276 253.9h0M198.5 214.3h0M190.1 258.7h0M232.1 269h0M242.1 412.4h0M208.8 430.5h0M177.7 260.5h0M207.4 350.6h0M174.4 296.2h0M207.7 372.6h0M217 339.9h0M200.3 196.2h0M296.4 205.9h0M245.9 382.8h0M190.3 306.6h0M185.4 422.5h0M195.7 382.2h0M176.9 315.6h0M227.4 366.2h0M229.6 262.2h0M186.7 263.5h0M237.8 321.5h0M266.9 234.5h0M183.1 297.5h0M195.7 370.4h0M218.9 297.3h0M203 316.8h0M167.6 276.4h0M216.1 197.5h0M226.5 309.4h0M202.8 221h0M219.1 373.2h0M259 203.5h0M183.9 204.3h0M184 287.4h0M288.3 410.6h0M181.8 363.2h0M194.1 273.2h0M179.2 317.2h0M213.2 232.7h0M206.7 384.8h0M220 359.6h0M202.7 360.7h0M187.2 343.2h0M201.3 255.9h0M192.5 348.2h0M197.8 317.7h0M279.1 297.5h0M214.1 410.5h0M210.5 227.1h0M169.8 283.2h0M217.4 153.3h0M190.5 274.3h0M208.7 377.6h0M232.8 365.2h0M198.4 281.7h0M202.3 262.7h0M169.5 320h0M229.1 339.9h0M235.9 327.7h0M232.9 306.4h0M214.1 308h0M194.9 252h0M232.1 404.2h0M262.2 421h0M180.1 309.3h0M174.1 357.1h0M193.6 330.3h0M211.4 226.6h0M210.5 295h0M182.1 306.4h0M194.8 343.7h0M216.4 290.7h0M196 206.3h0M168.4 270.4h0M201.5 317.2h0M195.3 381.2h0M363 207.8h0M276.7 313.6h0M195.5 432.9h0M192.3 230.7h0M253.6 393.3h0M195.4 239.7h0M171.1 321.1h0M251.1 239.5h0M199.9 259.2h0M199 283.2h0M194.4 231.3h0M325.1 399.6h0M170.3 345.6h0M205.7 296.7h0M220.2 252.9h0M160 348.4h0M177.2 329.5h0M178.7 332.6h0M248.2 433.7h0M225.1 408.9h0M238.6 393.5h0M166.1 338.3h0M199.5 173.8h0M262.4 196.7h0M217.9 335.4h0M268.7 259.2h0M171.1 264.7h0M243.4 305.8h0M167.5 360.5h0M208.5 236.9h0M223.8 332.5h0M195.2 363.6h0M204.6 194.3h0M269.7 258.6h0M225.4 379.5h0M286.3 270.5h0M201 344.6h0M245.7 259.2h0M283.7 366.8h0M266.2 297.1h0M215.4 382.3h0M165.2 287.9h0M252.3 197.6h0M236.1 325.6h0M171.2 478.9h0M218 273.3h0M227.8 335.5h0M186.6 363.2h0M226.5 326.4h0M188.5 311.8h0M246.1 384.3h0M212.4 398h0M200.9 256.1h0M251.6 233.4h0M201.5 277.5h0M285.3 395.4h0M223 366.7h0M245.3 340.6h0M198.3 266.4h0M270.2 238.3h0M216.5 238.5h0M260.5 216.9h0M238.5 299.7h0M261.2 416.3h0M201.3 371.1h0M202.5 266.7h0M196.4 272.5h0M172.5 307.8h0M166.2 226.5h0M243.8 251.3h0M270.8 240.1h0M177.3 236.7h0M201.6 291.1h0M195.4 343.3h0M231.9 461.5h0M214.9 355.1h0M202.3 263h0M189.2 346.2h0M247.8 387.2h0M188.2 265.6h0M176.1 365.6h0M194.5 352.5h0M191.5 300.1h0M173.4 311.1h0M230.8 263.5h0M214.7 219.4h0M261.5 369.9h0M203.4 362.5h0M206.4 395.6h0M184.1 206.6h0M226.8 351.8h0M219 341.5h0M227.5 383.5h0M242.1 368.1h0M167.4 285h0M184.8 404.8h0M208.4 345.6h0M252.3 188h0M245.2 348.7h0M241.9 329.8h0M204.1 279h0M165.1 290h0M198.5 400.4h0M232.6 399.6h0M239.5 338.8h0M179.8 351.2h0M249.3 408.4h0M256.6 390.1h0M230.9 387.3h0M172.1 286.4h0M254 228.9h0M209 187.6h0M322.8 218h0M220.6 297.6h0M225.8 211.4h0M212 215.3h0M202.2 180.9h0M247.3 336.7h0M173.1 337.8h0M192 346.5h0M208 245.4h0M211.3 298.7h0M209.4 331.5h0M237.1 309.4h0M254.2 362.6h0M236.8 242.7h0M267.3 246.9h0M224.8 239.2h0M177.2 211.2h0M184.8 271.7h0M208.7 202.4h0M197.1 283.5h0M184.2 295.9h0M215.1 388.5h0M241.1 253.2h0M175.5 392.3h0M229.6 359.6h0M231.7 215.5h0M220.6 278.4h0M179.2 267.3h0M214.2 362.4h0M187.4 219.3h0M172.7 262.2h0M172.3 341.4h0M209.2 313.9h0M219.1 362.2h0M223.2 388.5h0M170.2 331.2h0M208.1 281.3h0M173.5 229h0M229.9 267.8h0M213.8 377h0M189.8 316.6h0M229.2 281h0M214.3 176h0M168 302.8h0M185.6 327.5h0M165.5 275.7h0M268.8 195.8h0M165 345.9h0M147.2 269.7h0M199.4 458.2h0M225.7 197.3h0M228.1 185.8h0M232.6 367.5h0M224.8 353.3h0M258.3 353.8h0M164.1 346.6h0M242.9 388.9h0M215.8 264.5h0M186.2 308.2h0M242 370.5h0M185.6 328.2h0M191.9 285.6h0M192 319h0M316 386.1h0M193.1 366h0M221.8 329.3h0M251.4 381.8h0M165.7 330.6h0M220.8 408.7h0M174.8 330.4h0M205.4 324.6h0M221.2 166.6h0M178.7 314h0M175.1 331.9h0M195.7 328.7h0M170 339.4h0M233.8 397.3h0M173.8 340.9h0M166.5 326.1h0M193.8 325h0M200.5 290.7h0M193.6 396.5h0M203.7 362.8h0M210.9 244.3h0M220.2 388.9h0M236.2 188.3h0M188.6 312.6h0M261.9 336.1h0M176.9 386.5h0M232.5 192.9h0M252.1 397.7h0M166.5 313h0M205.5 246.2h0M205.4 225h0M204 210.9h0M163.9 321.2h0M172.9 319.2h0M198.8 308.3h0M213.5 374h0M198.6 234.6h0M156.6 302.5h0M180.4 304.2h0M189.1 352.7h0M168.6 289.7h0M227.2 397.4h0M236 386.8h0M182.9 357.5h0M260.2 244.1h0M212.4 378.3h0M233.7 295.8h0M195.1 361.3h0M190.6 358.9h0M218.1 418h0M183.8 295h0M185.4 373.6h0M166.2 222.2h0M260.4 367.3h0M184.5 365.1h0M168.9 329.9h0M189 299.7h0M222 296.2h0M177 323.6h0M223.5 333.6h0M182.4 416.8h0M207.8 315.2h0M178.2 299.2h0M212.8 278.4h0M231.8 241.2h0M205.8 360.6h0M196.2 257.4h0M181.5 257.4h0M193.3 239.6h0M182.9 259.7h0M205.2 317h0M217.6 345.4h0M228.2 454.5h0M200.4 268.3h0M224.6 343h0M246 356.2h0M198.5 380.2h0M160.2 283.3h0M252.5 204.6h0M186.9 352.8h0M212.9 368.6h0M183.3 302.6h0M222.9 390.8h0M180.7 273h0M213.2 319.5h0M195.6 219.7h0M223.5 353.7h0M222.1 384h0M196 216.3h0M179.8 310.6h0M220.2 329.9h0M201.4 368.3h0M217.3 276.1h0M217 356.7h0M199.1 261.8h0M201.8 292.9h0M235.8 367.1h0M269.4 364.6h0M168 321h0M236.8 369.2h0M249.8 416.5h0M172.2 401.8h0M207.1 315.1h0M198.7 306.2h0M206.9 373.2h0M197.5 343.9h0M208.9 336.2h0M189.6 339.7h0M186.3 313.3h0M183.7 361.4h0M224.4 203h0"/>
<path stroke="#463cde" d="M178.8 348.1h0M245.7 353.3h0M191 317.9h0M249.2 211.9h0M261.3 211.4h0M205.6 330.8h0M253.6 273.7h0M183.7 251.8h0M264.7 404.4h0M247.8 251.2h0M246.1 378.4h0M236.6 280.8h0M220.2 183.6h0M245 314.2h0M221.6 304.8h0M209.1 300.3h0M256.6 213.7h0M197.8 387.8h0M220.5 187.8h0M201.5 372.4h0M231.1 254h0M211.2 214.3h0M197 325.4h0M228.4 231.2h0M190.5 319.3h0M204.4 365.1h0M228.3 286.1h0M191.5 352.3h0M205 341.9h0M293.6 295.7h0M202.3 371.2h0M218.6 318.5h0M196.9 315.5h0M181.6 311.5h0M221.9 349.8h0M211.7 246h0M209.9 358.6h0M169.3 322h0M234.2 228.4h0M278.4 351.9h0M193.6 346.6h0M191.8 302h0M215.2 401.3h0M219.5 225.6h0M206.8 241.2h0M205.4 176.1h0M225.2 375.9h0M238.6 358.5h0M279.4 398h0M212.4 364h0M241.6 418.9h0M213.2 373h0M167.3 284.5h0M258.4 236.9h0M241.6 363.7h0M232.2 172.5h0M295.7 369.7h0M185.1 382.2h0M210.2 387.6h0M196.4 321.4h0M180.7 320.3h0M192 250.7h0M228 392.4h0M231.2 276.6h0M206.2 398.6h0M254.9 277.1h0M210.8 265.4h0M245 368.4h0M227.5 261.8h0M236.7 201.2h0M269.1 267.5h0M224.6 233.3h0M174.1 236.1h0M211 262.1h0M245.5 279.5h0M195.5 314.6h0M212.6 290.1h0M217.8 375.3h0M217.8 300.6h0M194.5 276.1h0M214.5 314.7h0M237.9 354.2h0M167.8 337.2h0M219.7 376.6h0M266.8 217.6h0M203.1 261.3h0M227.7 309.9h0M249.7 285.6h0M243.6 359.6h0M196.1 235.3h0M196 347.9h0M187.8 252.3h0M216.7 323h0M188.1 272.9h0M279.8 209.6h0M191.3 449.4h0M175.9 297.1h0M205.8 223h0M155.7 284.9h0M225 222.2h0M193.1 229h0M199.9 313.2h0M246 275.8h0M223.2 283.7h0M305.8 347.1h0M184.8 280.7h0M154.8 261.2h0M186.1 334.1h0M209.1 239.2h0M227.1 369.6h0M244 407h0M178.7 250.3h0M203.9 284.9h0M228.3 309.8h0M207.8 289.1h0M283.5 219.6h0M196 254.1h0M227.5 370.7h0M184.1 355.6h0M205.4 239.1h0M221.5 335.2h0M205.1 271.8h0M221.2 210.8h0M181.9 283.5h0M221.2 392.1h0M169.5 302.9h0M251.4 228.7h0M212.5 323.8h0M229.2 240.7h0M235.6 339.4h0M201.7 234.7h0M193.9 334.7h0M185 371.5h0M239.4 267.2h0M201.3 321.3h0M216.4 369.4h0M222.5 383.1h0M221.3 225.2h0M178.4 325.7h0M192.9 290.2h0M257.1 230.3h0M199 348.8h0M239.8 366.5h0M220.8 277.3h0M228.6 220.7h0M217.6 263.4h0M181.3 243.6h0M181.3 252.5h0M244.1 237.1h0M197.4 284.3h0M228.9 232.5h0M201.8 285.5h0M228.8 321.7h0M187.3 255.2h0M227.1 206.3h0M218.4 299.3h0M241.4 350.8h0M305.3 355.2h0M227.6 222.9h0M206.9 254.5h0M300.2 276.8h0M218.8 225h0M251.9 241h0M259.5 336.5h0M242.9 396.9h0M235.7 332.8h0M196.7 293.2h0M218.7 229h0M202.1 382.9h0M202.2 246.8h0M244.6 279.6h0M187.1 306.2h0M252.1 388.2h0M224.6 282.5h0M246.6 409.6h0M230 331h0M209.3 244.1h0M236.5 203.4h0M190.6 233.3h0M209.3 262.5h0M200.9 479h0M180.8 294.2h0M232.4 309.3h0M162.2 284.2h0M197.1 351.1h0M287.7 413.9h0M224.6 320h0M227.7 303h0M209.4 386.7h0M191.2 364.9h0M198.3 279.6h0M213.8 283.7h0M228.4 308.5h0M191 345.4h0M245.7 355.9h0M386.6 195.2h0M237 267.7h0M218.3 322.6h0M253.6 303h0M230.3 404.2h0M256.4 246.6h0M274.3 426.2h0M172.4 392.5h0M247.1 356.8h0M277.5 353.4h0M216.3 303.6h0M172.7 337.8h0M233.2 307.8h0M187.2 313h0M205 377.5h0M209.1 321.5h0M226.3 322.2h0M190.9 332.3h0M248.2 250.6h0M171.6 249.8h0M247.7 217.5h0M196 317.4h0M181 288.6h0M180.7 240.3h0M169.5 292.8h0M210.6 357.6h0M223.5 378.1h0M189.8 264.8h0M241.2 203.6h0M190.8 216.2h0M263.8 281h0M179.2 285.7h0M220.7 340.8h0M228.2 412.5h0M249.5 226.7h0M218.3 315.9h0M179.5 254h0M205.4 285h0M219.1 360.4h0M196.3 380.2h0M218.3 378h0M174.3 331.3h0M237.7 290.6h0M240.3 337.9h0M256.9 348.6h0M243.1 330.1h0M218.1 317.5h0M215.6 333.9h0M215 393.6h0M192.9 267.1h0M191.9 221.2h0M267.6 307.8h0M248.3 346.1h0M165.6 328.8h0M234.5 272.6h0M178.7 365.7h0M213.7 313.6h0M181 262.6h0M205.2 402h0M282.6 216.5h0M281.8 224.5h0M250.1 345.9h0M175.7 218.1h0M243.5 244.5h0M213.2 281h0M210.3 330.1h0M189.3 281.2h0M299.3 387.9h0M224.7 283.7h0M208.9 250.8h0M190.7 333.5h0M231.2 357.5h0M242.6 235.8h0M192.4 277.7h0M166.2 304.8h0M171.8 329.6h0M248.1 305.6h0M188.7 305.1h0M212 385.5h0M251.1 398.1h0M223.5 389h0M250.5 277.1h0M210.3 315.6h0M192.5 322.7h0M237.7 239.8h0M200.2 348.7h0M268.3 377.8h0M186.5 233.2h0M220 397.6h0M207.9 281.2h0M190.2 348.8h0"/>
<path stroke="#4741e5" d="M190.4 302.6h0M225.7 283.5h0M217.4 268.4h0M244.7 288.5h0M215.9 306.4h0M247.6 353h0M191 299.8h0M234.4 293.3h0M214.9 380.3h0M210.4 334.1h0M194.8 254.4h0M267.3 210.8h0M262.1 237.6h0M222.2 294.2h0M199.3 332.7h0M207.6 261.9h0M176.6 283.7h0M189 278.8h0M226.5 194.6h0M253.5 303.6h0M243.9 375.6h0M246.3 248.3h0M231.4 326.8h0M244 336.7h0M253.9 253.5h0M197.5 334.4h0M261.9 348.4h0M267.4 289.6h0M220 280.8h0M195.7 315.8h0M255.2 357.9h0M232.3 353.5h0M215.9 259h0M265.3 334.5h0M219.3 245.4h0M266.3 246.9h0M209.2 363.4h0M192.5 355.6h0M236.3 370.9h0M232.9 317.3h0M234.3 314.6h0M295.8 196.9h0M222.6 310.9h0M226 366.4h0M234 281.7h0M227 312.9h0M203.8 416.7h0M199.3 266.5h0M252.5 248.7h0M312.8 375.1h0M233.5 303.4h0M205.6 343.3h0M203.9 285.8h0M195.4 319.6h0M215.7 351h0M224.1 307.4h0M260.3 178.1h0M221 226.2h0M182.3 321.9h0M327.7 356.9h0M270.7 376.6h0M238.6 285.9h0M207.6 296.1h0M245.3 238.5h0M258.8 316.1h0M243.3 310.1h0M238.1 317.8h0M322.6 217h0M180.1 250.9h0M236.6 357.8h0M183.4 295.4h0M243.9 364.5h0M214.1 230.8h0M215.9 295.3h0M226.7 290.1h0M196.9 323.5h0M274.2 234.1h0M206.7 271.9h0M215 349.9h0M188.3 277.5h0M189.7 289.7h0M226.3 327.6h0M272.3 319.2h0M173.5 350.2h0M214.8 307.2h0M271.2 264.4h0M311.1 368h0M198.7 349.5h0M171 292.1h0M287.1 286.4h0M237.7 370h0M196.9 388.9h0M210.5 310.8h0M171.7 370h0M213.4 259.9h0M216.6 254.2h0M240.7 225.4h0M235.7 380.2h0M191.7 237.1h0M200 297.3h0M208.5 248.1h0M187.1 274.2h0M234 330.7h0M188.3 285.7h0M185.5 267.7h0M240.9 234.3h0M192.5 254.4h0M213.1 321.3h0M220.5 246.8h0M225.3 369.3h0M186.3 276h0M177.4 322.6h0M262.4 266.6h0M227.3 319.8h0M252.5 216.2h0M267.7 254.3h0M207.6 261.4h0M180.8 325.1h0M243.1 393h0M212.9 325.8h0M224.3 290.2h0M166.2 303.9h0M219.3 387h0M221.2 320.6h0M199.2 288h0M215.6 283.5h0M235.5 324.7h0M232.5 393.1h0M262.1 194.6h0M251.1 254.6h0M209.8 396.8h0M253.8 379.6h0M210.6 342.8h0M229.1 241.7h0M209.7 243.4h0M253.9 233.2h0M177.7 227.6h0M250.9 318.3h0M272.6 277.9h0M201 338.8h0M224.2 360.2h0M218.9 381.2h0M176.5 229h0M248.6 348.1h0M272.8 268.7h0M201.4 313.6h0M179.5 363h0M238.1 376.7h0M206.6 333.2h0M207.3 229.1h0M185.9 266.2h0M190 251.4h0M186.7 317.7h0M231 222.1h0M198.8 353.5h0M223.2 356.3h0M226.1 330.7h0M252.4 270.8h0M230.4 357.4h0M243.5 241.3h0M237.9 204.1h0M171.4 310.2h0M192.8 295h0M271.3 185.6h0M249.2 369.2h0M200.7 309h0M226.6 363.1h0M197.7 277.7h0M208.1 389.2h0M209.4 274.7h0M251.4 330.6h0M302.1 427h0M211.3 220.1h0M175.4 328.6h0M291.1 364.4h0M250.3 204.7h0M178.3 354.3h0M238.7 216.9h0M241.9 321h0M197.5 345.7h0M226.7 313.4h0M268.2 407.3h0M182.8 296.9h0M288.2 232.8h0M190.4 372.9h0M180.8 212.9h0M206.8 336.3h0M207 211.7h0M251.5 309.7h0M206.6 323h0M237.5 265.2h0M246.7 280.3h0M207 262.5h0M221.1 315.3h0M209.7 298.3h0M275 341.5h0M239.2 306.6h0M251.9 343.1h0M158.4 251.8h0M201.7 321.6h0M260 375.8h0M235.6 248.7h0M180.2 302.4h0M221.7 371.6h0M216.5 313.3h0M199.7 245.7h0M203.7 294.2h0M237.1 256.8h0M215.2 320.1h0M202.9 296.7h0M232.7 299.1h0M212.4 247.4h0M218.6 312.6h0M185.4 320.1h0M247.1 411.1h0M373.6 331.8h0"/>
<path stroke="#4747eb" d="M176.2 338.7h0M285.9 275.4h0M262 375.7h0M242.6 222.8h0M209.3 339.5h0M200.9 284.6h0M211.1 335.5h0M172.5 275.5h0M180.1 316.1h0M249.7 241.8h0M198.3 317h0M246.7 326.8h0M224 302.2h0M199.6 284h0M219.2 313.5h0M224.4 210.3h0M205.7 323.6h0M239.4 302.4h0M181.2 251.2h0M230.2 248.5h0M205 294.9h0M274.5 314.9h0M217 271.2h0M255.8 313.6h0M249.1 247.2h0M191.7 268.1h0M206.3 291.2h0M269.6 295.1h0M183.3 309.3h0M275.2 371.4h0M245 293.1h0M214.7 222.9h0M198.4 298.4h0M249 300.3h0M201.1 335.2h0M211.3 394.2h0M291.8 311.5h0M221 369.6h0M264.2 216.3h0M238.8 239.3h0M252.9 310h0M228.4 367.6h0M222.5 268h0M264.3 360.6h0M315.4 362.6h0M172.9 344.3h0M218.7 317.7h0M244.7 237.5h0M201.6 327.6h0M214.9 296.5h0M237.4 332h0M269.9 379.9h0M217.1 296.7h0M209 353.4h0M229.8 281.7h0M321 218.9h0M207.9 362.7h0M229 287.9h0M241.9 352.7h0M175.3 241.1h0M229.9 314.9h0M239.9 358.5h0M294.9 224.9h0M271.8 354.9h0M247.5 236.5h0M189.6 249.2h0M198.5 277.9h0M229.3 270.2h0M266.8 211.9h0M212.3 271.2h0M239.2 367.9h0M231.5 257h0M192.8 314.9h0M299.4 274.6h0M217.9 312.6h0M222 360.9h0M191 231.9h0M205.5 270.7h0M237.5 295.1h0M241 342h0M271.7 224.5h0M248.9 296.8h0M264.4 292h0M251.8 346.3h0M246.8 309.7h0M241.3 326.2h0M214.8 272h0M259.4 367.7h0M266.6 291.2h0M146.4 281h0M181.6 286.7h0M251.4 371.3h0M259.4 252.2h0M240.7 324.8h0M227.3 187h0M214 248h0M217.1 260.7h0M231.5 414.8h0M254.3 212.4h0M164.4 226.3h0M173.9 246.1h0M206.5 416.6h0M206.4 324.9h0M221.6 316.7h0M217 372.3h0M232 239.4h0M225.7 288h0M254.1 304.1h0M178.9 326.1h0M261.6 331.4h0M292.8 396.5h0M263.5 375.5h0M181.2 337.1h0M220.3 304.4h0M208.4 230.7h0M177.9 253.2h0M207.8 373.8h0M189 267.9h0M214.4 388.2h0M213 357.6h0M269 387.3h0M223.6 350h0M244.5 355.9h0M276.7 332.7h0M274.3 352.2h0M196.8 367.1h0M175.3 299.4h0M346.9 244.7h0M276.9 357h0M211.1 327.2h0M277.9 199.1h0M231.2 268.1h0M175.2 278.9h0M204.7 210.7h0M222.8 395.6h0M239.6 197.4h0M204.5 334.7h0M240.1 285.8h0M220.5 358.1h0M244.7 270.3h0M234.2 395.9h0M254 371.4h0M262.2 359.5h0M302.5 361.7h0M219.3 380.7h0M266.1 350.8h0M260.8 345.7h0M267.4 373.5h0M241.3 325.6h0M256.1 359.9h0M288.6 296.2h0M226.4 414.7h0M245.1 387.8h0M200.1 301.4h0M181.7 336h0M232.6 360.1h0M242.8 337.9h0M195.1 264.8h0M204.7 349.7h0M204.2 307.5h0M221.3 333.9h0M194.5 274.2h0"/>
<path stroke="#484df0" d="M226.8 273h0M276.2 415.1h0M280.7 338.6h0M232.5 350h0M236.1 291.9h0M197.2 232.4h0M277.4 403.5h0M223.6 276.2h0M237.7 273.4h0M271.9 274h0M189.4 296.3h0M210.1 324.6h0M251.2 350h0M219.6 281.3h0M195.8 254.9h0M260.7 287.4h0M258.9 261.6h0M274.8 327.3h0M199.5 310.8h0M189.5 341.6h0M296 379.3h0M251.3 299.3h0M231.2 298.8h0M263.6 336.4h0M207.9 283.6h0M252.8 268.8h0M236.3 332.3h0M207.9 274.1h0M214.1 284.5h0M229.1 343.1h0M202.6 326h0M202 318h0M272 330.4h0M204.4 324.5h0M216.7 317.1h0M249.5 370.2h0M179.2 273.9h0M273.4 326.8h0M202.8 340.9h0M190.4 305.9h0M200.8 328.2h0M229.3 352.8h0M202.3 375.8h0M217.6 365.9h0M226.1 365.6h0M221.6 378.3h0M249.6 301.2h0M236.8 359.3h0M254.5 279.9h0M211.9 364.3h0M262.5 302.7h0M298.1 311.6h0M217.6 207.3h0M189.3 274.3h0M192.5 301.7h0M209.8 274.3h0M206.1 241.9h0M207.3 280.8h0M199.7 219.4h0M239.1 318.6h0M213.2 246.8h0M200.3 317.9h0M213.8 279h0M232.8 333.1h0M225.3 251.5h0M201.2 235h0M215.9 303.9h0M222.2 277.4h0M236.5 349.4h0M226.7 257.7h0M257.5 245.6h0M187 302.4h0M206 274.5h0M211 271.5h0M197.5 306.9h0M219.4 349.4h0M295.4 346.5h0M190.1 295.8h0M196.4 304.3h0M246.4 227.8h0M279.9 331.6h0M196.8 369.9h0M294.5 333.2h0M211.4 296.1h0M252.5 317.9h0M233.5 330.8h0M232 299.9h0M215.3 237.7h0M248.7 209.6h0M254.8 369.3h0M211.4 277.9h0M211.6 348.3h0M227.8 343.5h0M207.2 256.1h0M199.4 293.5h0M255.6 380h0M216.3 225.4h0M339.3 197.3h0M192.6 332.7h0M223.5 408.7h0M300.2 368.3h0M254.2 368.1h0M195.5 314.8h0M264 322.5h0M234.4 277.4h0M198.4 240.2h0M211.4 380.1h0M274.4 261.1h0M240.3 347.5h0M215.7 359.3h0M234.6 292.5h0M192 241.1h0M232.2 287.6h0M237.8 345.6h0M221.4 326.9h0M273.3 272.5h0M203.2 320.9h0M185.2 348.6h0M223.7 340h0M208 274.1h0M200.3 311.7h0M221 337.5h0M243.2 300.1h0M269.3 205.1h0M203.1 242.8h0M249.1 369.6h0M227.4 310.4h0M229.3 273.8h0M261.2 281.5h0M237.1 234.6h0M217.1 336.7h0M241.2 282h0M189.5 332.3h0M258.3 369.3h0M208.2 286.1h0M192.5 262h0M195.4 284.2h0M227.2 244.3h0M266.1 210.3h0M280.7 225.5h0M259.4 263.8h0M215.8 361.4h0M208.8 282.1h0M219.5 309.6h0M242.7 374.7h0M188.4 333.5h0M207.6 320.4h0M291.8 200.9h0M318.8 217.5h0M221.1 363h0M241.4 360.7h0M246.7 328.5h0M242.2 272.2h0M195 256.7h0M331.4 287.2h0M221.7 293.4h0M226.5 390.2h0M218.1 277.4h0M220.7 308.6h0M207.6 316.9h0M216.7 363.7h0M207.6 305.4h0M242.3 282.5h0M214.3 341.3h0M235 304.3h0M198.3 320.1h0M156.8 295h0M245.5 354.6h0M254.8 282.7h0M171.8 232.4h0M198.1 244.8h0M240.2 339.2h0M287.9 377.2h0M233.1 369h0M215.1 260.9h0M236.4 329.2h0M208.6 318.8h0M264.4 376.6h0M178.2 321.4h0M222.4 294h0M303.4 219.4h0M215.6 289.8h0M241 287h0M253.7 315.5h0M194.7 314.4h0M291.1 368.9h0M284.1 363.2h0M238.8 332.2h0M217.3 349.3h0M228.3 363.8h0M233.9 365.9h0M198.7 250.4h0M231.9 251.6h0M276.9 259.5h0M224.3 203.6h0M180.2 330.6h0M215.7 311.5h0M214.4 356.8h0M160.8 321.3h0M235.9 365.7h0M267.8 324h0M213.8 244.9h0M250.2 341.6h0M200.7 281h0M185.1 330.4h0M207.1 290h0M218.3 299.7h0M251.4 315.3h0M236.3 277.6h0M274.3 377.9h0M246.5 361.4h0M257.3 206.6h0M280.7 324.5h0M238.6 283h0M223.8 270.4h0M162.6 267.8h0M271.4 183.9h0M215.1 309h0M174.7 284.7h0M205.4 326.1h0M220.9 262.5h0"/>
<path stroke="#4758f8" d="M240.5 311.5h0M225.2 314.6h0M226.4 318h0M201.1 339.9h0M265.2 253.3h0M220 362.3h0M205 329.3h0M227.6 251.7h0M260.7 264.6h0M245.9 305h0M191.5 333h0M179.4 299.6h0M229.2 232.7h0M241.1 245.1h0M226.7 233.7h0M245 330.9h0M257.8 258.7h0M267.8 267.7h0M237.8 260.3h0M210.8 234.3h0M190.1 312h0M180 349h0M240.3 255.8h0M194.3 322.9h0M208.2 279.2h0M346.1 353.9h0M199.8 343.2h0M186.8 336.6h0M228.3 292.3h0M323 400.8h0M205.4 309.4h0M261.2 278.1h0M184.4 292h0M241.5 270.5h0M220.7 240.7h0M192.7 247.1h0M234 323.7h0M224.7 217.8h0M242.7 264.4h0M236.5 217.5h0M248 338.2h0M210.8 325h0M188.1 260.3h0M260.1 344.6h0M218.3 297.3h0M226.4 328.1h0M328.2 373.2h0M216.5 272.9h0M269.2 323.6h0M197.6 286.2h0M223.3 282.4h0M302.4 370.7h0M201.4 290.9h0M257.7 293.5h0M226.8 277.8h0M273.2 349h0M189.4 356.9h0M232 331.6h0M222.8 291.9h0M230 252.9h0M212.5 265.1h0M308.5 187.9h0M217.8 281h0M246.3 306.7h0M247.2 313.7h0M258.6 349.8h0"/>
<path stroke="#4563fd" d="M265.1 276.2h0M252.6 270.9h0M249 405.2h0M198.7 259.9h0M247.8 300.1h0M259.8 364.9h0M235.2 276.5h0M260.8 273.7h0M211.2 288.9h0M205.9 257h0M282.7 306h0M183.6 318.5h0M233.1 372.4h0M273.7 259.2h0M228.8 350.3h0M199.1 302.3h0M245.4 332.6h0M292.2 383.2h0M204.5 364.7h0M200.6 295.2h0M341.7 322.4h0M242.8 294.6h0M239.7 261.8h0M243.2 393.3h0M259.3 301.8h0M203.4 294.1h0M213.4 227.2h0M266.2 338.4h0M176.9 301.9h0M268.4 318.5h0M234.2 352.1h0M301.2 339.9h0M246.5 272.2h0M209.2 202.8h0M249.8 362h0M179.7 291.2h0M211.4 280.7h0M257 343.7h0M205.2 347.3h0M213.1 286.2h0M236.3 294.9h0M215.7 336.1h0M196.9 247.1h0M251 325.8h0M284 293.3h0M215.1 310.7h0M262 325.7h0M280 229h0M277.6 350.4h0M212.9 284.2h0M210.3 239.4h0M245.3 338.2h0M231 286h0M249.1 265.7h0M222.1 270.3h0M214.2 195.7h0M199.7 253.3h0M218.8 343.7h0M223 337h0M187.5 255.9h0M287.8 241.5h0M237.1 337.2h0M223.3 332.4h0M245.2 312.4h0M284.3 249.1h0M195.5 299.8h0M247.2 292.2h0M246 329.8h0M196.3 253.2h0M271.5 331.2h0M264 236.2h0M213.4 281.6h0M209.3 275.3h0M228.8 282.2h0M216.5 318.5h0M220.7 273.3h0M264.9 356.2h0M204.3 292.8h0M229.4 341.6h0M256.8 378.7h0M260.6 293.9h0M236.7 364.1h0M291.8 288.7h0M233.3 259.6h0M245.2 348.6h0M195.1 263h0M280.1 347.7h0M267.3 352.1h0M247.8 380.6h0M193.4 310.3h0M198.7 288.6h0M229.6 311.2h0M191.6 225.8h0M230.4 266.4h0M253.8 335.8h0M222.7 271.6h0M262.9 362.5h0M223.4 379.9h0M243.6 206.9h0M196.3 349.6h0M219 340.9h0M229.4 296.1h0M223.5 249h0M222.5 315.2h0M321.4 217h0M236.6 317.2h0M217.9 271.7h0M337.3 251.4h0M230.8 356.3h0M215.3 293.7h0M310.4 210.8h0M243.1 259.8h0M241.9 294.2h0M235.8 247.9h0M228.3 292.1h0M215.9 359.7h0M262.7 378h0M210.5 253h0M249.7 205.4h0M281.4 313.1h0M210.3 328.2h0M245.2 311h0M197.5 330.7h0M219.8 322.4h0M230.7 266.8h0M245.1 301.7h0M235.8 328.7h0M255.8 371.9h0M213.2 288.7h0M354 366.9h0M273.3 289.2h0M197 323.8h0M285.1 313.8h0M216.7 330h0M268.7 251.5h0M335.4 204.1h0M268.5 346.6h0M227.4 278.7h0M234.9 370.7h0M222.4 313.7h0M249.6 301h0M205 351.2h0M258.9 219.7h0M247.2 349.5h0M240.7 361.9h0"/>
<path stroke="#3e6fff" d="M178.8 260.7h0M251 293.5h0M238.7 355.1h0M235 314.3h0M288.1 326.9h0M279.5 244h0M220.3 319.6h0M262.5 291.1h0M199.2 309.7h0M313.2 350.3h0M215.8 347h0M225.5 304.7h0M207.5 310.9h0M232.7 353.5h0M240.6 330.9h0M257.3 298.2h0M249.3 319.2h0M251.9 290h0M230.5 308.3h0M261.5 352.1h0M239.7 295.8h0M265.5 335.6h0M244.5 337.6h0"/>
<path stroke="#327cfc" d="M257.3 295h0M216.5 360.1h0M247.1 276.6h0M280.3 302.3h0M236 303.4h0M243 342.2h0M288.4 369.5h0M223.9 291.5h0M199.7 362.2h0M320.4 303.4h0M228 383.2h0M204.7 280.3h0M202 269.6h0M277.6 226.4h0M216.6 297.5h0M207.4 300.3h0M263.8 353.3h0M233.3 353.8h0M238.4 328.2h0M184.7 279.5h0M262.6 343.6h0M242.8 230.1h0M223.4 254.6h0M262.1 283.4h0M252.7 337.7h0M250.1 317.4h0M268.7 357.5h0M230.6 252h0M228.3 379.6h0M261.6 293.7h0M232 303.3h0M207.8 294.2h0M214.4 279.8h0M255.7 352.3h0M206.7 260.2h0M205.5 313.3h0M303.2 356h0M326.2 189.4h0M207 284.1h0M247.5 302h0M228 244.9h0M208.3 309.5h0M243.2 355.4h0M236.9 353.8h0M303 276.1h0M242.2 246h0M251.9 321.9h0M268.5 215.3h0M299.9 295.3h0M244 257.6h0M307.3 227.2h0M263.1 346.8h0M291.4 318.6h0M204.4 314.3h0M251.3 272.3h0M239.4 355.5h0M253.6 312.6h0M227.6 312.9h0M254.8 255.2h0M239 393.8h0M231.5 324.1h0M261.8 205.8h0M255.5 300.8h0M175.8 272.5h0M246.5 230.8h0M213.4 319h0M251.2 315.3h0M292.5 299.8h0M216.1 384.3h0M272.7 197.6h0M254 269.2h0M278.5 214h0M211.7 379.1h0M273.5 262.5h0M266.6 222.4h0M272.3 302.5h0"/>
<path stroke="#2e87f7" d="M308.8 377.9h0M230.6 276.7h0M234.1 234h0M233.2 260.3h0M326.1 260.9h0M224.7 256.5h0M222.3 289.3h0M224 301.4h0M203.3 309.1h0M286.2 311.9h0M346.2 303.8h0M196.9 345.1h0M302.8 307.7h0M201.5 309.3h0M199.6 284.3h0M251.7 233.9h0M199.5 295.9h0M238.3 266.5h0M265.8 330.6h0M256.2 283.9h0M189.4 342.1h0M221.7 273.9h0M215.6 259.9h0"/>
<path stroke="#2b91ef" d="M239.2 303.1h0M202.1 316.7h0M234.9 332.6h0M221.7 323.5h0M245.2 284.1h0M318.2 313.4h0M236.9 310.4h0M261.7 269.9h0M226.9 348.3h0M259.6 335.6h0M328.2 323.3h0M222 356.7h0M227.6 327.2h0M276.5 310.2h0M282.1 344.7h0M275 282h0M260.8 344.5h0M286.4 343h0M235.6 327.7h0M266.4 324.6h0M224 323.8h0M219.4 334.5h0M233.6 358.1h0M277.9 369h0M270.9 267.5h0M237.6 351.3h0M241.1 302h0M231.7 303.1h0M217 306.8h0M232.5 361.6h0M258.3 350.7h0M284.1 229.6h0M281.4 308.5h0M206.9 287.1h0M248.2 239.5h0M229.1 301h0M297.5 275.1h0M282.4 226.2h0M270.2 342.5h0M226.4 351.9h0M290.6 322.6h0M225.8 327.1h0M272.1 291.1h0M270.9 320.7h0M193.1 286.9h0M233 307.2h0M229.5 225.8h0M208.8 300.4h0M245.6 342.9h0M292.1 334.3h0M240.8 346.2h0M293.5 247h0"/>
<path stroke="#259be8" d="M208 310.1h0M234.8 324.6h0M256.8 312.4h0M202 291.7h0M263 268.3h0M225.8 303.7h0M260.1 366h0M216.2 226h0M216.7 242.2h0M288.9 262.2h0M288.8 254.5h0"/>
<path stroke="#20a5e3" d="M277.2 343h0M248 273.9h0M280.3 260.8h0M256.3 276.8h0M295.7 302.5h0M261.2 352.5h0M281.1 305.6h0M268.4 222h0M288.3 351.9h0M215.4 262.5h0M268 301.2h0M247.2 309.1h0M226.7 265.3h0M257.7 302.5h0M262.7 370.4h0M368.2 238.3h0M251 334.9h0M256 388.9h0M259.3 318.1h0M245.4 356.5h0M261.5 259.4h0M218.7 332.7h0M215.2 322h0M263.7 337.1h0M280.1 303.9h0"/>
<path stroke="#18addb" d="M218.2 245.3h0M237.9 294.4h0M265.4 338.9h0"/>
<path stroke="#08b5d0" d="M216.9 290.9h0M261.7 350.7h0M274.8 302.8h0M271.8 294.2h0M278.3 387.9h0M291.8 245h0M267 374.7h0M252.2 330.3h0M239 246.7h0M218.3 294.5h0M280.3 323.9h0M229.4 341.1h0M216.9 319.6h0M266.5 245.7h0"/>
<path stroke="#02bac3" d="M233.6 330.9h0M240.4 344.1h0"/>
<path stroke="#19bfb6" d="M260.2 321.2h0M265.7 308.2h0M263.6 342.3h0M267.3 266.3h0M271.8 300.3h0M294.6 316.1h0M313 284.4h0M257.5 296.8h0M274.7 257.4h0M283 300.3h0M262.1 326.9h0"/>
<path stroke="#2cc4a7" d="M292.7 249.7h0M239.5 304.1h0"/>
<path stroke="#37c897" d="M225.7 327.8h0M365.8 323.8h0M213.1 278.7h0M284.2 353.3h0M270 303h0M308.4 285.9h0M240.6 267.8h0M231.1 336.3h0M336.7 219.9h0M253.8 352.5h0M284.7 340.7h0"/>
<path stroke="#4acb84" d="M232.8 250.1h0M237.3 259.9h0M302.6 310.6h0"/>
<path stroke="#64cd6f" d="M264.8 278.8h0M284.4 320.6h0M309.8 302.9h0M276.4 238h0M253.4 323.9h0"/>
<path stroke="#81cc59" d="M236.5 370.5h0"/>
<path stroke="#9dc943" d="M266.7 343.4h0M245.6 316.7h0M279.1 253.3h0M335.6 255.4h0"/>
<path stroke="#b9c431" d="M307.1 265.4h0M241.9 253.5h0M247.1 285h0"/>
<path stroke="#d1bf27" d="M246.9 341h0M282.4 329.2h0M233.3 336.2h0"/>
<path stroke="#e6bb2d" d="M271.4 329.3h0"/>
<path stroke="#f8ba3d" d="M239.7 332.8h0M246.8 302.6h0M291.7 335.5h0M271.3 294.7h0M304.3 285.2h0"/>
<path stroke="#fec338" d="M289.3 305.8h0M233.4 328.3h0"/>
<path stroke="#fccf30" d="M272.6 321h0"/>
<path stroke="#f7dc2a" d="M344.6 322.9h0M347.2 315.7h0"/>
<path stroke="#f9fb15" d="M251.8 306.9h0M290.4 302.6h0M281.1 309.1h0M247.9 338h0M285.8 279.8h0"/>
</g>
<g stroke="#2c2c2c" stroke-width="1" fill="none"><path d="M162.2 479.3v-3.2"/><path d="M199.3 479.3v-3.2"/><path d="M236.4 479.3v-3.2"/><path d="M273.6 479.3v-3.2"/><path d="M310.8 479.3v-3.2"/><path d="M347.9 479.3v-3.2"/><path d="M385.1 479.3v-3.2"/><path d="M422.2 479.3v-3.2"/><path d="M459.3 479.3v-3.2"/></g>
<!-- colour bar -->
<rect x="475.3" y="139.0" width="20.69999999999999" height="340.4" fill="url(#pg)" stroke="#1c1a1a" stroke-width="1.5"/>
<g stroke="#1c1a1a" stroke-width="1.4" fill="none"><path d="M491.5 445.4H496.0"/><path d="M491.5 411.3H496.0"/><path d="M491.5 377.3H496.0"/><path d="M491.5 343.2H496.0"/><path d="M491.5 309.2H496.0"/><path d="M491.5 275.2H496.0"/><path d="M491.5 241.1H496.0"/><path d="M491.5 207.1H496.0"/><path d="M491.5 173.0H496.0"/></g>
<!-- panel b: schematic -->
<g fill="none" stroke-linecap="butt">
<!-- axes -->
<path d="M868.2 150V459.6" stroke="#231f20" stroke-width="4"/>
<path d="M866.2 457.6H1178" stroke="#231f20" stroke-width="4"/>
<path d="M868.3 134.1C871.2 140.3 874.8 146.7 878.9 152.9C874.9 151.1 871.3 149.1 868.3 148.9C865.3 149.1 861.7 151.1 857.7 152.9C861.8 146.7 865.4 140.3 868.3 134.1Z" fill="#231f20"/>
<path d="M1192.1 457.6C1186.0 460.4 1179.8 463.8 1173.7 467.7C1175.5 463.9 1177.5 460.4 1177.7 457.6C1177.5 454.8 1175.5 451.3 1173.7 447.5C1179.8 451.4 1186.0 454.8 1192.1 457.6Z" fill="#231f20"/>
<!-- dashed guides -->
<g stroke="#231f20" stroke-width="2.9" stroke-dasharray="5.5 2.56">
<path d="M848 452.4L895.2 209.7"/>
<path d="M989.4 227.8L918.2 213.6"/>
<path d="M989.4 227.8L1009.4 446"/>
</g>
<path d="M917.6 214L938.2 451" stroke="#009444" stroke-width="2.9" stroke-dasharray="5.5 2.56"/>
<!-- T bars -->
<path d="M884.1 207.5L906.3 211.9" stroke="#231f20" stroke-width="3.8"/>
<path d="M837.3 450.1L858.8 454.7" stroke="#231f20" stroke-width="3.8"/>
<!-- 0 avg -->
<path d="M869.5 458.8L925.4 171.5" stroke="#009444" stroke-width="7"/>
<path d="M929.0 149.3C931.7 159.0 935.2 169.2 939.5 179.2C934.0 176.0 929.1 172.5 924.7 171.5C920.3 170.8 914.5 172.2 908.1 173.2C915.8 165.4 922.9 157.3 929.0 149.3Z" fill="#009444"/>
<!-- 90 avg -->
<path d="M868.8 457.4L1104 435.6" stroke="#92278f" stroke-width="6.8"/>
<path d="M1125.7 433.9C1116.8 439.0 1107.7 445.1 1098.9 451.8C1101.0 445.7 1103.6 440.3 1103.4 435.9C1102.8 431.7 1099.3 426.7 1096.1 421.1C1106.0 426.2 1116.0 430.5 1125.7 433.9Z" fill="#92278f"/>
<!-- single trial dot -->
<circle cx="989.4" cy="227.8" r="8" fill="#231f20"/>
<!-- projection brackets -->
<path d="M877.4 529.3L1016.7 516.9" stroke="#92278f" stroke-width="3.9" stroke-dasharray="5.8 2.4"/>
<path d="M879.6 551.6L942.7 545.9" stroke="#009444" stroke-width="3.9" stroke-dasharray="5.8 2.4"/>
<path d="M952.1 545.1L1018.8 539.8" stroke="#231f20" stroke-width="3.9" stroke-dasharray="5.8 2.4"/>
<path d="M874.1 515.4L876 537.9" stroke="#92278f" stroke-width="4.6"/>
<path d="M876 537.9L878.4 566.2" stroke="#009444" stroke-width="4.6"/>
<path d="M1016.7 502.3L1018.5 524.8" stroke="#92278f" stroke-width="4.6"/>
<path d="M1018.5 524.8L1020.8 553.5" stroke="#231f20" stroke-width="4.6"/>
<path d="M944.5 532.3L947 560.6" stroke="#009444" stroke-width="4.4"/>
<path d="M948.7 531.9L951.2 560.2" stroke="#231f20" stroke-width="4.4"/>
</g>
<!-- labels -->
<text x="-0.5" y="36.2" font-size="50" font-weight="bold" fill="#231f20">a</text>
<text x="699.2" y="36.2" font-size="50" font-weight="bold" fill="#231f20">b</text>
<text x="327.6" y="49" text-anchor="middle" fill="#231f20" font-size="33.3">Orientation Information for</text>
<text x="327.0" y="89" text-anchor="middle" fill="#231f20" font-size="33.3">‘Influence Mapping’ Gratings</text>
<text x="118.0" y="142.4" text-anchor="end" fill="#231f20" font-size="33.3">0.16</text>
<text x="118.3" y="313.2" text-anchor="end" fill="#231f20" font-size="33.3">0.04</text>
<text x="118.3" y="481.7" text-anchor="end" fill="#231f20" font-size="33.3">0.01</text>
<text x="128.3" y="511.1" text-anchor="middle" fill="#231f20" font-size="32.5">0</text>
<text x="283.0" y="511.1" text-anchor="middle" fill="#231f20" font-size="32.8">20</text>
<text x="430.5" y="511.1" text-anchor="middle" fill="#231f20" font-size="32.8">40</text>
<text x="291.5" y="554.4" text-anchor="middle" fill="#231f20" font-size="33.3">Drift Direction</text>
<text x="291.3" y="593.9" text-anchor="middle" fill="#231f20" font-size="33.3">Depth-of-Modulation</text>
<text transform="translate(36.2 471.0) rotate(-90)" font-size="33.1" word-spacing="1.1" fill="#231f20">Preferred SF (cyc/deg)</text>
<text x="498.2" y="147.8" text-anchor="start" fill="#231f20" font-size="32.0">2 bits</text>
<text x="499.6" y="314.8" text-anchor="start" fill="#231f20" font-size="32.2">1 bit</text>
<text x="498.2" y="489.4" text-anchor="start" fill="#231f20" font-size="32.0">0 bits</text>
<text x="786.1" y="125.5" text-anchor="middle" fill="#231f20" font-size="33.3">Neuron 2</text>
<text x="788.7" y="161.5" text-anchor="middle" fill="#231f20" font-size="33.3">activity</text>
<text x="928.0" y="142.6" text-anchor="start" fill="#009444" font-size="33.3">0<tspan dx="1.4">°</tspan><tspan dx="1.4"> avg</tspan></text>
<text x="1005.3" y="236.1" text-anchor="start" fill="#231f20" font-size="33.3">0<tspan dx="2">°</tspan><tspan dx="1.5"> single</tspan><tspan dx="0.1"> trial</tspan></text>
<text x="1103.0" y="271.9" text-anchor="middle" fill="#231f20" font-size="33.3">response</text>
<text x="1108.7" y="414.3" text-anchor="start" fill="#92278f" font-size="33.3">90<tspan dx="4.6">°</tspan><tspan dx="-0.6"> avg</tspan></text>
<text x="1109.0" y="501.5" text-anchor="start" fill="#231f20" font-size="33.3">Neuron 1</text>
<text x="1181.0" y="536.0" text-anchor="middle" fill="#231f20" font-size="33.3">activity</text>
<text transform="translate(828.0 384) rotate(-76.4)" font-size="32.6" fill="#231f20">0<tspan dx="2">°</tspan><tspan dx="2.4"> Proj</tspan></text>
<text transform="translate(891.4 515.7) rotate(-5)" font-size="32.5" fill="#92278f">90° Proj</text>
<text transform="translate(801.0 572.6) rotate(-5)" font-size="33" fill="#009444">Gain</text>
<text transform="translate(803.4 604.2) rotate(-5)" font-size="33.4" fill="#009444">Overlap</text>
<text transform="translate(967.9 591.5) rotate(-5.4)" font-size="33.2" fill="#231f20">Corrected</text>
<text transform="translate(970.2 623.2) rotate(-5.3)" font-size="32.5" fill="#231f20">90° Proj</text>
</svg>
</body></html>
